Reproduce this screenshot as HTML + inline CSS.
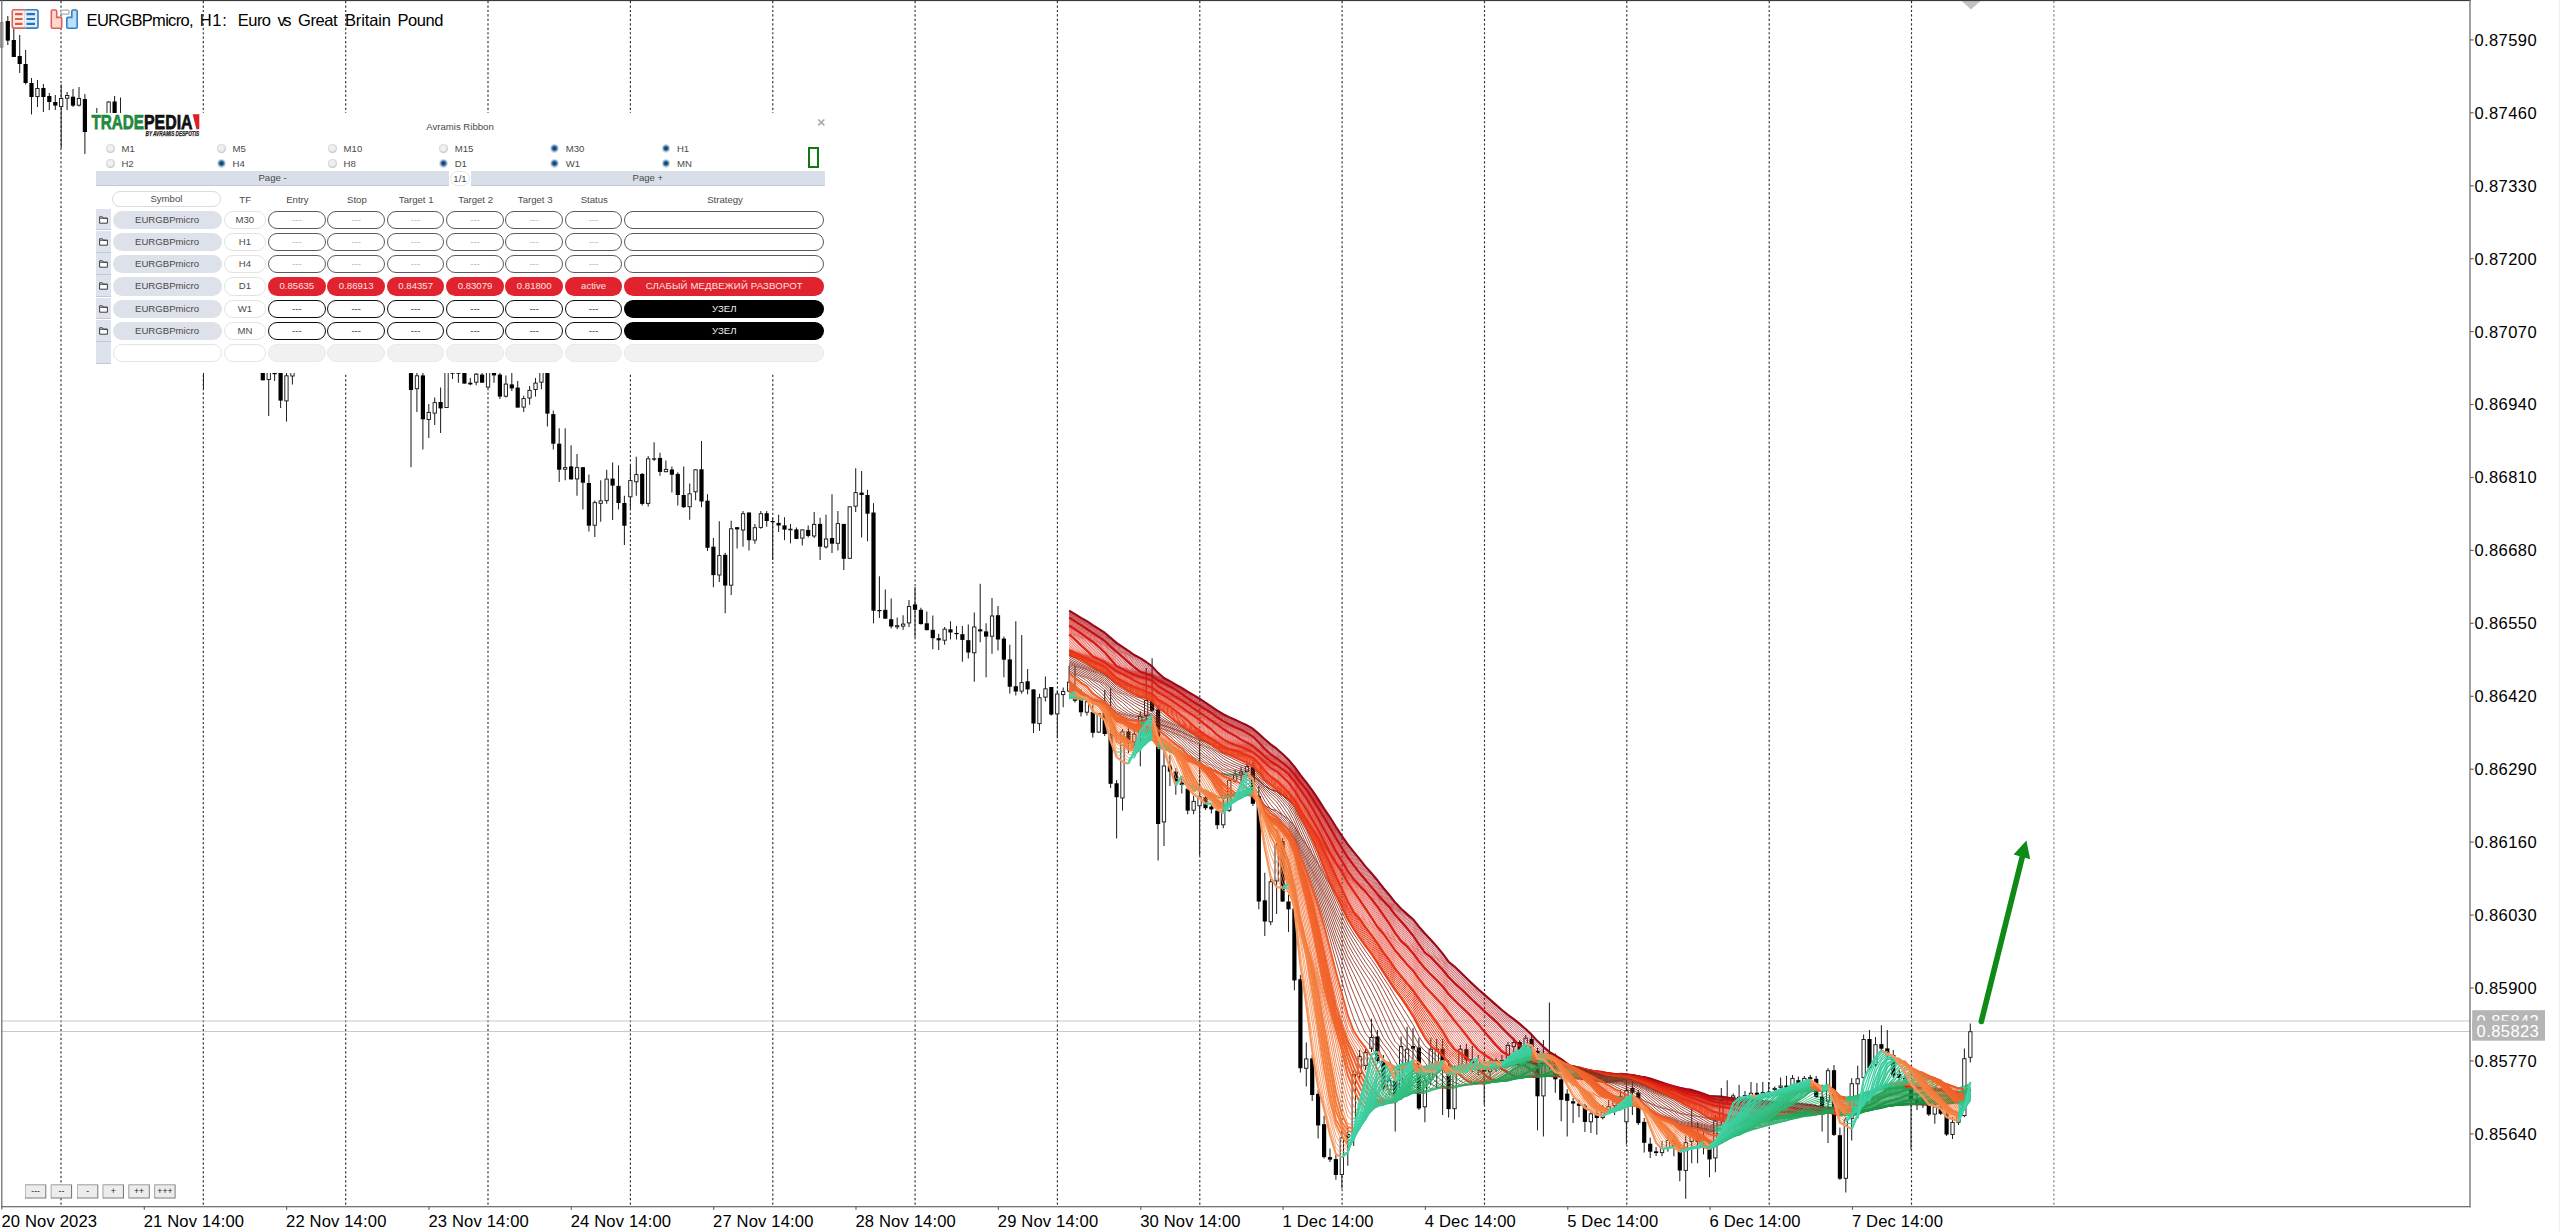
<!DOCTYPE html>
<html><head><meta charset="utf-8"><title>EURGBPmicro H1</title>
<style>
html,body{margin:0;padding:0;background:#fff;}
body{width:2560px;height:1231px;overflow:hidden;position:relative;font-family:"Liberation Sans",sans-serif;}
#ui div{position:absolute;}
</style></head><body>
<svg id="chart" width="2560" height="1231" viewBox="0 0 2560 1231" style="position:absolute;left:0;top:0"><rect width="2560" height="1231" fill="#fff"/><line x1="61.0" y1="1" x2="61.0" y2="1206" stroke="#303030" stroke-width="1.15" stroke-dasharray="2.2 2.25"/><line x1="203.3" y1="1" x2="203.3" y2="1206" stroke="#303030" stroke-width="1.15" stroke-dasharray="2.2 2.25"/><line x1="345.7" y1="1" x2="345.7" y2="1206" stroke="#303030" stroke-width="1.15" stroke-dasharray="2.2 2.25"/><line x1="488.0" y1="1" x2="488.0" y2="1206" stroke="#303030" stroke-width="1.15" stroke-dasharray="2.2 2.25"/><line x1="630.4" y1="1" x2="630.4" y2="1206" stroke="#303030" stroke-width="1.15" stroke-dasharray="2.2 2.25"/><line x1="772.8" y1="1" x2="772.8" y2="1206" stroke="#303030" stroke-width="1.15" stroke-dasharray="2.2 2.25"/><line x1="915.1" y1="1" x2="915.1" y2="1206" stroke="#303030" stroke-width="1.15" stroke-dasharray="2.2 2.25"/><line x1="1057.4" y1="1" x2="1057.4" y2="1206" stroke="#303030" stroke-width="1.15" stroke-dasharray="2.2 2.25"/><line x1="1199.8" y1="1" x2="1199.8" y2="1206" stroke="#303030" stroke-width="1.15" stroke-dasharray="2.2 2.25"/><line x1="1342.1" y1="1" x2="1342.1" y2="1206" stroke="#303030" stroke-width="1.15" stroke-dasharray="2.2 2.25"/><line x1="1484.5" y1="1" x2="1484.5" y2="1206" stroke="#303030" stroke-width="1.15" stroke-dasharray="2.2 2.25"/><line x1="1626.8" y1="1" x2="1626.8" y2="1206" stroke="#303030" stroke-width="1.15" stroke-dasharray="2.2 2.25"/><line x1="1769.2" y1="1" x2="1769.2" y2="1206" stroke="#303030" stroke-width="1.15" stroke-dasharray="2.2 2.25"/><line x1="1911.5" y1="1" x2="1911.5" y2="1206" stroke="#303030" stroke-width="1.15" stroke-dasharray="2.2 2.25"/><line x1="2053.9" y1="1" x2="2053.9" y2="1206" stroke="#808080" stroke-width="1.15" stroke-dasharray="2.2 2.25"/><line x1="2" y1="1021" x2="2470" y2="1021" stroke="#c9c9c9" stroke-width="1.1"/><line x1="2" y1="1031.5" x2="2470" y2="1031.5" stroke="#c9c9c9" stroke-width="1.1"/><g id="candles"><rect x="0.4" y="22.6" width="2.6" height="24.6" fill="#e6e6e6" stroke="#8c8c8c" stroke-width="0.9"/><path d="M7.8 16.0V45.0" stroke="#222" stroke-width="1.05"/><rect x="5.7" y="21.0" width="4.2" height="19.6" fill="#000"/><path d="M13.8 28.5V57.0" stroke="#222" stroke-width="1.05"/><rect x="11.7" y="40.0" width="4.2" height="17.0" fill="#000"/><path d="M19.7 35.0V73.0" stroke="#222" stroke-width="1.05"/><rect x="17.6" y="56.0" width="4.2" height="8.0" fill="#000"/><path d="M25.6 50.0V84.5" stroke="#222" stroke-width="1.05"/><rect x="23.5" y="64.0" width="4.2" height="19.0" fill="#000"/><path d="M31.5 78.0V114.5" stroke="#222" stroke-width="1.05"/><rect x="29.4" y="83.0" width="4.2" height="14.0" fill="#000"/><path d="M37.5 80.0V107.0" stroke="#222" stroke-width="1.05"/><rect x="35.8" y="88.5" width="3.3" height="8.1" fill="#fff" stroke="#1a1a1a" stroke-width="0.95"/><path d="M43.4 84.0V112.0" stroke="#222" stroke-width="1.05"/><rect x="41.3" y="88.0" width="4.2" height="9.0" fill="#000"/><path d="M49.3 93.0V110.0" stroke="#222" stroke-width="1.05"/><rect x="47.2" y="96.0" width="4.2" height="6.0" fill="#000"/><path d="M55.3 95.0V110.0" stroke="#222" stroke-width="1.05"/><rect x="53.2" y="102.0" width="4.2" height="3.6" fill="#000"/><path d="M61.2 84.5V148.0" stroke="#222" stroke-width="1.05"/><rect x="59.5" y="98.5" width="3.3" height="8.1" fill="#fff" stroke="#1a1a1a" stroke-width="0.95"/><path d="M67.1 92.0V110.0" stroke="#222" stroke-width="1.05"/><rect x="65.5" y="95.5" width="3.3" height="2.7" fill="#fff" stroke="#1a1a1a" stroke-width="0.95"/><path d="M73.0 89.0V107.0" stroke="#222" stroke-width="1.05"/><rect x="70.9" y="96.7" width="4.2" height="8.9" fill="#000"/><path d="M79.0 87.0V106.5" stroke="#222" stroke-width="1.05"/><rect x="77.3" y="98.5" width="3.3" height="6.7" fill="#fff" stroke="#1a1a1a" stroke-width="0.95"/><path d="M84.9 94.0V154.0" stroke="#222" stroke-width="1.05"/><rect x="82.8" y="99.0" width="4.2" height="33.0" fill="#000"/><path d="M90.8 114.0V136.0" stroke="#222" stroke-width="1.05"/><rect x="89.2" y="120.5" width="3.3" height="11.1" fill="#fff" stroke="#1a1a1a" stroke-width="0.95"/><path d="M96.8 108.0V124.0" stroke="#222" stroke-width="1.05"/><rect x="95.1" y="114.5" width="3.3" height="5.1" fill="#fff" stroke="#1a1a1a" stroke-width="0.95"/><path d="M102.7 114.0V120.0" stroke="#222" stroke-width="1.05"/><rect x="100.6" y="114.0" width="4.2" height="2.0" fill="#000"/><path d="M108.6 101.5V118.0" stroke="#222" stroke-width="1.05"/><rect x="107.0" y="102.0" width="3.3" height="13.6" fill="#fff" stroke="#1a1a1a" stroke-width="0.95"/><path d="M114.6 96.0V116.0" stroke="#222" stroke-width="1.05"/><rect x="112.5" y="101.5" width="4.2" height="12.5" fill="#000"/><path d="M120.5 97.5V118.0" stroke="#222" stroke-width="1.05"/><rect x="118.8" y="114.5" width="3.3" height="1.1" fill="#fff" stroke="#1a1a1a" stroke-width="0.95"/><path d="M203.5 360.0V389.0" stroke="#222" stroke-width="1.05"/><rect x="201.4" y="365.0" width="4.2" height="6.0" fill="#000"/><path d="M262.8 372.0V380.3" stroke="#222" stroke-width="1.05"/><rect x="260.7" y="372.0" width="4.2" height="8.3" fill="#000"/><path d="M268.7 372.0V416.0" stroke="#222" stroke-width="1.05"/><rect x="267.1" y="372.4" width="3.3" height="7.1" fill="#fff" stroke="#1a1a1a" stroke-width="0.95"/><path d="M274.6 372.0V381.0" stroke="#222" stroke-width="1.05"/><rect x="272.5" y="373.0" width="4.2" height="1.2" fill="#000"/><path d="M280.6 372.0V408.0" stroke="#222" stroke-width="1.05"/><rect x="278.5" y="372.0" width="4.2" height="28.6" fill="#000"/><path d="M286.5 372.0V421.7" stroke="#222" stroke-width="1.05"/><rect x="284.8" y="375.8" width="3.3" height="25.1" fill="#fff" stroke="#1a1a1a" stroke-width="0.95"/><path d="M292.4 372.0V384.4" stroke="#222" stroke-width="1.05"/><rect x="290.8" y="372.4" width="3.3" height="3.6" fill="#fff" stroke="#1a1a1a" stroke-width="0.95"/><path d="M411.0 372.0V467.2" stroke="#222" stroke-width="1.05"/><rect x="408.9" y="372.0" width="4.2" height="18.0" fill="#000"/><path d="M416.9 372.0V412.0" stroke="#222" stroke-width="1.05"/><rect x="415.3" y="375.8" width="3.3" height="12.9" fill="#fff" stroke="#1a1a1a" stroke-width="0.95"/><path d="M422.9 372.0V449.4" stroke="#222" stroke-width="1.05"/><rect x="420.8" y="375.4" width="4.2" height="43.9" fill="#000"/><path d="M428.8 403.9V438.0" stroke="#222" stroke-width="1.05"/><rect x="427.1" y="412.4" width="3.3" height="7.1" fill="#fff" stroke="#1a1a1a" stroke-width="0.95"/><path d="M434.7 397.4V425.0" stroke="#222" stroke-width="1.05"/><rect x="433.1" y="402.6" width="3.3" height="10.5" fill="#fff" stroke="#1a1a1a" stroke-width="0.95"/><path d="M440.6 387.6V433.0" stroke="#222" stroke-width="1.05"/><rect x="438.5" y="402.0" width="4.2" height="6.4" fill="#000"/><path d="M446.6 372.0V408.0" stroke="#222" stroke-width="1.05"/><rect x="444.9" y="372.4" width="3.3" height="35.1" fill="#fff" stroke="#1a1a1a" stroke-width="0.95"/><path d="M452.5 372.0V379.0" stroke="#222" stroke-width="1.05"/><rect x="450.4" y="372.5" width="4.2" height="1.2" fill="#000"/><path d="M458.4 372.0V382.7" stroke="#222" stroke-width="1.05"/><rect x="456.3" y="372.5" width="4.2" height="1.2" fill="#000"/><path d="M464.4 372.0V383.6" stroke="#222" stroke-width="1.05"/><rect x="462.3" y="372.0" width="4.2" height="11.6" fill="#000"/><path d="M470.3 377.9V385.2" stroke="#222" stroke-width="1.05"/><rect x="468.2" y="382.7" width="4.2" height="1.7" fill="#000"/><path d="M476.2 372.0V385.2" stroke="#222" stroke-width="1.05"/><rect x="474.6" y="374.2" width="3.3" height="8.0" fill="#fff" stroke="#1a1a1a" stroke-width="0.95"/><path d="M482.1 372.0V382.7" stroke="#222" stroke-width="1.05"/><rect x="480.0" y="374.6" width="4.2" height="8.1" fill="#000"/><path d="M488.1 372.0V388.4" stroke="#222" stroke-width="1.05"/><rect x="486.4" y="372.4" width="3.3" height="14.7" fill="#fff" stroke="#1a1a1a" stroke-width="0.95"/><path d="M494.0 372.0V382.7" stroke="#222" stroke-width="1.05"/><rect x="491.9" y="373.0" width="4.2" height="2.4" fill="#000"/><path d="M499.9 372.0V399.0" stroke="#222" stroke-width="1.05"/><rect x="497.8" y="374.6" width="4.2" height="22.0" fill="#000"/><path d="M505.9 375.4V397.4" stroke="#222" stroke-width="1.05"/><rect x="504.2" y="384.1" width="3.3" height="12.1" fill="#fff" stroke="#1a1a1a" stroke-width="0.95"/><path d="M511.8 372.0V390.9" stroke="#222" stroke-width="1.05"/><rect x="509.7" y="384.4" width="4.2" height="4.0" fill="#000"/><path d="M517.7 381.1V407.6" stroke="#222" stroke-width="1.05"/><rect x="515.6" y="387.6" width="4.2" height="20.0" fill="#000"/><path d="M523.7 395.7V412.0" stroke="#222" stroke-width="1.05"/><rect x="522.0" y="398.6" width="3.3" height="8.5" fill="#fff" stroke="#1a1a1a" stroke-width="0.95"/><path d="M529.6 386.0V404.7" stroke="#222" stroke-width="1.05"/><rect x="527.9" y="390.4" width="3.3" height="7.6" fill="#fff" stroke="#1a1a1a" stroke-width="0.95"/><path d="M535.5 377.9V396.6" stroke="#222" stroke-width="1.05"/><rect x="533.9" y="383.1" width="3.3" height="6.4" fill="#fff" stroke="#1a1a1a" stroke-width="0.95"/><path d="M541.4 372.0V389.2" stroke="#222" stroke-width="1.05"/><rect x="539.8" y="372.4" width="3.3" height="9.8" fill="#fff" stroke="#1a1a1a" stroke-width="0.95"/><path d="M547.4 372.0V426.6" stroke="#222" stroke-width="1.05"/><rect x="545.3" y="372.0" width="4.2" height="41.6" fill="#000"/><path d="M553.3 410.4V449.4" stroke="#222" stroke-width="1.05"/><rect x="551.2" y="414.1" width="4.2" height="29.6" fill="#000"/><path d="M559.2 428.2V481.9" stroke="#222" stroke-width="1.05"/><rect x="557.1" y="443.7" width="4.2" height="26.0" fill="#000"/><path d="M565.2 428.2V480.2" stroke="#222" stroke-width="1.05"/><rect x="563.5" y="467.6" width="3.3" height="1.6" fill="#fff" stroke="#1a1a1a" stroke-width="0.95"/><path d="M571.1 445.3V479.4" stroke="#222" stroke-width="1.05"/><rect x="569.0" y="466.4" width="4.2" height="13.0" fill="#000"/><path d="M577.0 453.9V495.7" stroke="#222" stroke-width="1.05"/><rect x="575.4" y="467.6" width="3.3" height="11.3" fill="#fff" stroke="#1a1a1a" stroke-width="0.95"/><path d="M582.9 467.2V509.5" stroke="#222" stroke-width="1.05"/><rect x="580.8" y="467.2" width="4.2" height="15.5" fill="#000"/><path d="M588.9 474.5V531.4" stroke="#222" stroke-width="1.05"/><rect x="586.8" y="483.0" width="4.2" height="42.7" fill="#000"/><path d="M594.8 500.5V537.1" stroke="#222" stroke-width="1.05"/><rect x="593.1" y="502.6" width="3.3" height="22.6" fill="#fff" stroke="#1a1a1a" stroke-width="0.95"/><path d="M600.7 480.2V521.7" stroke="#222" stroke-width="1.05"/><rect x="599.1" y="500.9" width="3.3" height="2.4" fill="#fff" stroke="#1a1a1a" stroke-width="0.95"/><path d="M606.7 469.7V503.8" stroke="#222" stroke-width="1.05"/><rect x="605.0" y="479.1" width="3.3" height="21.5" fill="#fff" stroke="#1a1a1a" stroke-width="0.95"/><path d="M612.6 462.4V520.0" stroke="#222" stroke-width="1.05"/><rect x="610.5" y="478.6" width="4.2" height="7.0" fill="#000"/><path d="M618.5 465.3V509.5" stroke="#222" stroke-width="1.05"/><rect x="616.4" y="485.9" width="4.2" height="17.1" fill="#000"/><path d="M624.4 495.7V544.9" stroke="#222" stroke-width="1.05"/><rect x="622.3" y="503.0" width="4.2" height="22.7" fill="#000"/><path d="M630.4 465.6V508.7" stroke="#222" stroke-width="1.05"/><rect x="628.7" y="480.6" width="3.3" height="16.2" fill="#fff" stroke="#1a1a1a" stroke-width="0.95"/><path d="M636.3 456.8V495.8" stroke="#222" stroke-width="1.05"/><rect x="634.7" y="474.6" width="3.3" height="7.2" fill="#fff" stroke="#1a1a1a" stroke-width="0.95"/><path d="M642.2 473.0V505.5" stroke="#222" stroke-width="1.05"/><rect x="640.1" y="473.9" width="4.2" height="30.0" fill="#000"/><path d="M648.2 456.0V506.4" stroke="#222" stroke-width="1.05"/><rect x="646.5" y="458.8" width="3.3" height="44.6" fill="#fff" stroke="#1a1a1a" stroke-width="0.95"/><path d="M654.1 442.2V460.9" stroke="#222" stroke-width="1.05"/><rect x="652.0" y="458.4" width="4.2" height="1.2" fill="#000"/><path d="M660.0 452.7V475.8" stroke="#222" stroke-width="1.05"/><rect x="657.9" y="457.9" width="4.2" height="14.0" fill="#000"/><path d="M665.9 460.5V472.2" stroke="#222" stroke-width="1.05"/><rect x="664.3" y="469.4" width="3.3" height="2.3" fill="#fff" stroke="#1a1a1a" stroke-width="0.95"/><path d="M671.9 466.6V492.6" stroke="#222" stroke-width="1.05"/><rect x="669.8" y="469.5" width="4.2" height="5.2" fill="#000"/><path d="M677.8 472.2V505.5" stroke="#222" stroke-width="1.05"/><rect x="675.7" y="473.9" width="4.2" height="21.1" fill="#000"/><path d="M683.7 466.6V508.0" stroke="#222" stroke-width="1.05"/><rect x="681.6" y="495.0" width="4.2" height="12.2" fill="#000"/><path d="M689.7 483.6V519.7" stroke="#222" stroke-width="1.05"/><rect x="688.0" y="493.8" width="3.3" height="12.9" fill="#fff" stroke="#1a1a1a" stroke-width="0.95"/><path d="M695.6 469.3V500.2" stroke="#222" stroke-width="1.05"/><rect x="693.9" y="469.8" width="3.3" height="22.0" fill="#fff" stroke="#1a1a1a" stroke-width="0.95"/><path d="M701.5 441.0V507.2" stroke="#222" stroke-width="1.05"/><rect x="699.4" y="469.3" width="4.2" height="32.2" fill="#000"/><path d="M707.5 494.2V551.0" stroke="#222" stroke-width="1.05"/><rect x="705.4" y="500.7" width="4.2" height="47.1" fill="#000"/><path d="M713.4 538.0V587.3" stroke="#222" stroke-width="1.05"/><rect x="711.3" y="546.7" width="4.2" height="28.4" fill="#000"/><path d="M719.3 521.3V581.9" stroke="#222" stroke-width="1.05"/><rect x="717.7" y="555.6" width="3.3" height="19.4" fill="#fff" stroke="#1a1a1a" stroke-width="0.95"/><path d="M725.2 552.7V613.3" stroke="#222" stroke-width="1.05"/><rect x="723.1" y="554.8" width="4.2" height="30.8" fill="#000"/><path d="M731.2 520.7V594.9" stroke="#222" stroke-width="1.05"/><rect x="729.5" y="528.8" width="3.3" height="56.4" fill="#fff" stroke="#1a1a1a" stroke-width="0.95"/><path d="M737.1 527.2V548.6" stroke="#222" stroke-width="1.05"/><rect x="735.0" y="527.2" width="4.2" height="2.2" fill="#000"/><path d="M743.0 510.9V546.7" stroke="#222" stroke-width="1.05"/><rect x="741.4" y="513.7" width="3.3" height="16.3" fill="#fff" stroke="#1a1a1a" stroke-width="0.95"/><path d="M749.0 512.5V550.6" stroke="#222" stroke-width="1.05"/><rect x="746.9" y="512.5" width="4.2" height="27.7" fill="#000"/><path d="M754.9 523.9V543.7" stroke="#222" stroke-width="1.05"/><rect x="753.2" y="527.7" width="3.3" height="12.4" fill="#fff" stroke="#1a1a1a" stroke-width="0.95"/><path d="M760.8 510.9V528.8" stroke="#222" stroke-width="1.05"/><rect x="759.2" y="513.7" width="3.3" height="13.7" fill="#fff" stroke="#1a1a1a" stroke-width="0.95"/><path d="M766.7 510.9V526.7" stroke="#222" stroke-width="1.05"/><rect x="764.6" y="513.2" width="4.2" height="7.8" fill="#000"/><path d="M772.7 517.7V560.0" stroke="#222" stroke-width="1.05"/><rect x="770.6" y="521.0" width="4.2" height="1.2" fill="#000"/><path d="M778.6 514.8V532.0" stroke="#222" stroke-width="1.05"/><rect x="776.5" y="522.9" width="4.2" height="2.6" fill="#000"/><path d="M784.5 517.2V540.2" stroke="#222" stroke-width="1.05"/><rect x="782.4" y="525.4" width="4.2" height="4.2" fill="#000"/><path d="M790.5 523.9V543.4" stroke="#222" stroke-width="1.05"/><rect x="788.8" y="529.2" width="3.3" height="0.6" fill="#fff" stroke="#1a1a1a" stroke-width="0.95"/><path d="M796.4 527.5V539.2" stroke="#222" stroke-width="1.05"/><rect x="794.3" y="529.4" width="4.2" height="9.5" fill="#000"/><path d="M802.3 529.4V545.4" stroke="#222" stroke-width="1.05"/><rect x="800.7" y="529.9" width="3.3" height="8.2" fill="#fff" stroke="#1a1a1a" stroke-width="0.95"/><path d="M808.2 525.5V537.6" stroke="#222" stroke-width="1.05"/><rect x="806.1" y="529.9" width="4.2" height="6.0" fill="#000"/><path d="M814.2 512.0V538.0" stroke="#222" stroke-width="1.05"/><rect x="812.5" y="524.4" width="3.3" height="11.6" fill="#fff" stroke="#1a1a1a" stroke-width="0.95"/><path d="M820.1 517.7V560.0" stroke="#222" stroke-width="1.05"/><rect x="818.0" y="523.9" width="4.2" height="22.8" fill="#000"/><path d="M826.0 514.8V548.6" stroke="#222" stroke-width="1.05"/><rect x="824.4" y="539.0" width="3.3" height="7.9" fill="#fff" stroke="#1a1a1a" stroke-width="0.95"/><path d="M832.0 494.2V553.0" stroke="#222" stroke-width="1.05"/><rect x="829.9" y="538.0" width="4.2" height="5.7" fill="#000"/><path d="M837.9 510.9V550.6" stroke="#222" stroke-width="1.05"/><rect x="836.2" y="523.6" width="3.3" height="19.7" fill="#fff" stroke="#1a1a1a" stroke-width="0.95"/><path d="M843.8 523.9V570.0" stroke="#222" stroke-width="1.05"/><rect x="841.7" y="523.9" width="4.2" height="34.9" fill="#000"/><path d="M849.7 506.4V558.8" stroke="#222" stroke-width="1.05"/><rect x="848.1" y="506.8" width="3.3" height="51.5" fill="#fff" stroke="#1a1a1a" stroke-width="0.95"/><path d="M855.7 468.2V512.0" stroke="#222" stroke-width="1.05"/><rect x="854.0" y="492.6" width="3.3" height="13.6" fill="#fff" stroke="#1a1a1a" stroke-width="0.95"/><path d="M861.6 470.9V537.6" stroke="#222" stroke-width="1.05"/><rect x="859.5" y="492.6" width="4.2" height="2.4" fill="#000"/><path d="M867.5 489.8V541.3" stroke="#222" stroke-width="1.05"/><rect x="865.4" y="495.0" width="4.2" height="18.7" fill="#000"/><path d="M873.5 503.1V623.3" stroke="#222" stroke-width="1.05"/><rect x="871.4" y="512.5" width="4.2" height="98.2" fill="#000"/><path d="M879.4 576.2V618.1" stroke="#222" stroke-width="1.05"/><rect x="877.3" y="610.0" width="4.2" height="1.2" fill="#000"/><path d="M885.3 589.5V618.7" stroke="#222" stroke-width="1.05"/><rect x="883.2" y="609.8" width="4.2" height="8.9" fill="#000"/><path d="M891.2 598.4V628.5" stroke="#222" stroke-width="1.05"/><rect x="889.1" y="619.2" width="4.2" height="7.3" fill="#000"/><path d="M897.2 617.4V629.3" stroke="#222" stroke-width="1.05"/><rect x="895.5" y="625.7" width="3.3" height="1.1" fill="#fff" stroke="#1a1a1a" stroke-width="0.95"/><path d="M903.1 615.2V629.8" stroke="#222" stroke-width="1.05"/><rect x="901.5" y="624.1" width="3.3" height="2.0" fill="#fff" stroke="#1a1a1a" stroke-width="0.95"/><path d="M909.0 600.0V626.9" stroke="#222" stroke-width="1.05"/><rect x="907.4" y="606.5" width="3.3" height="16.4" fill="#fff" stroke="#1a1a1a" stroke-width="0.95"/><path d="M915.0 587.0V637.4" stroke="#222" stroke-width="1.05"/><rect x="912.9" y="604.4" width="4.2" height="5.4" fill="#000"/><path d="M920.9 607.7V624.4" stroke="#222" stroke-width="1.05"/><rect x="918.8" y="609.8" width="4.2" height="14.3" fill="#000"/><path d="M926.8 611.4V630.4" stroke="#222" stroke-width="1.05"/><rect x="924.7" y="623.3" width="4.2" height="6.8" fill="#000"/><path d="M932.8 615.5V649.3" stroke="#222" stroke-width="1.05"/><rect x="930.7" y="629.8" width="4.2" height="8.4" fill="#000"/><path d="M938.7 633.7V649.9" stroke="#222" stroke-width="1.05"/><rect x="936.6" y="638.2" width="4.2" height="2.1" fill="#000"/><path d="M944.6 626.9V644.7" stroke="#222" stroke-width="1.05"/><rect x="943.0" y="629.2" width="3.3" height="11.0" fill="#fff" stroke="#1a1a1a" stroke-width="0.95"/><path d="M950.5 621.2V639.5" stroke="#222" stroke-width="1.05"/><rect x="948.4" y="629.3" width="4.2" height="3.2" fill="#000"/><path d="M956.5 626.0V639.5" stroke="#222" stroke-width="1.05"/><rect x="954.4" y="633.0" width="4.2" height="1.2" fill="#000"/><path d="M962.4 626.0V661.8" stroke="#222" stroke-width="1.05"/><rect x="960.3" y="634.2" width="4.2" height="5.7" fill="#000"/><path d="M968.3 624.4V658.5" stroke="#222" stroke-width="1.05"/><rect x="966.2" y="640.2" width="4.2" height="12.3" fill="#000"/><path d="M974.3 612.6V681.8" stroke="#222" stroke-width="1.05"/><rect x="972.6" y="627.0" width="3.3" height="25.8" fill="#fff" stroke="#1a1a1a" stroke-width="0.95"/><path d="M980.2 583.8V642.3" stroke="#222" stroke-width="1.05"/><rect x="978.1" y="629.3" width="4.2" height="2.1" fill="#000"/><path d="M986.1 623.3V677.2" stroke="#222" stroke-width="1.05"/><rect x="984.0" y="631.4" width="4.2" height="5.2" fill="#000"/><path d="M992.0 597.9V653.7" stroke="#222" stroke-width="1.05"/><rect x="990.4" y="616.0" width="3.3" height="20.2" fill="#fff" stroke="#1a1a1a" stroke-width="0.95"/><path d="M998.0 606.0V650.4" stroke="#222" stroke-width="1.05"/><rect x="995.9" y="615.2" width="4.2" height="24.3" fill="#000"/><path d="M1003.9 636.6V677.2" stroke="#222" stroke-width="1.05"/><rect x="1001.8" y="638.6" width="4.2" height="21.1" fill="#000"/><path d="M1009.8 644.7V693.5" stroke="#222" stroke-width="1.05"/><rect x="1007.7" y="659.4" width="4.2" height="27.3" fill="#000"/><path d="M1015.8 621.2V695.4" stroke="#222" stroke-width="1.05"/><rect x="1013.7" y="686.2" width="4.2" height="5.3" fill="#000"/><path d="M1021.7 635.0V693.8" stroke="#222" stroke-width="1.05"/><rect x="1020.0" y="682.6" width="3.3" height="8.5" fill="#fff" stroke="#1a1a1a" stroke-width="0.95"/><path d="M1027.6 669.1V694.3" stroke="#222" stroke-width="1.05"/><rect x="1025.5" y="681.3" width="4.2" height="8.1" fill="#000"/><path d="M1033.5 689.4V733.0" stroke="#222" stroke-width="1.05"/><rect x="1031.4" y="689.4" width="4.2" height="34.1" fill="#000"/><path d="M1039.5 693.8V730.8" stroke="#222" stroke-width="1.05"/><rect x="1037.8" y="697.7" width="3.3" height="25.9" fill="#fff" stroke="#1a1a1a" stroke-width="0.95"/><path d="M1045.4 676.4V701.6" stroke="#222" stroke-width="1.05"/><rect x="1043.8" y="688.8" width="3.3" height="8.3" fill="#fff" stroke="#1a1a1a" stroke-width="0.95"/><path d="M1051.3 687.0V715.4" stroke="#222" stroke-width="1.05"/><rect x="1049.2" y="687.0" width="4.2" height="27.6" fill="#000"/><path d="M1057.3 690.6V738.2" stroke="#222" stroke-width="1.05"/><rect x="1055.6" y="694.0" width="3.3" height="19.9" fill="#fff" stroke="#1a1a1a" stroke-width="0.95"/><path d="M1063.2 687.5V707.3" stroke="#222" stroke-width="1.05"/><rect x="1061.5" y="691.5" width="3.3" height="3.1" fill="#fff" stroke="#1a1a1a" stroke-width="0.95"/><path d="M1069.1 665.9V691.9" stroke="#222" stroke-width="1.05"/><rect x="1067.5" y="682.2" width="3.3" height="8.8" fill="#fff" stroke="#1a1a1a" stroke-width="0.95"/><path d="M1075.0 665.9V702.4" stroke="#222" stroke-width="1.05"/><rect x="1072.9" y="697.5" width="4.2" height="3.3" fill="#000"/><path d="M1081.0 689.4V716.5" stroke="#222" stroke-width="1.05"/><rect x="1078.9" y="700.0" width="4.2" height="12.3" fill="#000"/><path d="M1086.9 698.3V715.5" stroke="#222" stroke-width="1.05"/><rect x="1085.3" y="701.7" width="3.3" height="10.5" fill="#fff" stroke="#1a1a1a" stroke-width="0.95"/><path d="M1092.8 704.8V737.4" stroke="#222" stroke-width="1.05"/><rect x="1090.7" y="712.0" width="4.2" height="20.8" fill="#000"/><path d="M1098.8 713.0V733.0" stroke="#222" stroke-width="1.05"/><rect x="1097.1" y="713.5" width="3.3" height="18.6" fill="#fff" stroke="#1a1a1a" stroke-width="0.95"/><path d="M1104.7 690.0V736.0" stroke="#222" stroke-width="1.05"/><rect x="1102.6" y="713.0" width="4.2" height="21.0" fill="#000"/><path d="M1110.6 687.8V788.0" stroke="#222" stroke-width="1.05"/><rect x="1108.5" y="733.8" width="4.2" height="50.0" fill="#000"/><path d="M1116.6 780.0V838.6" stroke="#222" stroke-width="1.05"/><rect x="1114.5" y="783.3" width="4.2" height="13.9" fill="#000"/><path d="M1122.5 729.0V810.6" stroke="#222" stroke-width="1.05"/><rect x="1120.8" y="731.9" width="3.3" height="66.1" fill="#fff" stroke="#1a1a1a" stroke-width="0.95"/><path d="M1128.4 726.0V753.0" stroke="#222" stroke-width="1.05"/><rect x="1126.3" y="731.4" width="4.2" height="11.0" fill="#000"/><path d="M1134.3 730.0V750.0" stroke="#222" stroke-width="1.05"/><rect x="1132.7" y="734.2" width="3.3" height="7.7" fill="#fff" stroke="#1a1a1a" stroke-width="0.95"/><path d="M1140.3 711.3V766.2" stroke="#222" stroke-width="1.05"/><rect x="1138.6" y="716.5" width="3.3" height="16.9" fill="#fff" stroke="#1a1a1a" stroke-width="0.95"/><path d="M1146.2 668.0V720.0" stroke="#222" stroke-width="1.05"/><rect x="1144.5" y="700.5" width="3.3" height="15.1" fill="#fff" stroke="#1a1a1a" stroke-width="0.95"/><path d="M1152.1 658.3V712.0" stroke="#222" stroke-width="1.05"/><rect x="1150.0" y="700.0" width="4.2" height="10.7" fill="#000"/><path d="M1158.1 705.0V860.6" stroke="#222" stroke-width="1.05"/><rect x="1156.0" y="709.5" width="4.2" height="114.5" fill="#000"/><path d="M1164.0 749.7V846.0" stroke="#222" stroke-width="1.05"/><rect x="1162.3" y="766.0" width="3.3" height="55.9" fill="#fff" stroke="#1a1a1a" stroke-width="0.95"/><path d="M1169.9 755.0V786.0" stroke="#222" stroke-width="1.05"/><rect x="1167.8" y="765.5" width="4.2" height="6.1" fill="#000"/><path d="M1175.8 768.0V794.8" stroke="#222" stroke-width="1.05"/><rect x="1173.7" y="771.6" width="4.2" height="9.8" fill="#000"/><path d="M1181.8 776.5V793.5" stroke="#222" stroke-width="1.05"/><rect x="1179.7" y="782.6" width="4.2" height="2.4" fill="#000"/><path d="M1187.7 785.0V814.3" stroke="#222" stroke-width="1.05"/><rect x="1185.6" y="788.7" width="4.2" height="21.9" fill="#000"/><path d="M1193.6 796.0V814.3" stroke="#222" stroke-width="1.05"/><rect x="1192.0" y="801.4" width="3.3" height="8.8" fill="#fff" stroke="#1a1a1a" stroke-width="0.95"/><path d="M1199.6 742.4V855.7" stroke="#222" stroke-width="1.05"/><rect x="1197.9" y="796.5" width="3.3" height="9.3" fill="#fff" stroke="#1a1a1a" stroke-width="0.95"/><path d="M1205.5 795.0V810.0" stroke="#222" stroke-width="1.05"/><rect x="1203.4" y="797.2" width="4.2" height="11.0" fill="#000"/><path d="M1211.4 804.0V813.5" stroke="#222" stroke-width="1.05"/><rect x="1209.3" y="806.5" width="4.2" height="2.9" fill="#000"/><path d="M1217.3 808.0V828.9" stroke="#222" stroke-width="1.05"/><rect x="1215.2" y="810.6" width="4.2" height="14.6" fill="#000"/><path d="M1223.3 799.6V828.2" stroke="#222" stroke-width="1.05"/><rect x="1221.6" y="811.1" width="3.3" height="13.7" fill="#fff" stroke="#1a1a1a" stroke-width="0.95"/><path d="M1229.2 778.0V812.0" stroke="#222" stroke-width="1.05"/><rect x="1227.6" y="780.5" width="3.3" height="29.7" fill="#fff" stroke="#1a1a1a" stroke-width="0.95"/><path d="M1235.1 770.0V783.0" stroke="#222" stroke-width="1.05"/><rect x="1233.5" y="774.1" width="3.3" height="6.9" fill="#fff" stroke="#1a1a1a" stroke-width="0.95"/><path d="M1241.1 766.7V783.8" stroke="#222" stroke-width="1.05"/><rect x="1239.4" y="772.1" width="3.3" height="2.8" fill="#fff" stroke="#1a1a1a" stroke-width="0.95"/><path d="M1247.0 760.6V775.0" stroke="#222" stroke-width="1.05"/><rect x="1245.3" y="766.5" width="3.3" height="5.1" fill="#fff" stroke="#1a1a1a" stroke-width="0.95"/><path d="M1252.9 761.9V806.0" stroke="#222" stroke-width="1.05"/><rect x="1250.8" y="766.7" width="4.2" height="37.1" fill="#000"/><path d="M1258.8 786.0V909.3" stroke="#222" stroke-width="1.05"/><rect x="1256.7" y="796.0" width="4.2" height="105.5" fill="#000"/><path d="M1264.8 872.7V936.0" stroke="#222" stroke-width="1.05"/><rect x="1262.7" y="900.3" width="4.2" height="21.2" fill="#000"/><path d="M1270.7 878.8V925.2" stroke="#222" stroke-width="1.05"/><rect x="1269.1" y="881.8" width="3.3" height="40.0" fill="#fff" stroke="#1a1a1a" stroke-width="0.95"/><path d="M1276.6 841.0V914.0" stroke="#222" stroke-width="1.05"/><rect x="1275.0" y="845.5" width="3.3" height="35.4" fill="#fff" stroke="#1a1a1a" stroke-width="0.95"/><path d="M1282.6 838.0V902.0" stroke="#222" stroke-width="1.05"/><rect x="1280.5" y="841.0" width="4.2" height="60.5" fill="#000"/><path d="M1288.5 894.7V932.0" stroke="#222" stroke-width="1.05"/><rect x="1286.4" y="901.5" width="4.2" height="7.8" fill="#000"/><path d="M1294.4 905.0V990.2" stroke="#222" stroke-width="1.05"/><rect x="1292.3" y="908.5" width="4.2" height="71.9" fill="#000"/><path d="M1300.4 975.0V1072.6" stroke="#222" stroke-width="1.05"/><rect x="1298.3" y="979.2" width="4.2" height="89.0" fill="#000"/><path d="M1306.3 1042.6V1086.5" stroke="#222" stroke-width="1.05"/><rect x="1304.6" y="1058.9" width="3.3" height="9.4" fill="#fff" stroke="#1a1a1a" stroke-width="0.95"/><path d="M1312.2 1055.0V1101.0" stroke="#222" stroke-width="1.05"/><rect x="1310.1" y="1058.4" width="4.2" height="36.6" fill="#000"/><path d="M1318.1 1090.0V1138.4" stroke="#222" stroke-width="1.05"/><rect x="1316.0" y="1093.8" width="4.2" height="31.6" fill="#000"/><path d="M1324.1 1115.7V1158.4" stroke="#222" stroke-width="1.05"/><rect x="1322.0" y="1124.2" width="4.2" height="32.9" fill="#000"/><path d="M1330.0 1148.6V1162.0" stroke="#222" stroke-width="1.05"/><rect x="1327.9" y="1157.1" width="4.2" height="2.5" fill="#000"/><path d="M1335.9 1155.0V1179.8" stroke="#222" stroke-width="1.05"/><rect x="1333.8" y="1159.1" width="4.2" height="15.9" fill="#000"/><path d="M1341.9 1130.0V1188.8" stroke="#222" stroke-width="1.05"/><rect x="1340.2" y="1138.0" width="3.3" height="36.5" fill="#fff" stroke="#1a1a1a" stroke-width="0.95"/><path d="M1347.8 1128.0V1165.7" stroke="#222" stroke-width="1.05"/><rect x="1345.7" y="1134.0" width="4.2" height="3.6" fill="#000"/><path d="M1353.7 1070.6V1146.0" stroke="#222" stroke-width="1.05"/><rect x="1352.1" y="1074.5" width="3.3" height="62.1" fill="#fff" stroke="#1a1a1a" stroke-width="0.95"/><path d="M1359.6 1050.0V1080.0" stroke="#222" stroke-width="1.05"/><rect x="1358.0" y="1056.5" width="3.3" height="17.1" fill="#fff" stroke="#1a1a1a" stroke-width="0.95"/><path d="M1365.6 1048.7V1070.0" stroke="#222" stroke-width="1.05"/><rect x="1363.9" y="1052.5" width="3.3" height="13.1" fill="#fff" stroke="#1a1a1a" stroke-width="0.95"/><path d="M1371.5 1018.7V1052.0" stroke="#222" stroke-width="1.05"/><rect x="1369.8" y="1037.5" width="3.3" height="10.8" fill="#fff" stroke="#1a1a1a" stroke-width="0.95"/><path d="M1377.4 1030.0V1064.0" stroke="#222" stroke-width="1.05"/><rect x="1375.3" y="1036.5" width="4.2" height="24.4" fill="#000"/><path d="M1383.4 1055.0V1092.0" stroke="#222" stroke-width="1.05"/><rect x="1381.3" y="1060.9" width="4.2" height="27.1" fill="#000"/><path d="M1389.3 1075.0V1095.0" stroke="#222" stroke-width="1.05"/><rect x="1387.6" y="1080.5" width="3.3" height="9.1" fill="#fff" stroke="#1a1a1a" stroke-width="0.95"/><path d="M1395.2 1072.0V1131.5" stroke="#222" stroke-width="1.05"/><rect x="1393.1" y="1080.0" width="4.2" height="15.0" fill="#000"/><path d="M1401.1 1036.5V1100.0" stroke="#222" stroke-width="1.05"/><rect x="1399.5" y="1046.5" width="3.3" height="48.1" fill="#fff" stroke="#1a1a1a" stroke-width="0.95"/><path d="M1407.1 1026.7V1072.0" stroke="#222" stroke-width="1.05"/><rect x="1405.4" y="1049.2" width="3.3" height="18.4" fill="#fff" stroke="#1a1a1a" stroke-width="0.95"/><path d="M1413.0 1028.0V1060.0" stroke="#222" stroke-width="1.05"/><rect x="1410.9" y="1046.0" width="4.2" height="2.7" fill="#000"/><path d="M1418.9 1037.7V1110.0" stroke="#222" stroke-width="1.05"/><rect x="1416.8" y="1047.5" width="4.2" height="60.9" fill="#000"/><path d="M1424.9 1075.0V1122.3" stroke="#222" stroke-width="1.05"/><rect x="1423.2" y="1080.9" width="3.3" height="25.9" fill="#fff" stroke="#1a1a1a" stroke-width="0.95"/><path d="M1430.8 1037.7V1085.0" stroke="#222" stroke-width="1.05"/><rect x="1429.1" y="1049.2" width="3.3" height="30.4" fill="#fff" stroke="#1a1a1a" stroke-width="0.95"/><path d="M1436.7 1039.0V1088.9" stroke="#222" stroke-width="1.05"/><rect x="1435.1" y="1049.2" width="3.3" height="16.1" fill="#fff" stroke="#1a1a1a" stroke-width="0.95"/><path d="M1442.6 1039.0V1115.0" stroke="#222" stroke-width="1.05"/><rect x="1440.5" y="1048.7" width="4.2" height="14.6" fill="#000"/><path d="M1448.6 1060.0V1117.6" stroke="#222" stroke-width="1.05"/><rect x="1446.5" y="1068.2" width="4.2" height="40.9" fill="#000"/><path d="M1454.5 1065.7V1119.4" stroke="#222" stroke-width="1.05"/><rect x="1452.9" y="1068.7" width="3.3" height="40.0" fill="#fff" stroke="#1a1a1a" stroke-width="0.95"/><path d="M1460.4 1045.0V1072.0" stroke="#222" stroke-width="1.05"/><rect x="1458.8" y="1049.2" width="3.3" height="18.6" fill="#fff" stroke="#1a1a1a" stroke-width="0.95"/><path d="M1466.4 1043.8V1065.0" stroke="#222" stroke-width="1.05"/><rect x="1464.3" y="1049.2" width="4.2" height="10.4" fill="#000"/><path d="M1472.3 1046.0V1072.0" stroke="#222" stroke-width="1.05"/><rect x="1470.2" y="1059.0" width="4.2" height="7.0" fill="#000"/><path d="M1478.2 1055.0V1075.0" stroke="#222" stroke-width="1.05"/><rect x="1476.6" y="1060.5" width="3.3" height="7.1" fill="#fff" stroke="#1a1a1a" stroke-width="0.95"/><path d="M1484.2 1058.0V1104.7" stroke="#222" stroke-width="1.05"/><rect x="1482.1" y="1062.0" width="4.2" height="10.0" fill="#000"/><path d="M1490.1 1060.0V1078.0" stroke="#222" stroke-width="1.05"/><rect x="1488.4" y="1064.5" width="3.3" height="7.1" fill="#fff" stroke="#1a1a1a" stroke-width="0.95"/><path d="M1496.0 1058.0V1072.0" stroke="#222" stroke-width="1.05"/><rect x="1494.4" y="1060.5" width="3.3" height="5.1" fill="#fff" stroke="#1a1a1a" stroke-width="0.95"/><path d="M1501.9 1055.0V1070.0" stroke="#222" stroke-width="1.05"/><rect x="1499.8" y="1060.0" width="4.2" height="4.0" fill="#000"/><path d="M1507.9 1042.0V1062.0" stroke="#222" stroke-width="1.05"/><rect x="1506.2" y="1045.5" width="3.3" height="12.5" fill="#fff" stroke="#1a1a1a" stroke-width="0.95"/><path d="M1513.8 1037.7V1052.0" stroke="#222" stroke-width="1.05"/><rect x="1512.1" y="1042.5" width="3.3" height="4.1" fill="#fff" stroke="#1a1a1a" stroke-width="0.95"/><path d="M1519.7 1040.0V1055.0" stroke="#222" stroke-width="1.05"/><rect x="1517.6" y="1042.0" width="4.2" height="8.0" fill="#000"/><path d="M1525.7 1035.0V1050.0" stroke="#222" stroke-width="1.05"/><rect x="1524.0" y="1038.2" width="3.3" height="7.6" fill="#fff" stroke="#1a1a1a" stroke-width="0.95"/><path d="M1531.6 1035.0V1056.0" stroke="#222" stroke-width="1.05"/><rect x="1529.5" y="1038.9" width="4.2" height="12.2" fill="#000"/><path d="M1537.5 1048.0V1130.3" stroke="#222" stroke-width="1.05"/><rect x="1535.4" y="1051.0" width="4.2" height="45.3" fill="#000"/><path d="M1543.4 1040.0V1136.5" stroke="#222" stroke-width="1.05"/><rect x="1541.8" y="1054.0" width="3.3" height="41.9" fill="#fff" stroke="#1a1a1a" stroke-width="0.95"/><path d="M1549.4 1002.5V1070.0" stroke="#222" stroke-width="1.05"/><rect x="1547.3" y="1053.5" width="4.2" height="6.5" fill="#000"/><path d="M1555.3 1053.4V1092.7" stroke="#222" stroke-width="1.05"/><rect x="1553.2" y="1060.0" width="4.2" height="19.3" fill="#000"/><path d="M1561.2 1075.0V1121.3" stroke="#222" stroke-width="1.05"/><rect x="1559.1" y="1079.3" width="4.2" height="20.6" fill="#000"/><path d="M1567.2 1089.2V1136.5" stroke="#222" stroke-width="1.05"/><rect x="1565.1" y="1093.6" width="4.2" height="7.2" fill="#000"/><path d="M1573.1 1098.0V1123.1" stroke="#222" stroke-width="1.05"/><rect x="1571.0" y="1101.3" width="4.2" height="2.2" fill="#000"/><path d="M1579.0 1100.0V1117.2" stroke="#222" stroke-width="1.05"/><rect x="1576.9" y="1103.5" width="4.2" height="2.3" fill="#000"/><path d="M1584.9 1104.0V1132.0" stroke="#222" stroke-width="1.05"/><rect x="1582.8" y="1105.8" width="4.2" height="16.1" fill="#000"/><path d="M1590.9 1110.0V1133.0" stroke="#222" stroke-width="1.05"/><rect x="1589.2" y="1113.8" width="3.3" height="8.0" fill="#fff" stroke="#1a1a1a" stroke-width="0.95"/><path d="M1596.8 1108.0V1134.7" stroke="#222" stroke-width="1.05"/><rect x="1594.7" y="1113.3" width="4.2" height="4.7" fill="#000"/><path d="M1602.7 1105.0V1119.5" stroke="#222" stroke-width="1.05"/><rect x="1601.1" y="1112.5" width="3.3" height="5.1" fill="#fff" stroke="#1a1a1a" stroke-width="0.95"/><path d="M1608.7 1100.0V1114.0" stroke="#222" stroke-width="1.05"/><rect x="1607.0" y="1106.5" width="3.3" height="5.1" fill="#fff" stroke="#1a1a1a" stroke-width="0.95"/><path d="M1614.6 1095.0V1115.0" stroke="#222" stroke-width="1.05"/><rect x="1612.9" y="1100.5" width="3.3" height="5.1" fill="#fff" stroke="#1a1a1a" stroke-width="0.95"/><path d="M1620.5 1090.0V1104.0" stroke="#222" stroke-width="1.05"/><rect x="1618.9" y="1096.5" width="3.3" height="3.1" fill="#fff" stroke="#1a1a1a" stroke-width="0.95"/><path d="M1626.4 1073.0V1144.5" stroke="#222" stroke-width="1.05"/><rect x="1624.8" y="1090.5" width="3.3" height="31.3" fill="#fff" stroke="#1a1a1a" stroke-width="0.95"/><path d="M1632.4 1081.0V1115.0" stroke="#222" stroke-width="1.05"/><rect x="1630.3" y="1088.0" width="4.2" height="4.7" fill="#000"/><path d="M1638.3 1090.0V1125.0" stroke="#222" stroke-width="1.05"/><rect x="1636.2" y="1092.7" width="4.2" height="30.4" fill="#000"/><path d="M1644.2 1118.0V1152.6" stroke="#222" stroke-width="1.05"/><rect x="1642.1" y="1121.9" width="4.2" height="20.9" fill="#000"/><path d="M1650.2 1137.4V1158.0" stroke="#222" stroke-width="1.05"/><rect x="1648.1" y="1143.7" width="4.2" height="8.0" fill="#000"/><path d="M1656.1 1147.0V1156.0" stroke="#222" stroke-width="1.05"/><rect x="1654.0" y="1151.3" width="4.2" height="1.7" fill="#000"/><path d="M1662.0 1141.0V1156.2" stroke="#222" stroke-width="1.05"/><rect x="1660.4" y="1148.5" width="3.3" height="4.1" fill="#fff" stroke="#1a1a1a" stroke-width="0.95"/><path d="M1667.9 1133.0V1151.7" stroke="#222" stroke-width="1.05"/><rect x="1666.3" y="1140.5" width="3.3" height="7.1" fill="#fff" stroke="#1a1a1a" stroke-width="0.95"/><path d="M1673.9 1135.0V1156.2" stroke="#222" stroke-width="1.05"/><rect x="1671.8" y="1140.0" width="4.2" height="8.0" fill="#000"/><path d="M1679.8 1141.9V1181.2" stroke="#222" stroke-width="1.05"/><rect x="1677.7" y="1149.5" width="4.2" height="21.0" fill="#000"/><path d="M1685.7 1135.6V1198.7" stroke="#222" stroke-width="1.05"/><rect x="1684.1" y="1142.4" width="3.3" height="28.0" fill="#fff" stroke="#1a1a1a" stroke-width="0.95"/><path d="M1691.7 1107.0V1163.3" stroke="#222" stroke-width="1.05"/><rect x="1690.0" y="1135.5" width="3.3" height="6.0" fill="#fff" stroke="#1a1a1a" stroke-width="0.95"/><path d="M1697.6 1122.2V1163.3" stroke="#222" stroke-width="1.05"/><rect x="1695.5" y="1135.0" width="4.2" height="7.0" fill="#000"/><path d="M1703.5 1130.0V1154.4" stroke="#222" stroke-width="1.05"/><rect x="1701.4" y="1142.0" width="4.2" height="4.3" fill="#000"/><path d="M1709.5 1140.0V1177.2" stroke="#222" stroke-width="1.05"/><rect x="1707.4" y="1146.3" width="4.2" height="13.1" fill="#000"/><path d="M1715.4 1115.0V1172.2" stroke="#222" stroke-width="1.05"/><rect x="1713.7" y="1120.9" width="3.3" height="37.0" fill="#fff" stroke="#1a1a1a" stroke-width="0.95"/><path d="M1721.3 1087.9V1125.0" stroke="#222" stroke-width="1.05"/><rect x="1719.7" y="1100.5" width="3.3" height="19.5" fill="#fff" stroke="#1a1a1a" stroke-width="0.95"/><path d="M1727.2 1080.2V1105.0" stroke="#222" stroke-width="1.05"/><rect x="1725.6" y="1098.5" width="3.3" height="1.1" fill="#fff" stroke="#1a1a1a" stroke-width="0.95"/><path d="M1733.2 1093.6V1100.0" stroke="#222" stroke-width="1.05"/><rect x="1731.5" y="1095.9" width="3.3" height="1.8" fill="#fff" stroke="#1a1a1a" stroke-width="0.95"/><path d="M1739.1 1084.7V1101.0" stroke="#222" stroke-width="1.05"/><rect x="1737.0" y="1096.8" width="4.2" height="2.2" fill="#000"/><path d="M1745.0 1091.0V1101.0" stroke="#222" stroke-width="1.05"/><rect x="1743.4" y="1095.5" width="3.3" height="3.1" fill="#fff" stroke="#1a1a1a" stroke-width="0.95"/><path d="M1751.0 1082.0V1100.0" stroke="#222" stroke-width="1.05"/><rect x="1749.3" y="1093.2" width="3.3" height="5.4" fill="#fff" stroke="#1a1a1a" stroke-width="0.95"/><path d="M1756.9 1083.0V1099.0" stroke="#222" stroke-width="1.05"/><rect x="1754.8" y="1092.7" width="4.2" height="4.1" fill="#000"/><path d="M1762.8 1082.0V1098.0" stroke="#222" stroke-width="1.05"/><rect x="1761.2" y="1092.5" width="3.3" height="3.9" fill="#fff" stroke="#1a1a1a" stroke-width="0.95"/><path d="M1768.7 1082.0V1097.0" stroke="#222" stroke-width="1.05"/><rect x="1767.1" y="1092.0" width="3.3" height="3.0" fill="#fff" stroke="#1a1a1a" stroke-width="0.95"/><path d="M1774.7 1086.5V1093.6" stroke="#222" stroke-width="1.05"/><rect x="1773.0" y="1088.4" width="3.3" height="1.2" fill="#fff" stroke="#1a1a1a" stroke-width="0.95"/><path d="M1780.6 1077.5V1089.0" stroke="#222" stroke-width="1.05"/><rect x="1779.0" y="1086.0" width="3.3" height="1.4" fill="#fff" stroke="#1a1a1a" stroke-width="0.95"/><path d="M1786.5 1075.8V1089.0" stroke="#222" stroke-width="1.05"/><rect x="1784.4" y="1085.6" width="4.2" height="2.3" fill="#000"/><path d="M1792.5 1075.0V1087.0" stroke="#222" stroke-width="1.05"/><rect x="1790.8" y="1078.4" width="3.3" height="6.8" fill="#fff" stroke="#1a1a1a" stroke-width="0.95"/><path d="M1798.4 1076.6V1085.0" stroke="#222" stroke-width="1.05"/><rect x="1796.3" y="1080.2" width="4.2" height="2.7" fill="#000"/><path d="M1804.3 1076.0V1084.0" stroke="#222" stroke-width="1.05"/><rect x="1802.7" y="1078.4" width="3.3" height="3.2" fill="#fff" stroke="#1a1a1a" stroke-width="0.95"/><path d="M1810.2 1075.0V1082.0" stroke="#222" stroke-width="1.05"/><rect x="1808.1" y="1077.2" width="4.2" height="1.8" fill="#000"/><path d="M1816.2 1076.0V1098.0" stroke="#222" stroke-width="1.05"/><rect x="1814.1" y="1078.8" width="4.2" height="18.2" fill="#000"/><path d="M1822.1 1084.5V1131.6" stroke="#222" stroke-width="1.05"/><rect x="1820.0" y="1096.7" width="4.2" height="10.5" fill="#000"/><path d="M1828.0 1068.0V1143.0" stroke="#222" stroke-width="1.05"/><rect x="1826.4" y="1070.7" width="3.3" height="30.4" fill="#fff" stroke="#1a1a1a" stroke-width="0.95"/><path d="M1834.0 1065.0V1136.0" stroke="#222" stroke-width="1.05"/><rect x="1831.9" y="1070.2" width="4.2" height="64.7" fill="#000"/><path d="M1839.9 1127.5V1180.0" stroke="#222" stroke-width="1.05"/><rect x="1837.8" y="1135.2" width="4.2" height="43.5" fill="#000"/><path d="M1845.8 1117.0V1192.5" stroke="#222" stroke-width="1.05"/><rect x="1844.2" y="1119.9" width="3.3" height="58.4" fill="#fff" stroke="#1a1a1a" stroke-width="0.95"/><path d="M1851.7 1078.3V1140.5" stroke="#222" stroke-width="1.05"/><rect x="1850.1" y="1083.7" width="3.3" height="34.9" fill="#fff" stroke="#1a1a1a" stroke-width="0.95"/><path d="M1857.7 1065.8V1097.5" stroke="#222" stroke-width="1.05"/><rect x="1856.0" y="1078.8" width="3.3" height="5.0" fill="#fff" stroke="#1a1a1a" stroke-width="0.95"/><path d="M1863.6 1034.4V1080.0" stroke="#222" stroke-width="1.05"/><rect x="1862.0" y="1039.5" width="3.3" height="38.1" fill="#fff" stroke="#1a1a1a" stroke-width="0.95"/><path d="M1869.5 1030.0V1070.0" stroke="#222" stroke-width="1.05"/><rect x="1867.4" y="1039.0" width="4.2" height="29.2" fill="#000"/><path d="M1875.5 1037.0V1068.0" stroke="#222" stroke-width="1.05"/><rect x="1873.8" y="1044.7" width="3.3" height="19.9" fill="#fff" stroke="#1a1a1a" stroke-width="0.95"/><path d="M1881.4 1025.2V1052.0" stroke="#222" stroke-width="1.05"/><rect x="1879.3" y="1044.2" width="4.2" height="4.5" fill="#000"/><path d="M1887.3 1030.0V1060.0" stroke="#222" stroke-width="1.05"/><rect x="1885.2" y="1048.4" width="4.2" height="6.8" fill="#000"/><path d="M1893.3 1050.0V1078.0" stroke="#222" stroke-width="1.05"/><rect x="1891.2" y="1055.0" width="4.2" height="20.5" fill="#000"/><path d="M1899.2 1070.0V1082.0" stroke="#222" stroke-width="1.05"/><rect x="1897.1" y="1074.0" width="4.2" height="4.0" fill="#000"/><path d="M1905.1 1074.0V1090.0" stroke="#222" stroke-width="1.05"/><rect x="1903.0" y="1078.0" width="4.2" height="5.0" fill="#000"/><path d="M1911.0 1080.0V1149.5" stroke="#222" stroke-width="1.05"/><rect x="1908.9" y="1083.0" width="4.2" height="17.0" fill="#000"/><path d="M1917.0 1095.0V1110.0" stroke="#222" stroke-width="1.05"/><rect x="1914.9" y="1100.0" width="4.2" height="4.0" fill="#000"/><path d="M1922.9 1098.0V1108.0" stroke="#222" stroke-width="1.05"/><rect x="1921.2" y="1100.5" width="3.3" height="3.1" fill="#fff" stroke="#1a1a1a" stroke-width="0.95"/><path d="M1928.8 1100.0V1116.0" stroke="#222" stroke-width="1.05"/><rect x="1926.7" y="1102.0" width="4.2" height="12.5" fill="#000"/><path d="M1934.8 1100.0V1123.8" stroke="#222" stroke-width="1.05"/><rect x="1933.1" y="1106.9" width="3.3" height="7.2" fill="#fff" stroke="#1a1a1a" stroke-width="0.95"/><path d="M1940.7 1100.0V1115.0" stroke="#222" stroke-width="1.05"/><rect x="1938.6" y="1106.4" width="4.2" height="7.3" fill="#000"/><path d="M1946.6 1110.0V1136.0" stroke="#222" stroke-width="1.05"/><rect x="1944.5" y="1113.7" width="4.2" height="20.8" fill="#000"/><path d="M1952.5 1117.0V1139.0" stroke="#222" stroke-width="1.05"/><rect x="1950.9" y="1122.4" width="3.3" height="12.1" fill="#fff" stroke="#1a1a1a" stroke-width="0.95"/><path d="M1958.5 1112.0V1125.0" stroke="#222" stroke-width="1.05"/><rect x="1956.8" y="1116.7" width="3.3" height="5.6" fill="#fff" stroke="#1a1a1a" stroke-width="0.95"/><path d="M1964.4 1048.4V1117.0" stroke="#222" stroke-width="1.05"/><rect x="1962.7" y="1058.7" width="3.3" height="56.9" fill="#fff" stroke="#1a1a1a" stroke-width="0.95"/><path d="M1970.3 1023.6V1062.5" stroke="#222" stroke-width="1.05"/><rect x="1968.7" y="1031.7" width="3.3" height="25.6" fill="#fff" stroke="#1a1a1a" stroke-width="0.95"/></g><g id="ribbon" fill="none" stroke-linejoin="round" transform="matrix(5.929,0,0,1,1069.12,0)" style="vector-effect:non-scaling-stroke"><path vector-effect="non-scaling-stroke" d="M0 610.6L1 614.1L2 617.8L3 621.2L4 625.1L5 628.8L6 632.7L7 637.9L8 642.9L9 646.8L10 650.8L11 655.0L12 658.1L13 662.0L14 666.4L15 672.9L16 678.0L17 681.2L18 684.6L19 687.9L20 691.6L21 695.1L22 698.6L23 702.6L24 706.6L25 710.6L26 714.2L27 717.1L28 719.8L29 722.6L30 725.3L31 728.7L32 733.9L33 739.3L34 744.4L35 748.7L36 754.0L37 759.8L38 766.7L39 774.8L40 782.3L41 790.3L42 799.2L43 808.5L44 817.3L45 826.8L46 835.8L47 844.3L48 851.9L49 859.2L50 866.6L51 873.3L52 880.3L53 888.0L54 895.0L55 902.6L56 908.8L57 914.1L58 919.2L59 926.7L60 933.5L61 939.8L62 946.4L63 953.7L64 961.7L65 966.5L66 972.2L67 978.0L68 983.7L69 989.2L70 994.4L71 999.6L72 1004.9L73 1010.0L74 1014.8L75 1019.1L76 1023.9L77 1029.0L78 1034.6L79 1041.1L80 1046.8L81 1051.9L82 1055.5L83 1059.1L84 1063.5L85 1068.6L86 1072.7L87 1077.0L88 1079.6L89 1080.6L90 1081.7L91 1081.9M96 1076.9L97 1077.0L98 1078.5L99 1080.5L100 1082.4L101 1084.4L102 1086.2L103 1087.8L104 1089.1L105 1089.9L106 1091.8L107 1093.7L108 1096.0L109 1096.2L110 1096.6L111 1097.6L112 1098.5L113 1099.2M114 1098.9L115 1099.4L116 1100.4L117 1101.0L118 1101.5L119 1102.1L120 1102.4L121 1102.9L122 1103.2L123 1103.6L124 1104.2L125 1105.0L126 1105.9L127 1107.3L128 1107.7L129 1108.5L130 1111.0L131 1112.2L132 1112.2M141 1104.0L142 1104.0L143 1104.2L144 1104.4L145 1104.8" stroke="#980816" stroke-width="2.1"/><path vector-effect="non-scaling-stroke" d="M91 1081.9L92 1081.4L93 1080.2L94 1078.8L95 1077.1L96 1076.9M113 1099.2L114 1098.9M132 1112.2L133 1111.8L134 1110.6L135 1109.9L136 1108.6L137 1107.2L138 1106.0L139 1105.2L140 1104.5L141 1104.0M145 1104.8L146 1104.5L147 1103.9L148 1103.6L149 1102.9L150 1102.3L151 1100.7L152 1098.3" stroke="#16883a" stroke-width="2.10"/><path vector-effect="non-scaling-stroke" d="M0 611.3L1 614.8L2 618.5L3 621.9L4 625.9L5 629.5L6 633.6L7 638.7L8 643.8L9 647.6L10 651.8L11 655.8L12 659.4L13 663.4L14 667.8L15 674.2L16 678.5L17 681.8L18 685.2L19 688.4L20 692.2L21 695.7L22 699.3L23 703.4L24 707.3L25 711.3L26 714.9L27 717.7L28 720.5L29 723.3L30 726.0L31 729.4L32 734.6L33 740.2L34 745.3L35 749.6L36 755.1L37 760.8L38 767.5L39 775.5L40 783.0L41 791.2L42 800.1L43 809.2L44 818.2L45 828.0L46 836.8L47 845.5L48 853.2L49 860.6L50 867.9L51 874.6L52 881.7L53 889.3L54 896.4L55 904.0L56 909.9L57 915.1L58 920.7L59 928.2L60 935.1L61 941.6L62 948.4L63 955.7L64 962.8L65 968.2L66 973.8L67 979.6L68 985.3L69 990.6L70 996.0L71 1001.3L72 1006.5L73 1011.7L74 1016.3L75 1020.8L76 1025.9L77 1031.1L78 1036.7L79 1043.3L80 1048.8L81 1053.2L82 1056.6L83 1060.5L84 1065.2L85 1070.0L86 1074.1L87 1077.8L88 1079.7L89 1080.8L90 1081.6M96 1076.4L97 1077.0L98 1078.7L99 1080.7L100 1082.7L101 1084.6L102 1086.2L103 1087.9L104 1089.0L105 1090.2L106 1092.1L107 1094.1L108 1095.9L109 1096.3L110 1097.0L111 1098.0L112 1098.8L113 1099.1L114 1099.2L115 1099.8L116 1100.7L117 1101.3L118 1101.9L119 1102.3L120 1102.7L121 1103.2L122 1103.5L123 1104.1L124 1104.8L125 1105.4L126 1106.5L127 1107.8L128 1107.8L129 1108.9L130 1111.4L131 1112.4M141 1104.1L142 1104.1L143 1104.3L144 1104.5L145 1104.7" stroke="#9e0916" stroke-width="0.62"/><path vector-effect="non-scaling-stroke" d="M90 1081.6L91 1081.6L92 1080.8L93 1079.5L94 1078.0L95 1076.7L96 1076.4M131 1112.4L132 1112.3L133 1111.9L134 1110.6L135 1109.9L136 1108.5L137 1107.1L138 1105.9L139 1105.1L140 1104.5L141 1104.1M145 1104.7L146 1104.2L147 1103.5L148 1103.2L149 1102.6L150 1102.0L151 1100.3L152 1097.7" stroke="#16893b" stroke-width="0.62"/><path vector-effect="non-scaling-stroke" d="M0 612.0L1 615.5L2 619.2L3 622.6L4 626.7L5 630.3L6 634.5L7 639.4L8 644.6L9 648.5L10 652.8L11 656.5L12 660.6L13 664.8L14 669.2L15 675.5L16 679.1L17 682.3L18 685.7L19 688.9L20 692.7L21 696.3L22 700.1L23 704.1L24 708.0L25 712.0L26 715.5L27 718.3L28 721.2L29 724.1L30 726.8L31 730.1L32 735.2L33 741.1L34 746.2L35 750.5L36 756.2L37 761.8L38 768.4L39 776.3L40 783.7L41 792.1L42 801.0L43 809.9L44 819.2L45 829.1L46 837.8L47 846.7L48 854.5L49 862.1L50 869.3L51 875.9L52 883.2L53 890.6L54 897.9L55 905.4L56 910.9L57 916.0L58 922.2L59 929.7L60 936.7L61 943.4L62 950.4L63 957.7L64 963.9L65 969.8L66 975.5L67 981.2L68 986.9L69 992.1L70 997.5L71 1003.0L72 1008.1L73 1013.3L74 1017.8L75 1022.5L76 1027.9L77 1033.2L78 1038.9L79 1045.6L80 1050.8L81 1054.4L82 1057.7L83 1062.0L84 1067.0L85 1071.4L86 1075.4L87 1078.5L88 1079.8L89 1081.0L90 1081.5M96 1075.9L97 1077.0L98 1078.9L99 1080.9L100 1083.1L101 1084.8L102 1086.1L103 1088.0L104 1089.0L105 1090.6L106 1092.5L107 1094.5L108 1095.7L109 1096.4L110 1097.4L111 1098.4L112 1099.1M113 1099.1L114 1099.4L115 1100.3L116 1101.1L117 1101.6L118 1102.2L119 1102.6L120 1103.0L121 1103.6L122 1103.9L123 1104.5L124 1105.3L125 1105.9L126 1107.0L127 1108.2M128 1107.9L129 1109.4L130 1111.8L131 1112.7M141 1104.1L142 1104.2L143 1104.4L144 1104.6" stroke="#a30a15" stroke-width="0.62"/><path vector-effect="non-scaling-stroke" d="M90 1081.5L91 1081.2L92 1080.2L93 1078.9L94 1077.2L95 1076.2L96 1075.9M112 1099.1L113 1099.1M127 1108.2L128 1107.9M131 1112.7L132 1112.4L133 1112.0L134 1110.7L135 1109.9L136 1108.4L137 1107.1L138 1105.8L139 1105.0L140 1104.5L141 1104.1M144 1104.6L145 1104.5L146 1103.9L147 1103.1L148 1102.7L149 1102.2L150 1101.7L151 1099.9L152 1097.1" stroke="#17893b" stroke-width="0.62"/><path vector-effect="non-scaling-stroke" d="M0 612.7L1 616.2L2 619.9L3 623.3L4 627.4L5 631.1L6 635.3L7 640.2L8 645.5L9 649.4L10 653.8L11 657.6L12 661.9L13 666.2L14 670.5L15 676.5L16 679.6L17 682.9L18 686.2L19 689.5L20 693.3L21 697.0L22 700.8L23 704.9L24 708.6L25 712.6L26 716.1L27 719.0L28 722.0L29 724.8L30 727.5L31 730.8L32 736.0L33 742.1L34 747.2L35 751.5L36 757.3L37 762.7L38 769.2L39 777.0L40 784.5L41 793.0L42 801.8L43 810.8L44 820.3L45 830.1L46 838.9L47 848.0L48 855.9L49 863.5L50 870.6L51 877.3L52 884.6L53 891.9L54 899.4L55 906.6L56 911.9L57 917.3L58 923.8L59 931.3L60 938.5L61 945.4L62 952.5L63 959.2L64 965.3L65 971.5L66 977.1L67 982.8L68 988.4L69 993.6L70 999.2L71 1004.6L72 1009.8L73 1014.9L74 1019.5L75 1024.4L76 1029.9L77 1035.3L78 1041.1L79 1047.7L80 1052.4L81 1055.6L82 1059.0L83 1063.6L84 1068.6L85 1072.7L86 1076.5L87 1079.0L88 1080.0L89 1081.0L90 1081.2M96 1075.6L97 1077.1L98 1079.1L99 1081.2L100 1083.4L101 1084.9L102 1086.2L103 1088.0L104 1089.1L105 1090.9L106 1092.8L107 1094.6L108 1095.8L109 1096.7L110 1097.8L111 1098.7L112 1099.2M113 1099.1L114 1099.8L115 1100.6L116 1101.4L117 1101.9L118 1102.5L119 1102.9L120 1103.3L121 1103.9L122 1104.3L123 1105.0L124 1105.7L125 1106.4L126 1107.6L127 1108.5M128 1108.2L129 1109.8L130 1112.2L131 1112.9M141 1104.1L142 1104.2L143 1104.5L144 1104.5" stroke="#a90b15" stroke-width="0.62"/><path vector-effect="non-scaling-stroke" d="M90 1081.2L91 1080.7L92 1079.5L93 1078.2L94 1076.6L95 1075.7L96 1075.6M112 1099.2L113 1099.1M127 1108.5L128 1108.2M131 1112.9L132 1112.5L133 1112.1L134 1110.7L135 1109.9L136 1108.3L137 1107.0L138 1105.7L139 1105.0L140 1104.5L141 1104.1M144 1104.5L145 1104.3L146 1103.5L147 1102.7L148 1102.4L149 1101.9L150 1101.3L151 1099.4L152 1096.7" stroke="#178a3c" stroke-width="0.62"/><path vector-effect="non-scaling-stroke" d="M0 613.4L1 616.9L2 620.6L3 624.1L4 628.2L5 632.0L6 636.0L7 641.0L8 646.3L9 650.5L10 654.6L11 658.8L12 663.3L13 667.6L14 671.8L15 677.0L16 680.2L17 683.4L18 686.7L19 690.0L20 693.8L21 697.7L22 701.6L23 705.5L24 709.3L25 713.2L26 716.7L27 719.8L28 722.7L29 725.6L30 728.2L31 731.5L32 736.9L33 743.0L34 748.1L35 752.6L36 758.2L37 763.6L38 769.9L39 777.7L40 785.4L41 793.8L42 802.4L43 811.7L44 821.4L45 831.1L46 840.1L47 849.3L48 857.3L49 864.8L50 871.9L51 878.8L52 885.8L53 893.4L54 900.7L55 907.6L56 912.8L57 918.8L58 925.3L59 932.9L60 940.3L61 947.4L62 954.5L63 960.3L64 967.0L65 973.1L66 978.7L67 984.4L68 989.9L69 995.2L70 1000.9L71 1006.2L72 1011.4L73 1016.5L74 1021.2L75 1026.4L76 1032.0L77 1037.5L78 1043.4L79 1049.7L80 1053.7L81 1056.7L82 1060.5L83 1065.4L84 1070.0L85 1074.1L86 1077.2L87 1079.1L88 1080.1L89 1080.9M95 1075.1L96 1075.6L97 1077.3L98 1079.3L99 1081.6L100 1083.6L101 1084.9L102 1086.2L103 1087.9L104 1089.5L105 1091.3L106 1093.2L107 1094.5L108 1095.9L109 1097.1L110 1098.2L111 1099.0L112 1099.1L113 1099.4L114 1100.2L115 1101.0L116 1101.7L117 1102.3L118 1102.8L119 1103.2L120 1103.7L121 1104.2L122 1104.7L123 1105.6L124 1106.2L125 1107.0L126 1108.0L127 1108.6M128 1108.6L129 1110.2L130 1112.4L131 1113.0M141 1104.2L142 1104.4L143 1104.6" stroke="#ae0c15" stroke-width="0.62"/><path vector-effect="non-scaling-stroke" d="M89 1080.9L90 1080.9L91 1080.1L92 1078.9L93 1077.4L94 1076.1L95 1075.1M127 1108.6L128 1108.6M131 1113.0L132 1112.6L133 1112.1L134 1110.8L135 1109.8L136 1108.3L137 1106.9L138 1105.7L139 1105.0L140 1104.5L141 1104.2M143 1104.6L144 1104.4L145 1104.0L146 1103.1L147 1102.3L148 1102.0L149 1101.5L150 1100.9L151 1098.8L152 1096.3" stroke="#178a3c" stroke-width="0.62"/><path vector-effect="non-scaling-stroke" d="M0 614.1L1 617.6L2 621.3L3 624.8L4 628.9L5 632.9L6 636.8L7 641.9L8 647.2L9 651.5L10 655.3L11 660.1L12 664.7L13 669.0L14 673.1L15 677.6L16 680.8L17 684.0L18 687.2L19 690.5L20 694.4L21 698.5L22 702.4L23 706.2L24 709.9L25 713.8L26 717.4L27 720.5L28 723.5L29 726.3L30 729.0L31 732.1L32 737.8L33 743.9L34 749.0L35 753.8L36 759.2L37 764.4L38 770.5L39 778.4L40 786.2L41 794.7L42 803.1L43 812.6L44 822.5L45 832.0L46 841.3L47 850.6L48 858.8L49 866.2L50 873.3L51 880.2L52 887.1L53 894.9L54 902.1L55 908.6L56 913.8L57 920.4L58 926.8L59 934.6L60 942.2L61 949.4L62 956.5L63 961.5L64 968.6L65 974.8L66 980.4L67 986.1L68 991.4L69 996.8L70 1002.5L71 1007.9L72 1013.1L73 1018.1L74 1023.0L75 1028.4L76 1034.2L77 1039.7L78 1045.7L79 1051.7L80 1054.9L81 1057.8L82 1061.9L83 1067.2L84 1071.4L85 1075.4L86 1078.0L87 1079.2L88 1080.3L89 1080.8M95 1074.6L96 1075.7L97 1077.5L98 1079.5L99 1082.0L100 1083.8L101 1084.9L102 1086.3L103 1087.8L104 1089.8L105 1091.6L106 1093.6L107 1094.4L108 1096.0L109 1097.5L110 1098.6L111 1099.3M112 1099.0L113 1099.7L114 1100.6L115 1101.3L116 1102.0L117 1102.6L118 1103.0L119 1103.5L120 1104.1L121 1104.6L122 1105.2L123 1106.1L124 1106.7L125 1107.5L126 1108.5L127 1108.7L128 1109.1L129 1110.6L130 1112.7L131 1113.1M141 1104.3L142 1104.5L143 1104.7" stroke="#b40d14" stroke-width="0.62"/><path vector-effect="non-scaling-stroke" d="M89 1080.8L90 1080.5L91 1079.4L92 1078.2L93 1076.6L94 1075.6L95 1074.6M111 1099.3L112 1099.0M131 1113.1L132 1112.7L133 1112.2L134 1110.8L135 1109.7L136 1108.3L137 1106.8L138 1105.6L139 1105.0L140 1104.5L141 1104.3M143 1104.7L144 1104.2L145 1103.6L146 1102.7L147 1101.9L148 1101.6L149 1101.2L150 1100.6L151 1098.2L152 1095.9" stroke="#178b3d" stroke-width="0.62"/><path vector-effect="non-scaling-stroke" d="M0 614.8L1 618.3L2 622.0L3 625.6L4 629.8L5 633.6L6 637.6L7 642.7L8 648.2L9 652.3L10 656.6L11 661.5L12 666.2L13 670.3L14 673.6L15 678.1L16 681.3L17 684.5L18 687.7L19 691.1L20 695.2L21 699.2L22 703.0L23 706.8L24 710.5L25 714.5L26 718.1L27 721.3L28 724.2L29 727.1L30 729.6L31 733.0L32 738.8L33 744.8L34 750.1L35 754.7L36 760.1L37 765.1L38 771.2L39 779.2L40 787.1L41 795.3L42 804.0L43 813.7L44 823.4L45 833.2L46 842.6L47 852.0L48 860.1L49 867.5L50 874.7L51 881.5L52 888.6L53 896.3L54 903.1L55 909.5L56 915.3L57 921.9L58 928.4L59 936.4L60 944.2L61 951.5L62 957.6L63 963.1L64 970.3L65 976.4L66 982.0L67 987.6L68 993.0L69 998.5L70 1004.2L71 1009.6L72 1014.7L73 1019.8L74 1025.0L75 1030.6L76 1036.4L77 1042.0L78 1047.7L79 1053.0L80 1056.1L81 1059.3L82 1063.8L83 1068.6L84 1072.8L85 1076.2L86 1078.1L87 1079.3L88 1080.2L89 1080.4M95 1074.6L96 1075.8L97 1077.7L98 1079.9L99 1082.1L100 1083.7L101 1084.9L102 1086.2L103 1088.2L104 1090.2L105 1092.0L106 1093.5L107 1094.5L108 1096.4L109 1097.9L110 1098.9L111 1099.2L112 1099.3L113 1100.1L114 1101.0L115 1101.6L116 1102.3L117 1102.9L118 1103.4L119 1103.9L120 1104.4L121 1105.1L122 1105.8L123 1106.6L124 1107.3L125 1108.0L126 1108.6L127 1109.2L128 1109.5L129 1110.9L130 1112.8L131 1113.2M141 1104.4L142 1104.6" stroke="#b90e14" stroke-width="0.62"/><path vector-effect="non-scaling-stroke" d="M89 1080.4L90 1079.9L91 1078.8L92 1077.4L93 1076.0L94 1075.0L95 1074.6M131 1113.2L132 1112.8L133 1112.3L134 1110.7L135 1109.7L136 1108.2L137 1106.8L138 1105.6L139 1105.0L140 1104.6L141 1104.4M142 1104.6L143 1104.6L144 1103.9L145 1103.2L146 1102.3L147 1101.5L148 1101.3L149 1100.8L150 1100.0L151 1097.8L152 1095.6" stroke="#188b3d" stroke-width="0.62"/><path vector-effect="non-scaling-stroke" d="M0 615.5L1 619.0L2 622.8L3 626.4L4 630.7L5 634.3L6 638.5L7 643.6L8 649.3L9 653.1L10 657.9L11 662.9L12 667.6L13 671.7L14 674.2L15 678.7L16 681.8L17 684.9L18 688.3L19 691.7L20 695.9L21 700.0L22 703.7L23 707.5L24 711.2L25 715.1L26 718.9L27 722.0L28 725.0L29 727.8L30 730.3L31 733.9L32 739.7L33 745.7L34 751.3L35 755.7L36 760.9L37 765.8L38 771.9L39 780.0L40 787.9L41 795.9L42 804.9L43 814.8L44 824.3L45 834.4L46 843.9L47 853.5L48 861.5L49 868.8L50 876.2L51 882.8L52 890.0L53 897.6L54 904.1L55 910.5L56 916.9L57 923.4L58 930.0L59 938.3L60 946.3L61 953.5L62 958.7L63 964.8L64 972.0L65 978.1L66 983.7L67 989.1L68 994.6L69 1000.2L70 1005.9L71 1011.3L72 1016.3L73 1021.6L74 1027.1L75 1032.7L76 1038.6L77 1044.4L78 1049.8L79 1054.3L80 1057.2L81 1060.8L82 1065.6L83 1070.1L84 1074.1L85 1077.1L86 1078.2L87 1079.5L88 1080.1M94 1074.5L95 1074.6L96 1076.0L97 1077.9L98 1080.3L99 1082.3L100 1083.7L101 1084.9L102 1086.1L103 1088.6L104 1090.5L105 1092.4L106 1093.3L107 1094.6L108 1096.8L109 1098.3L110 1099.2M111 1099.1L112 1099.5L113 1100.5L114 1101.3L115 1101.9L116 1102.7L117 1103.1L118 1103.7L119 1104.3L120 1104.7L121 1105.6L122 1106.3L123 1107.0L124 1107.8L125 1108.5L126 1108.7L127 1109.7L128 1109.9L129 1111.2L130 1112.9L131 1113.3M141 1104.5L142 1104.7" stroke="#bb0f14" stroke-width="0.62"/><path vector-effect="non-scaling-stroke" d="M88 1080.1L89 1080.0L90 1079.2L91 1078.1L92 1076.6L93 1075.5L94 1074.5M110 1099.2L111 1099.1M131 1113.3L132 1112.9L133 1112.3L134 1110.6L135 1109.6L136 1108.1L137 1106.7L138 1105.6L139 1105.1L140 1104.7L141 1104.5M142 1104.7L143 1104.4L144 1103.6L145 1102.8L146 1101.8L147 1101.1L148 1100.9L149 1100.4L150 1099.4L151 1097.5L152 1095.2" stroke="#188c3e" stroke-width="0.62"/><path vector-effect="non-scaling-stroke" d="M0 616.2L1 619.7L2 623.6L3 627.2L4 631.5L5 635.1L6 639.3L7 644.5L8 650.2L9 654.1L10 659.2L11 664.4L12 669.0L13 672.6L14 674.7L15 679.2L16 682.3L17 685.5L18 688.8L19 692.3L20 696.7L21 700.7L22 704.3L23 708.1L24 711.8L25 715.8L26 719.6L27 722.8L28 725.7L29 728.5L30 731.0L31 734.8L32 740.6L33 746.7L34 752.3L35 756.6L36 761.7L37 766.4L38 772.6L39 780.8L40 788.6L41 796.6L42 805.8L43 815.7L44 825.3L45 835.6L46 845.2L47 854.9L48 862.8L49 870.2L50 877.5L51 884.1L52 891.5L53 898.8L54 905.1L55 911.7L56 918.4L57 925.0L58 931.8L59 940.3L60 948.3L61 955.1L62 960.1L63 966.5L64 973.6L65 979.7L66 985.3L67 990.6L68 996.3L69 1001.9L70 1007.5L71 1012.9L72 1018.0L73 1023.5L74 1029.2L75 1035.0L76 1040.9L77 1046.6L78 1051.4L79 1055.5L80 1058.5L81 1062.5L82 1067.3L83 1071.5L84 1075.2L85 1077.5L86 1078.3L87 1079.5L88 1079.8M94 1074.2L95 1074.7L96 1076.2L97 1078.2L98 1080.5L99 1082.4L100 1083.7L101 1084.9L102 1086.3L103 1088.9L104 1090.9L105 1092.5L106 1093.3L107 1094.9L108 1097.2L109 1098.7L110 1099.3M111 1099.2L112 1099.9L113 1100.9L114 1101.7L115 1102.2L116 1103.0L117 1103.4L118 1104.0L119 1104.6L120 1105.2L121 1106.1L122 1106.8L123 1107.6L124 1108.4L125 1108.8L126 1109.0L127 1110.1L128 1110.2L129 1111.3L130 1113.0L131 1113.4M141 1104.6L142 1104.6" stroke="#bd0f14" stroke-width="0.62"/><path vector-effect="non-scaling-stroke" d="M88 1079.8L89 1079.5L90 1078.5L91 1077.3L92 1075.9L93 1075.0L94 1074.2M110 1099.3L111 1099.2M131 1113.4L132 1113.0L133 1112.3L134 1110.6L135 1109.6L136 1108.0L137 1106.7L138 1105.7L139 1105.1L140 1104.8L141 1104.6M142 1104.6L143 1104.2L144 1103.2L145 1102.4L146 1101.4L147 1100.7L148 1100.6L149 1099.9L150 1098.9L151 1097.1L152 1094.9" stroke="#188c3e" stroke-width="0.62"/><path vector-effect="non-scaling-stroke" d="M0 616.9L1 620.5L2 624.4L3 628.1L4 632.3L5 636.0L6 640.1L7 645.6L8 651.0L9 655.4L10 660.7L11 665.8L12 670.4L13 673.1L14 675.3L15 679.8L16 682.8L17 686.0L18 689.4L19 693.1L20 697.4L21 701.4L22 705.0L23 708.7L24 712.4L25 716.5L26 720.4L27 723.6L28 726.5L29 729.2L30 731.9L31 735.7L32 741.5L33 747.9L34 753.3L35 757.5L36 762.3L37 767.1L38 773.4L39 781.6L40 789.1L41 797.5L42 806.8L43 816.6L44 826.5L45 836.9L46 846.6L47 856.2L48 864.1L49 871.6L50 878.8L51 885.6L52 892.8L53 899.8L54 906.0L55 913.3L56 919.9L57 926.7L58 933.7L59 942.3L60 950.4L61 956.2L62 961.8L63 968.1L64 975.3L65 981.4L66 986.8L67 992.3L68 998.1L69 1003.6L70 1009.3L71 1014.5L72 1019.8L73 1025.6L74 1031.4L75 1037.3L76 1043.3L77 1048.7L78 1052.7L79 1056.7L80 1060.1L81 1064.4L82 1068.7L83 1072.9L84 1076.1L85 1077.6L86 1078.5L87 1079.4M94 1074.2L95 1074.9L96 1076.4L97 1078.5L98 1080.7L99 1082.3L100 1083.7L101 1084.8L102 1086.6L103 1089.3L104 1091.3L105 1092.3L106 1093.4L107 1095.3L108 1097.7L109 1099.0L110 1099.2L111 1099.5L112 1100.3L113 1101.3L114 1102.0L115 1102.6L116 1103.2L117 1103.8L118 1104.4L119 1105.0L120 1105.7L121 1106.7L122 1107.3L123 1108.2L124 1108.9L125 1108.9L126 1109.5L127 1110.5M128 1110.5L129 1111.4L130 1113.1L131 1113.5" stroke="#bf1013" stroke-width="0.62"/><path vector-effect="non-scaling-stroke" d="M87 1079.4L88 1079.4L89 1078.8L90 1077.8L91 1076.5L92 1075.3L93 1074.4L94 1074.2M127 1110.5L128 1110.5M131 1113.5L132 1113.0L133 1112.2L134 1110.5L135 1109.5L136 1108.0L137 1106.7L138 1105.7L139 1105.2L140 1104.9L141 1104.7L142 1104.5L143 1103.8L144 1102.8L145 1102.0L146 1101.0L147 1100.4L148 1100.2L149 1099.3L150 1098.5L151 1096.8L152 1094.5" stroke="#188d3f" stroke-width="0.62"/><path vector-effect="non-scaling-stroke" d="M0 617.6L1 621.3L2 625.1L3 629.0L4 633.0L5 636.8L6 640.9L7 646.6L8 651.8L9 656.7L10 662.1L11 667.3L12 671.7L13 673.7L14 675.8L15 680.3L16 683.3L17 686.5L18 689.9L19 693.8L20 698.2L21 702.0L22 705.6L23 709.3L24 713.0L25 717.3L26 721.1L27 724.3L28 727.2L29 729.8L30 732.9L31 736.6L32 742.4L33 749.0L34 754.3L35 758.3L36 763.0L37 767.7L38 774.2L39 782.4L40 789.7L41 798.4L42 807.9L43 817.5L44 827.6L45 838.1L46 848.0L47 857.5L48 865.4L49 873.1L50 880.0L51 887.1L52 894.2L53 900.8L54 907.0L55 914.9L56 921.5L57 928.3L58 935.5L59 944.4L60 952.5L61 957.3L62 963.5L63 969.8L64 977.0L65 983.1L66 988.3L67 993.9L68 999.8L69 1005.3L70 1011.0L71 1016.2L72 1021.6L73 1027.8L74 1033.7L75 1039.5L76 1045.7L77 1050.8L78 1054.0L79 1057.8L80 1061.6L81 1066.3L82 1070.1L83 1074.3L84 1076.9L85 1077.7L86 1078.7L87 1079.3M93 1073.9L94 1074.2L95 1075.0L96 1076.6L97 1078.9L98 1080.9L99 1082.3L100 1083.8L101 1084.7L102 1087.0L103 1089.6L104 1091.6L105 1092.2L106 1093.5L107 1095.7L108 1098.1L109 1099.3M110 1099.1L111 1099.8L112 1100.8L113 1101.6L114 1102.3L115 1103.0L116 1103.5L117 1104.1L118 1104.8L119 1105.3L120 1106.2L121 1107.2L122 1107.8L123 1108.8L124 1109.4M125 1109.0L126 1110.0L127 1111.0M128 1110.8L129 1111.5L130 1113.2L131 1113.6" stroke="#c11113" stroke-width="2.1"/><path vector-effect="non-scaling-stroke" d="M87 1079.3L88 1079.0L89 1078.2L90 1077.1L91 1075.6L92 1074.8L93 1073.9M109 1099.3L110 1099.1M124 1109.4L125 1109.0M127 1111.0L128 1110.8M131 1113.6L132 1113.1L133 1112.1L134 1110.5L135 1109.4L136 1108.0L137 1106.7L138 1105.8L139 1105.3L140 1105.0L141 1104.8L142 1104.3L143 1103.5L144 1102.4L145 1101.5L146 1100.6L147 1100.1L148 1099.8L149 1098.7L150 1098.1L151 1096.5L152 1094.1" stroke="#198d40" stroke-width="2.10"/><path vector-effect="non-scaling-stroke" d="M0 618.3L1 622.0L2 626.0L3 629.7L4 633.9L5 637.6L6 642.0L7 647.4L8 653.1L9 658.1L10 663.6L11 668.7L12 672.3L13 674.2L14 676.3L15 680.8L16 683.8L17 687.1L18 690.7L19 694.6L20 698.8L21 702.7L22 706.2L23 709.9L24 713.8L25 718.0L26 721.9L27 725.1L28 727.9L29 730.7L30 733.8L31 737.5L32 743.5L33 750.0L34 755.1L35 758.9L36 763.6L37 768.5L38 774.9L39 782.9L40 790.5L41 799.3L42 808.7L43 818.6L44 828.8L45 839.5L46 849.3L47 858.8L48 866.9L49 874.4L50 881.5L51 888.4L52 895.2L53 901.7L54 908.5L55 916.4L56 923.1L57 930.2L58 937.6L59 946.5L60 953.6L61 959.0L62 965.2L63 971.5L64 978.7L65 984.7L66 990.0L67 995.7L68 1001.5L69 1007.0L70 1012.6L71 1018.0L72 1023.7L73 1030.0L74 1036.0L75 1042.0L76 1047.9L77 1052.1L78 1055.2L79 1059.4L80 1063.5L81 1067.7L82 1071.6L83 1075.1L84 1077.0L85 1077.8L86 1078.5L87 1078.9M93 1073.9L94 1074.4L95 1075.3L96 1076.9L97 1079.1L98 1080.8L99 1082.3L100 1083.7L101 1085.1L102 1087.3L103 1090.0L104 1091.5L105 1092.3L106 1093.9L107 1096.1L108 1098.4L109 1099.2L110 1099.4L111 1100.2L112 1101.1L113 1102.0L114 1102.6L115 1103.3L116 1103.9L117 1104.5L118 1105.2L119 1105.9L120 1106.8L121 1107.7L122 1108.4L123 1109.3L124 1109.5L125 1109.5L126 1110.4L127 1111.3M128 1110.9L129 1111.6L130 1113.3L131 1113.6" stroke="#c31113" stroke-width="0.62"/><path vector-effect="non-scaling-stroke" d="M87 1078.9L88 1078.3L89 1077.4L90 1076.3L91 1075.1L92 1074.2L93 1073.9M127 1111.3L128 1110.9M131 1113.6L132 1113.0L133 1112.1L134 1110.5L135 1109.4L136 1108.0L137 1106.8L138 1105.8L139 1105.4L140 1105.2L141 1104.7L142 1104.0L143 1103.1L144 1101.9L145 1101.1L146 1100.3L147 1099.6L148 1099.1L149 1098.3L150 1097.8L151 1096.1L152 1093.6" stroke="#198e40" stroke-width="0.62"/><path vector-effect="non-scaling-stroke" d="M0 619.1L1 622.8L2 626.9L3 630.4L4 634.7L5 638.5L6 643.0L7 648.2L8 654.4L9 659.6L10 665.1L11 670.0L12 672.8L13 674.8L14 676.8L15 681.2L16 684.3L17 687.6L18 691.4L19 695.3L20 699.5L21 703.3L22 706.8L23 710.6L24 714.5L25 718.8L26 722.7L27 725.8L28 728.6L29 731.7L30 734.7L31 738.4L32 744.6L33 751.0L34 756.0L35 759.6L36 764.2L37 769.2L38 775.7L39 783.5L40 791.3L41 800.3L42 809.5L43 819.7L44 830.0L45 840.9L46 850.7L47 860.1L48 868.3L49 875.6L50 883.0L51 889.8L52 896.2L53 902.7L54 910.1L55 917.9L56 924.8L57 932.1L58 939.7L59 948.6L60 954.7L61 960.7L62 966.9L63 973.2L64 980.4L65 986.2L66 991.6L67 997.4L68 1003.2L69 1008.7L70 1014.3L71 1019.8L72 1025.9L73 1032.3L74 1038.3L75 1044.4L76 1050.0L77 1053.4L78 1056.4L79 1061.0L80 1065.4L81 1069.2L82 1073.0L83 1075.9L84 1077.0L85 1078.0L86 1078.4L87 1078.5M92 1073.7L93 1073.9L94 1074.6L95 1075.5L96 1077.3L97 1079.2L98 1080.7L99 1082.3L100 1083.6L101 1085.4L102 1087.6L103 1090.3L104 1091.3L105 1092.4L106 1094.3L107 1096.5L108 1098.7L109 1099.1L110 1099.7L111 1100.7L112 1101.5L113 1102.3L114 1103.0L115 1103.5L116 1104.2L117 1104.9L118 1105.5L119 1106.4L120 1107.4L121 1108.2L122 1109.1L123 1109.8M124 1109.6L125 1110.0L126 1110.8L127 1111.5M128 1111.0L129 1111.7L130 1113.4L131 1113.7" stroke="#c61213" stroke-width="0.62"/><path vector-effect="non-scaling-stroke" d="M87 1078.5L88 1077.6L89 1076.7L90 1075.4L91 1074.5L92 1073.7M123 1109.8L124 1109.6M127 1111.5L128 1111.0M131 1113.7L132 1112.9L133 1112.1L134 1110.4L135 1109.4L136 1108.0L137 1106.8L138 1105.9L139 1105.6L140 1105.3L141 1104.5L142 1103.6L143 1102.6L144 1101.5L145 1100.7L146 1099.9L147 1099.2L148 1098.5L149 1097.9L150 1097.5L151 1095.7L152 1093.1" stroke="#198e41" stroke-width="0.62"/><path vector-effect="non-scaling-stroke" d="M0 619.9L1 623.6L2 627.7L3 631.2L4 635.5L5 639.4L6 643.9L7 649.2L8 655.8L9 661.1L10 666.5L11 671.0L12 673.4L13 675.3L14 677.3L15 681.7L16 684.9L17 688.3L18 692.2L19 696.0L20 700.1L21 703.9L22 707.4L23 711.2L24 715.2L25 719.5L26 723.5L27 726.5L28 729.4L29 732.6L30 735.6L31 739.4L32 745.7L33 751.9L34 756.7L35 760.2L36 764.9L37 770.0L38 776.3L39 784.1L40 792.2L41 801.2L42 810.5L43 820.8L44 831.3L45 842.2L46 851.9L47 861.5L48 869.7L49 877.0L50 884.4L51 891.0L52 897.1L53 903.9L54 911.6L55 919.5L56 926.6L57 934.1L58 941.8L59 950.2L60 956.2L61 962.5L62 968.6L63 974.9L64 982.0L65 987.8L66 993.4L67 999.2L68 1004.9L69 1010.5L70 1016.0L71 1021.8L72 1028.1L73 1034.6L74 1040.7L75 1046.7L76 1051.8L77 1054.7L78 1057.8L79 1062.8L80 1067.2L81 1070.7L82 1074.1L83 1076.4L84 1077.2L85 1078.0L86 1078.1M92 1073.4L93 1074.0L94 1074.8L95 1075.7L96 1077.5L97 1079.3L98 1080.7L99 1082.3L100 1083.7L101 1085.8L102 1088.0L103 1090.4L104 1091.3L105 1092.7L106 1094.8L107 1096.9L108 1098.8L109 1099.2L110 1100.0L111 1101.1L112 1101.9L113 1102.6L114 1103.3L115 1103.8L116 1104.6L117 1105.3L118 1106.0L119 1107.0L120 1107.9L121 1108.8L122 1109.6L123 1110.1M124 1109.9L125 1110.5L126 1111.2L127 1111.7M128 1111.1L129 1111.8L130 1113.5L131 1113.7" stroke="#c81312" stroke-width="0.62"/><path vector-effect="non-scaling-stroke" d="M86 1078.1L87 1077.9L88 1076.9L89 1075.9L90 1074.7L91 1074.0L92 1073.4M123 1110.1L124 1109.9M127 1111.7L128 1111.1M131 1113.7L132 1112.9L133 1112.1L134 1110.4L135 1109.4L136 1108.0L137 1106.9L138 1106.0L139 1105.7L140 1105.2L141 1104.3L142 1103.3L143 1102.2L144 1101.0L145 1100.3L146 1099.5L147 1098.7L148 1098.0L149 1097.6L150 1097.1L151 1095.2L152 1092.6" stroke="#1a8f41" stroke-width="0.62"/><path vector-effect="non-scaling-stroke" d="M0 620.7L1 624.5L2 628.5L3 632.1L4 636.4L5 640.5L6 644.7L7 650.5L8 657.2L9 662.6L10 667.9L11 671.5L12 673.9L13 675.8L14 677.8L15 682.3L16 685.4L17 689.0L18 692.9L19 696.7L20 700.8L21 704.5L22 708.0L23 712.0L24 716.0L25 720.3L26 724.2L27 727.2L28 730.3L29 733.5L30 736.5L31 740.5L32 746.6L33 752.7L34 757.3L35 760.8L36 765.7L37 770.7L38 776.8L39 784.9L40 793.2L41 802.0L42 811.5L43 822.0L44 832.7L45 843.5L46 853.2L47 862.9L48 870.9L49 878.5L50 885.8L51 891.9L52 898.0L53 905.5L54 913.2L55 921.2L56 928.5L57 936.2L58 943.9L59 951.3L60 957.9L61 964.2L62 970.3L63 976.6L64 983.6L65 989.5L66 995.1L67 1000.9L68 1006.7L69 1012.1L70 1017.9L71 1024.0L72 1030.4L73 1037.0L74 1043.2L75 1048.9L76 1053.1L77 1055.9L78 1059.4L79 1064.7L80 1068.7L81 1072.1L82 1075.0L83 1076.5L84 1077.3L85 1077.9M91 1073.4L92 1073.4L93 1074.1L94 1075.0L95 1076.1L96 1077.7L97 1079.2L98 1080.7L99 1082.2L100 1084.0L101 1086.1L102 1088.3L103 1090.3L104 1091.4L105 1093.1L106 1095.2L107 1097.2L108 1098.7L109 1099.5L110 1100.5L111 1101.5L112 1102.2L113 1103.0L114 1103.6L115 1104.2L116 1105.0L117 1105.7L118 1106.5L119 1107.6L120 1108.4L121 1109.4L122 1110.2L123 1110.3L124 1110.4L125 1110.9L126 1111.5L127 1111.8M128 1111.2L129 1111.9L130 1113.6L131 1113.6" stroke="#ca1312" stroke-width="0.62"/><path vector-effect="non-scaling-stroke" d="M85 1077.9L86 1077.7L87 1077.2L88 1076.2L89 1075.0L90 1074.1L91 1073.4M127 1111.8L128 1111.2M131 1113.6L132 1112.9L133 1112.0L134 1110.3L135 1109.4L136 1108.1L137 1107.0L138 1106.2L139 1105.8L140 1105.1L141 1103.9L142 1102.8L143 1101.7L144 1100.6L145 1100.0L146 1099.1L147 1098.0L148 1097.6L149 1097.2L150 1096.7L151 1094.8L152 1092.0" stroke="#1a8f42" stroke-width="0.62"/><path vector-effect="non-scaling-stroke" d="M0 621.4L1 625.4L2 629.2L3 632.9L4 637.2L5 641.5L6 645.5L7 651.8L8 658.7L9 664.1L10 669.3L11 672.1L12 674.5L13 676.3L14 678.2L15 682.8L16 686.0L17 689.8L18 693.7L19 697.3L20 701.4L21 705.1L22 708.6L23 712.7L24 716.7L25 721.1L26 725.0L27 727.9L28 731.2L29 734.4L30 737.3L31 741.6L32 747.6L33 753.5L34 758.0L35 761.4L36 766.4L37 771.4L38 777.3L39 785.7L40 794.1L41 802.8L42 812.6L43 823.2L44 834.0L45 844.8L46 854.5L47 864.4L48 872.1L49 879.9L50 887.2L51 892.9L52 898.9L53 907.0L54 914.7L55 922.9L56 930.4L57 938.3L58 946.0L59 952.5L60 959.6L61 965.9L62 972.0L63 978.3L64 985.1L65 991.2L66 996.9L67 1002.6L68 1008.5L69 1013.8L70 1019.7L71 1026.2L72 1032.7L73 1039.4L74 1045.7L75 1051.1L76 1054.5L77 1057.1L78 1061.0L79 1066.7L80 1070.2L81 1073.6L82 1075.8L83 1076.5L84 1077.5L85 1077.7M91 1072.8L92 1073.4L93 1074.3L94 1075.2L95 1076.4L96 1077.9L97 1079.1L98 1080.7L99 1082.0L100 1084.4L101 1086.4L102 1088.7L103 1090.1L104 1091.5L105 1093.5L106 1095.6L107 1097.5L108 1098.6L109 1099.8L110 1101.0L111 1101.8L112 1102.5L113 1103.4L114 1103.9L115 1104.6L116 1105.4L117 1106.0L118 1107.1L119 1108.1L120 1108.9L121 1110.1L122 1110.7M123 1110.4L124 1110.9L125 1111.4L126 1111.8L127 1111.9M128 1111.3L129 1112.0L130 1113.6" stroke="#cc1412" stroke-width="0.62"/><path vector-effect="non-scaling-stroke" d="M85 1077.7L86 1077.3L87 1076.5L88 1075.4L89 1074.1L90 1073.5L91 1072.8M122 1110.7L123 1110.4M127 1111.9L128 1111.3M130 1113.6L131 1113.6L132 1112.9L133 1112.0L134 1110.3L135 1109.5L136 1108.2L137 1107.1L138 1106.3L139 1105.9L140 1104.9L141 1103.6L142 1102.4L143 1101.3L144 1100.2L145 1099.6L146 1098.7L147 1097.4L148 1097.2L149 1096.9L150 1096.3L151 1094.3L152 1091.4" stroke="#1a9042" stroke-width="0.62"/><path vector-effect="non-scaling-stroke" d="M0 622.3L1 626.2L2 630.0L3 633.7L4 638.3L5 642.3L6 646.8L7 653.3L8 660.2L9 665.5L10 669.8L11 672.7L12 675.0L13 676.8L14 678.7L15 683.3L16 686.7L17 690.5L18 694.3L19 697.9L20 702.0L21 705.7L22 709.4L23 713.5L24 717.5L25 721.9L26 725.7L27 728.8L28 732.1L29 735.3L30 738.5L31 742.6L32 748.4L33 754.2L34 758.6L35 762.2L36 767.1L37 771.9L38 778.0L39 786.6L40 794.8L41 803.8L42 813.7L43 824.5L44 835.3L45 846.0L46 855.9L47 865.6L48 873.6L49 881.3L50 888.1L51 893.8L52 900.5L53 908.5L54 916.4L55 924.8L56 932.5L57 940.4L58 947.1L59 954.2L60 961.4L61 967.6L62 973.7L63 979.9L64 986.8L65 993.0L66 998.7L67 1004.4L68 1010.2L69 1015.7L70 1022.0L71 1028.5L72 1035.1L73 1041.9L74 1047.9L75 1052.5L76 1055.7L77 1058.8L78 1063.0L79 1068.2L80 1071.6L81 1074.4L82 1075.9L83 1076.7L84 1077.3M91 1072.8L92 1073.6L93 1074.5L94 1075.5L95 1076.6L96 1077.8L97 1079.1L98 1080.6L99 1082.4L100 1084.7L101 1086.8L102 1088.5L103 1090.2L104 1091.9L105 1093.9L106 1095.9L107 1097.4L108 1098.9L109 1100.3L110 1101.4L111 1102.2L112 1102.9L113 1103.7L114 1104.3L115 1105.0L116 1105.8L117 1106.6L118 1107.7L119 1108.7L120 1109.6L121 1110.6L122 1110.8L123 1110.9L124 1111.4L125 1111.7L126 1111.9L127 1112.1M128 1111.3L129 1112.0L130 1113.5L131 1113.6" stroke="#cd1512" stroke-width="0.62"/><path vector-effect="non-scaling-stroke" d="M84 1077.3L85 1077.3L86 1076.5L87 1075.7L88 1074.5L89 1073.5L90 1072.9L91 1072.8M127 1112.1L128 1111.3M131 1113.6L132 1112.8L133 1112.0L134 1110.4L135 1109.6L136 1108.3L137 1107.3L138 1106.5L139 1105.8L140 1104.6L141 1103.1L142 1101.9L143 1100.8L144 1099.8L145 1099.1L146 1098.0L147 1096.9L148 1096.8L149 1096.5L150 1095.8L151 1093.7L152 1091.1" stroke="#1a9043" stroke-width="0.62"/><path vector-effect="non-scaling-stroke" d="M0 623.2L1 626.9L2 630.9L3 634.6L4 639.3L5 643.0L6 648.1L7 654.8L8 661.8L9 666.9L10 670.4L11 673.2L12 675.5L13 677.3L14 679.2L15 683.9L16 687.5L17 691.2L18 694.9L19 698.6L20 702.6L21 706.3L22 710.1L23 714.2L24 718.3L25 722.6L26 726.3L27 729.8L28 733.1L29 736.2L30 739.6L31 743.5L32 749.2L33 754.8L34 759.2L35 762.9L36 767.9L37 772.3L38 778.8L39 787.5L40 795.6L41 804.8L42 814.8L43 825.8L44 836.5L45 847.3L46 857.3L47 866.8L48 875.1L49 882.6L50 889.1L51 894.7L52 902.0L53 910.1L54 918.1L55 926.7L56 934.7L57 942.6L58 948.3L59 955.9L60 963.1L61 969.4L62 975.5L63 981.4L64 988.5L65 994.8L66 1000.4L67 1006.2L68 1011.9L69 1017.6L70 1024.2L71 1030.9L72 1037.6L73 1044.4L74 1050.2L75 1053.9L76 1057.0L77 1060.4L78 1065.0L79 1069.8L80 1073.1L81 1075.3L82 1076.0L83 1076.9L84 1077.2M90 1072.3L91 1072.8L92 1073.7L93 1074.7L94 1075.9L95 1076.7L96 1077.7L97 1079.1L98 1080.5L99 1082.7L100 1085.0L101 1087.1L102 1088.3L103 1090.3L104 1092.3L105 1094.3L106 1096.2L107 1097.3L108 1099.2L109 1100.8L110 1101.7L111 1102.5L112 1103.3L113 1104.0L114 1104.7L115 1105.4L116 1106.2L117 1107.2L118 1108.3L119 1109.2L120 1110.3L121 1111.2M122 1111.0L123 1111.5L124 1111.9L125 1112.0L126 1112.0L127 1112.2M128 1111.4L129 1112.1L130 1113.5L131 1113.6" stroke="#ce1612" stroke-width="0.62"/><path vector-effect="non-scaling-stroke" d="M84 1077.2L85 1076.8L86 1075.8L87 1074.9L88 1073.5L89 1072.9L90 1072.3M121 1111.2L122 1111.0M127 1112.2L128 1111.4M131 1113.6L132 1112.8L133 1112.0L134 1110.4L135 1109.6L136 1108.4L137 1107.4L138 1106.6L139 1105.6L140 1104.2L141 1102.7L142 1101.4L143 1100.4L144 1099.4L145 1098.7L146 1097.3L147 1096.5L148 1096.5L149 1096.1L150 1095.4L151 1093.1L152 1090.9" stroke="#1b9143" stroke-width="0.62"/><path vector-effect="non-scaling-stroke" d="M0 624.0L1 627.7L2 631.7L3 635.5L4 640.2L5 644.1L6 649.5L7 656.3L8 663.2L9 667.9L10 670.9L11 673.8L12 676.0L13 677.7L14 679.7L15 684.5L16 688.2L17 691.9L18 695.6L19 699.2L20 703.2L21 707.0L22 710.9L23 715.0L24 719.1L25 723.3L26 727.1L27 730.7L28 734.0L29 737.3L30 740.7L31 744.4L32 749.9L33 755.4L34 759.9L35 763.6L36 768.4L37 772.9L38 779.6L39 788.3L40 796.4L41 805.8L42 816.0L43 827.0L44 837.7L45 848.6L46 858.6L47 868.2L48 876.5L49 883.8L50 890.0L51 895.9L52 903.6L53 911.7L54 919.9L55 928.8L56 936.8L57 944.2L58 949.7L59 957.7L60 964.9L61 971.1L62 977.1L63 983.1L64 990.3L65 996.6L66 1002.2L67 1008.0L68 1013.7L69 1019.7L70 1026.5L71 1033.3L72 1040.1L73 1046.9L74 1052.0L75 1055.2L76 1058.4L77 1062.2L78 1066.8L79 1071.3L80 1074.3L81 1075.8L82 1076.1L83 1076.9M90 1072.0L91 1072.9L92 1073.9L93 1075.0L94 1076.1L95 1076.7L96 1077.6L97 1079.0L98 1080.6L99 1083.0L100 1085.4L101 1087.2L102 1088.3L103 1090.5L104 1092.7L105 1094.7L106 1096.3L107 1097.3L108 1099.6L109 1101.2L110 1102.1L111 1102.9L112 1103.6L113 1104.3L114 1105.1L115 1105.8L116 1106.7L117 1107.8L118 1108.9L119 1109.8L120 1110.9L121 1111.5M122 1111.3L123 1112.0L124 1112.3M126 1112.1L127 1112.3M128 1111.5L129 1112.1L130 1113.4L131 1113.6" stroke="#d01712" stroke-width="0.62"/><path vector-effect="non-scaling-stroke" d="M83 1076.9L84 1076.9L85 1076.2L86 1075.0L87 1074.0L88 1072.8L89 1072.3L90 1072.0M121 1111.5L122 1111.3M124 1112.3L125 1112.2L126 1112.1M127 1112.3L128 1111.5M131 1113.6L132 1112.8L133 1112.0L134 1110.5L135 1109.7L136 1108.6L137 1107.6L138 1106.6L139 1105.4L140 1103.8L141 1102.2L142 1101.0L143 1100.0L144 1099.0L145 1098.1L146 1096.8L147 1096.1L148 1096.1L149 1095.6L150 1094.8L151 1092.7L152 1090.7" stroke="#1b9144" stroke-width="0.62"/><path vector-effect="non-scaling-stroke" d="M0 624.8L1 628.5L2 632.6L3 636.6L4 641.0L5 645.4L6 651.0L7 657.8L8 664.7L9 668.4L10 671.5L11 674.3L12 676.5L13 678.2L14 680.3L15 685.3L16 689.0L17 692.6L18 696.2L19 699.7L20 703.8L21 707.7L22 711.6L23 715.7L24 719.8L25 724.0L26 728.1L27 731.6L28 734.9L29 738.4L30 741.6L31 745.2L32 750.5L33 756.0L34 760.6L35 764.3L36 768.9L37 773.6L38 780.4L39 789.0L40 797.4L41 806.9L42 817.3L43 828.2L44 838.9L45 850.0L46 859.8L47 869.7L48 877.9L49 884.7L50 890.9L51 897.5L52 905.1L53 913.4L54 921.8L55 931.0L56 939.0L57 945.3L58 951.5L59 959.5L60 966.6L61 972.9L62 978.7L63 984.8L64 992.2L65 998.4L66 1004.1L67 1009.7L68 1015.6L69 1021.9L70 1028.9L71 1035.8L72 1042.7L73 1049.2L74 1053.5L75 1056.5L76 1060.1L77 1064.3L78 1068.4L79 1072.8L80 1075.2L81 1075.8L82 1076.3L83 1076.7M89 1071.7L90 1072.0L91 1073.0L92 1074.1L93 1075.4L94 1076.3L95 1076.6L96 1077.6L97 1078.8L98 1080.9L99 1083.4L100 1085.7L101 1087.0L102 1088.3L103 1090.9L104 1093.1L105 1095.0L106 1096.2L107 1097.6L108 1100.0L109 1101.6L110 1102.4L111 1103.3L112 1103.9L113 1104.7L114 1105.5L115 1106.2L116 1107.2L117 1108.4L118 1109.4L119 1110.5L120 1111.5L121 1111.7L122 1111.9L123 1112.5L124 1112.6M126 1112.2L127 1112.3M128 1111.5L129 1112.0L130 1113.4L131 1113.5" stroke="#d11813" stroke-width="0.62"/><path vector-effect="non-scaling-stroke" d="M83 1076.7L84 1076.4L85 1075.4L86 1074.2L87 1073.1L88 1072.2L89 1071.7M124 1112.6L125 1112.3L126 1112.2M127 1112.3L128 1111.5M131 1113.5L132 1112.8L133 1112.1L134 1110.6L135 1109.9L136 1108.7L137 1107.7L138 1106.4L139 1105.0L140 1103.4L141 1101.7L142 1100.5L143 1099.6L144 1098.6L145 1097.4L146 1096.3L147 1095.8L148 1095.7L149 1095.1L150 1094.2L151 1092.4L152 1090.6" stroke="#1b9245" stroke-width="0.62"/><path vector-effect="non-scaling-stroke" d="M0 625.5L1 629.4L2 633.4L3 637.6L4 641.8L5 646.7L6 652.4L7 659.3L8 666.1L9 668.9L10 672.1L11 674.8L12 677.0L13 678.7L14 680.8L15 686.0L16 689.7L17 693.2L18 696.8L19 700.3L20 704.4L21 708.5L22 712.4L23 716.5L24 720.6L25 724.7L26 729.0L27 732.6L28 735.8L29 739.6L30 742.6L31 746.0L32 751.1L33 756.6L34 761.3L35 765.0L36 769.3L37 774.3L38 781.3L39 789.7L40 798.4L41 808.0L42 818.6L43 829.4L44 840.1L45 851.4L46 861.0L47 871.1L48 879.2L49 885.7L50 891.8L51 899.0L52 906.6L53 915.1L54 923.7L55 933.1L56 941.1L57 946.5L58 953.2L59 961.2L60 968.3L61 974.6L62 980.3L63 986.5L64 994.0L65 1000.2L66 1005.9L67 1011.5L68 1017.5L69 1024.2L70 1031.3L71 1038.3L72 1045.3L73 1051.5L74 1054.9L75 1057.8L76 1061.8L77 1066.4L78 1069.9L79 1074.4L80 1076.1M81 1075.9L82 1076.4L83 1076.5M89 1071.1L90 1072.0L91 1073.2L92 1074.3L93 1075.7L94 1076.4L95 1076.5L96 1077.6L97 1078.7L98 1081.2L99 1083.7L100 1086.1L101 1086.8L102 1088.4L103 1091.3L104 1093.5L105 1095.2L106 1096.0L107 1097.9L108 1100.5L109 1102.0L110 1102.8L111 1103.7L112 1104.2L113 1105.1L114 1105.9L115 1106.6L116 1107.8L117 1109.0L118 1110.0L119 1111.2L120 1112.0M121 1111.8L122 1112.4L123 1112.9M126 1112.3L127 1112.4M128 1111.6L129 1111.9L130 1113.4L131 1113.5" stroke="#d21913" stroke-width="2.1"/><path vector-effect="non-scaling-stroke" d="M80 1076.1L81 1075.9M83 1076.5L84 1076.0L85 1074.7L86 1073.4L87 1072.1L88 1071.5L89 1071.1M120 1112.0L121 1111.8M123 1112.9L124 1112.9L125 1112.4L126 1112.3M127 1112.4L128 1111.6M131 1113.5L132 1112.8L133 1112.1L134 1110.7L135 1110.0L136 1108.9L137 1107.9L138 1106.3L139 1104.7L140 1102.9L141 1101.2L142 1100.1L143 1099.2L144 1098.1L145 1096.8L146 1095.9L147 1095.4L148 1095.2L149 1094.6L150 1093.6L151 1092.1L152 1090.5" stroke="#1c9245" stroke-width="2.10"/><path vector-effect="non-scaling-stroke" d="M0 626.4L1 630.2L2 634.5L3 638.4L4 643.1L5 648.2L6 654.0L7 660.7L8 666.6L9 669.5L10 672.6L11 675.3L12 677.5L13 679.3L14 681.5L15 686.7L16 690.3L17 693.8L18 697.4L19 700.9L20 705.1L21 709.2L22 713.1L23 717.3L24 721.2L25 725.6L26 730.0L27 733.5L28 737.0L29 740.5L30 743.4L31 746.6L32 751.7L33 757.3L34 762.0L35 765.5L36 770.0L37 775.2L38 781.9L39 790.6L40 799.4L41 809.2L42 819.7L43 830.6L44 841.4L45 852.5L46 862.5L47 872.5L48 880.1L49 886.6L50 893.3L51 900.6L52 908.3L53 917.0L54 925.9L55 935.3L56 942.3L57 948.2L58 955.0L59 963.0L60 970.1L61 976.2L62 982.0L63 988.4L64 995.8L65 1002.0L66 1007.6L67 1013.4L68 1019.9L69 1026.7L70 1033.8L71 1040.9L72 1047.6L73 1052.9L74 1056.2L75 1059.5L76 1063.9L77 1068.0L78 1071.5L79 1075.3L80 1076.2M81 1076.1L82 1076.2M88 1070.9L89 1071.1L90 1072.1L91 1073.4L92 1074.7L93 1075.9L94 1076.3L95 1076.5L96 1077.4L97 1079.0L98 1081.5L99 1084.0L100 1085.8L101 1086.9L102 1088.8L103 1091.7L104 1093.8L105 1095.1L106 1096.3L107 1098.4L108 1100.9L109 1102.3L110 1103.2L111 1104.0L112 1104.6L113 1105.5L114 1106.3L115 1107.2L116 1108.5L117 1109.6L118 1110.7L119 1111.8L120 1112.2L121 1112.4L122 1112.9L123 1113.3M126 1112.4L127 1112.5M128 1111.5L129 1111.9L130 1113.4L131 1113.5" stroke="#d31a13" stroke-width="0.62"/><path vector-effect="non-scaling-stroke" d="M80 1076.2L81 1076.1M82 1076.2L83 1076.1L84 1075.2L85 1073.8L86 1072.4L87 1071.5L88 1070.9M123 1113.3L124 1113.0L125 1112.5L126 1112.4M127 1112.5L128 1111.5M131 1113.5L132 1112.8L133 1112.2L134 1110.8L135 1110.2L136 1109.1L137 1107.7L138 1105.9L139 1104.2L140 1102.4L141 1100.8L142 1099.7L143 1098.8L144 1097.4L145 1096.3L146 1095.5L147 1094.9L148 1094.7L149 1094.0L150 1093.4L151 1092.1L152 1090.4" stroke="#1c9346" stroke-width="0.62"/><path vector-effect="non-scaling-stroke" d="M0 627.2L1 631.0L2 635.5L3 639.2L4 644.4L5 649.7L6 655.5L7 662.2L8 667.2L9 670.1L10 673.1L11 675.8L12 678.0L13 679.8L14 682.3L15 687.5L16 691.0L17 694.5L18 698.0L19 701.5L20 705.8L21 710.0L22 713.9L23 718.0L24 721.9L25 726.6L26 731.0L27 734.5L28 738.2L29 741.5L30 744.2L31 747.2L32 752.3L33 758.1L34 762.7L35 765.9L36 770.7L37 776.0L38 782.6L39 791.6L40 800.5L41 810.5L42 820.9L43 831.7L44 842.8L45 853.7L46 863.9L47 873.8L48 881.1L49 887.4L50 894.9L51 902.1L52 910.0L53 918.9L54 928.1L55 937.5L56 943.4L57 950.0L58 956.7L59 964.7L60 971.9L61 977.8L62 983.8L63 990.3L64 997.6L65 1003.9L66 1009.4L67 1015.4L68 1022.2L69 1029.1L70 1036.4L71 1043.6L72 1050.0L73 1054.4L74 1057.5L75 1061.2L76 1066.0L77 1069.6L78 1073.1L79 1076.2L80 1076.3M88 1070.3L89 1071.0L90 1072.3L91 1073.6L92 1075.0L93 1076.0L94 1076.2L95 1076.5L96 1077.2L97 1079.3L98 1081.8L99 1084.4L100 1085.6L101 1086.9L102 1089.2L103 1092.2L104 1094.1L105 1095.0L106 1096.6L107 1098.9L108 1101.3L109 1102.7L110 1103.6L111 1104.3L112 1105.0L113 1106.0L114 1106.7L115 1107.8L116 1109.1L117 1110.2L118 1111.4L119 1112.4M120 1112.3L121 1113.0L122 1113.4L123 1113.6M126 1112.5L127 1112.5M128 1111.4L129 1111.9L130 1113.3L131 1113.5" stroke="#d41c13" stroke-width="0.62"/><path vector-effect="non-scaling-stroke" d="M80 1076.3L81 1076.3L82 1076.1L83 1075.6L84 1074.4L85 1073.0L86 1071.4L87 1070.9L88 1070.3M119 1112.4L120 1112.3M123 1113.6L124 1113.2L125 1112.6L126 1112.5M127 1112.5L128 1111.4M131 1113.5L132 1112.9L133 1112.4L134 1111.0L135 1110.4L136 1109.2L137 1107.6L138 1105.5L139 1103.7L140 1101.9L141 1100.3L142 1099.3L143 1098.3L144 1096.7L145 1095.9L146 1095.1L147 1094.5L148 1094.2L149 1093.4L150 1093.1L151 1092.0L152 1090.3" stroke="#1c9346" stroke-width="0.62"/><path vector-effect="non-scaling-stroke" d="M0 628.1L1 632.0L2 636.5L3 640.2L4 645.8L5 651.2L6 657.0L7 663.1L8 667.7L9 670.6L10 673.6L11 676.3L12 678.5L13 680.5L14 683.0L15 688.2L16 691.6L17 695.0L18 698.5L19 702.1L20 706.6L21 710.7L22 714.7L23 718.7L24 722.7L25 727.5L26 731.9L27 735.5L28 739.3L29 742.4L30 744.9L31 747.7L32 752.9L33 758.8L34 763.3L35 766.4L36 771.5L37 776.7L38 783.4L39 792.6L40 801.6L41 811.6L42 822.0L43 833.0L44 844.0L45 855.0L46 865.3L47 874.9L48 882.0L49 888.6L50 896.4L51 903.7L52 911.8L53 921.0L54 930.3L55 939.1L56 944.9L57 951.8L58 958.5L59 966.5L60 973.6L61 979.5L62 985.6L63 992.1L64 999.5L65 1005.7L66 1011.3L67 1017.5L68 1024.6L69 1031.6L70 1039.0L71 1046.1L72 1051.9L73 1055.8L74 1059.0L75 1063.1L76 1067.9L77 1071.2L78 1074.3L79 1076.7M88 1069.9L89 1071.1L90 1072.5L91 1073.9L92 1075.3L93 1076.0L94 1076.1L95 1076.4L96 1077.3L97 1079.6L98 1082.2L99 1084.4L100 1085.5L101 1087.2L102 1089.6L103 1092.5L104 1094.2L105 1095.0L106 1096.9L107 1099.3L108 1101.7L109 1103.1L110 1104.0L111 1104.7L112 1105.5L113 1106.4L114 1107.2L115 1108.4L116 1109.7L117 1110.8L118 1112.1L119 1112.8M120 1112.7L121 1113.5L122 1113.9M128 1111.3L129 1111.8L130 1113.3L131 1113.5" stroke="#d61d13" stroke-width="0.62"/><path vector-effect="non-scaling-stroke" d="M79 1076.7L80 1076.4L81 1076.3L82 1075.7L83 1074.9L84 1073.5L85 1072.1L86 1070.6L87 1070.2L88 1069.9M119 1112.8L120 1112.7M122 1113.9L123 1113.8L124 1113.3L125 1112.7L126 1112.6L127 1112.5L128 1111.3M131 1113.5L132 1113.0L133 1112.5L134 1111.1L135 1110.6L136 1109.2L137 1107.3L138 1105.1L139 1103.3L140 1101.4L141 1099.9L142 1098.9L143 1097.7L144 1096.1L145 1095.5L146 1094.7L147 1094.0L148 1093.7L149 1092.9L150 1092.9L151 1091.9L152 1090.3" stroke="#1c9447" stroke-width="0.62"/><path vector-effect="non-scaling-stroke" d="M0 628.9L1 633.1L2 637.2L3 641.6L4 647.4L5 652.8L6 658.4L7 663.7L8 668.3L9 671.1L10 674.1L11 676.8L12 679.0L13 681.2L14 683.7L15 688.8L16 692.2L17 695.6L18 699.1L19 702.9L20 707.3L21 711.5L22 715.4L23 719.4L24 723.7L25 728.5L26 732.9L27 736.7L28 740.3L29 743.2L30 745.5L31 748.3L32 753.6L33 759.5L34 763.7L35 767.1L36 772.3L37 777.4L38 784.3L39 793.6L40 802.8L41 812.7L42 823.1L43 834.3L44 845.1L45 856.4L46 866.6L47 875.8L48 882.8L49 890.2L50 898.0L51 905.4L52 913.8L53 923.2L54 932.5L55 940.3L56 946.6L57 953.6L58 960.3L59 968.3L60 975.2L61 981.3L62 987.5L63 993.9L64 1001.4L65 1007.5L66 1013.3L67 1019.9L68 1027.1L69 1034.2L70 1041.7L71 1048.5L72 1053.4L73 1057.1L74 1060.8L75 1065.3L76 1069.5L77 1072.8L78 1075.2L79 1076.8M87 1069.5L88 1069.9L89 1071.2L90 1072.7L91 1074.2L92 1075.4L93 1075.9L94 1076.1L95 1076.2L96 1077.6L97 1080.0L98 1082.5L99 1084.2L100 1085.6L101 1087.5L102 1090.0L103 1092.8L104 1094.1L105 1095.3L106 1097.4L107 1099.7L108 1102.1L109 1103.5L110 1104.3L111 1105.1L112 1105.9L113 1106.8L114 1107.9L115 1109.1L116 1110.3L117 1111.5L118 1112.7L119 1112.9L120 1113.3L121 1114.0L122 1114.2M128 1111.3L129 1111.8L130 1113.3L131 1113.6M149 1092.7L150 1092.9" stroke="#d71e13" stroke-width="0.62"/><path vector-effect="non-scaling-stroke" d="M79 1076.8L80 1076.6L81 1076.1L82 1075.2L83 1074.1L84 1072.7L85 1071.1L86 1069.9L87 1069.5M122 1114.2L123 1114.0L124 1113.4L125 1112.8L126 1112.6L127 1112.4L128 1111.3M131 1113.6L132 1113.1L133 1112.7L134 1111.3L135 1110.8L136 1109.1L137 1107.0L138 1104.7L139 1102.8L140 1101.0L141 1099.5L142 1098.4L143 1097.0L144 1095.6L145 1095.1L146 1094.3L147 1093.5L148 1093.0L149 1092.7M150 1092.9L151 1091.9L152 1090.2" stroke="#1d9447" stroke-width="0.62"/><path vector-effect="non-scaling-stroke" d="M0 629.7L1 634.2L2 638.0L3 642.9L4 648.9L5 654.3L6 659.9L7 664.2L8 668.8L9 671.7L10 674.6L11 677.3L12 679.6L13 681.9L14 684.5L15 689.5L16 692.8L17 696.2L18 699.7L19 703.6L20 708.1L21 712.2L22 716.1L23 720.0L24 724.6L25 729.5L26 733.8L27 737.9L28 741.3L29 744.1L30 746.0L31 748.9L32 754.3L33 760.1L34 764.1L35 767.8L36 773.1L37 778.0L38 785.2L39 794.6L40 804.0L41 813.9L42 824.2L43 835.6L44 846.2L45 857.8L46 867.9L47 876.7L48 883.7L49 891.8L50 899.5L51 907.1L52 915.7L53 925.4L54 934.6L55 941.4L56 948.4L57 955.4L58 962.0L59 970.1L60 976.9L61 983.1L62 989.4L63 995.8L64 1003.3L65 1009.3L66 1015.3L67 1022.3L68 1029.6L69 1036.8L70 1044.4L71 1050.9L72 1054.9L73 1058.5L74 1062.6L75 1067.5L76 1071.2L77 1074.4L78 1076.2L79 1076.9M87 1068.9L88 1069.8L89 1071.4L90 1072.9L91 1074.6L92 1075.6L93 1075.8L94 1076.0M95 1076.0L96 1077.9L97 1080.3L98 1082.8L99 1084.0L100 1085.6L101 1087.9L102 1090.4L103 1093.1L104 1093.9L105 1095.6L106 1097.9L107 1100.1L108 1102.4L109 1103.9L110 1104.6L111 1105.5L112 1106.4L113 1107.2L114 1108.5L115 1109.7L116 1110.9L117 1112.3L118 1113.3M119 1113.1L120 1113.9L121 1114.6M128 1111.3L129 1111.7L130 1113.4L131 1113.7M148 1092.3L149 1092.4L150 1092.8" stroke="#d81f13" stroke-width="0.62"/><path vector-effect="non-scaling-stroke" d="M79 1076.9L80 1076.8L81 1075.9L82 1074.7L83 1073.3L84 1071.8L85 1070.0L86 1069.2L87 1068.9M94 1076.0L95 1076.0M118 1113.3L119 1113.1M121 1114.6L122 1114.5L123 1114.1L124 1113.5L125 1112.9L126 1112.7L127 1112.3L128 1111.3M131 1113.7L132 1113.3L133 1112.8L134 1111.6L135 1110.9L136 1109.0L137 1106.6L138 1104.2L139 1102.3L140 1100.5L141 1099.1L142 1097.9L143 1096.2L144 1095.2L145 1094.7L146 1093.8L147 1093.0L148 1092.3M150 1092.8L151 1091.8L152 1090.2" stroke="#1d9548" stroke-width="0.62"/><path vector-effect="non-scaling-stroke" d="M0 630.8L1 634.9L2 639.4L3 644.4L4 650.5L5 655.8L6 660.4L7 664.7L8 669.4L9 672.1L10 675.1L11 677.8L12 680.3L13 682.7L14 685.1L15 690.1L16 693.4L17 696.7L18 700.4L19 704.3L20 708.8L21 713.0L22 716.8L23 721.0L24 725.6L25 730.4L26 735.0L27 738.9L28 742.1L29 744.7L30 746.6L31 749.5L32 755.0L33 760.5L34 764.8L35 768.6L36 773.7L37 778.8L38 786.1L39 795.7L40 805.1L41 814.9L42 825.4L43 836.6L44 847.6L45 859.1L46 868.7L47 877.5L48 885.2L49 893.3L50 901.2L51 909.0L52 917.9L53 927.6L54 935.8L55 943.2L56 950.2L57 957.1L58 963.9L59 971.8L60 978.7L61 985.0L62 991.2L63 997.7L64 1005.1L65 1011.4L66 1017.7L67 1024.8L68 1032.2L69 1039.6L70 1046.9L71 1052.5L72 1056.3L73 1060.3L74 1064.8L75 1069.2L76 1072.9L77 1075.4L78 1076.3L79 1077.1M86 1068.5L87 1068.8L88 1070.0L89 1071.6L90 1073.3L91 1074.8L92 1075.5L93 1075.7L94 1075.8L95 1076.3L96 1078.2L97 1080.6L98 1082.6L99 1084.0L100 1086.0L101 1088.3L102 1090.7L103 1092.9L104 1094.2L105 1096.1L106 1098.3L107 1100.4L108 1102.8L109 1104.2L110 1105.0L111 1105.9L112 1106.8L113 1107.9L114 1109.2L115 1110.4L116 1111.7L117 1112.9L118 1113.5L119 1113.7L120 1114.4L121 1114.9M128 1111.2L129 1111.7L130 1113.4L131 1113.8M148 1092.1L149 1092.3L150 1092.7" stroke="#d92013" stroke-width="0.62"/><path vector-effect="non-scaling-stroke" d="M79 1077.1L80 1076.6L81 1075.4L82 1073.9L83 1072.4L84 1070.8L85 1069.3L86 1068.5M121 1114.9L122 1114.7L123 1114.3L124 1113.6L125 1113.0L126 1112.6L127 1112.3L128 1111.2M131 1113.8L132 1113.4L133 1113.1L134 1111.7L135 1110.8L136 1108.6L137 1106.2L138 1103.7L139 1101.8L140 1100.1L141 1098.6L142 1097.1L143 1095.8L144 1094.8L145 1094.2L146 1093.2L147 1092.3L148 1092.1M150 1092.7L151 1091.8L152 1090.1" stroke="#1d9548" stroke-width="0.62"/><path vector-effect="non-scaling-stroke" d="M0 631.9L1 635.7L2 640.7L3 646.0L4 652.1L5 657.2L6 660.9L7 665.3L8 669.9L9 672.6L10 675.6L11 678.4L12 681.1L13 683.4L14 685.7L15 690.7L16 694.0L17 697.3L18 701.2L19 705.1L20 709.6L21 713.7L22 717.4L23 722.0L24 726.5L25 731.4L26 736.2L27 739.9L28 742.9L29 745.2L30 747.2L31 750.2L32 755.7L33 760.9L34 765.5L35 769.4L36 774.3L37 779.7L38 787.1L39 796.9L40 806.1L41 815.9L42 826.7L43 837.7L44 849.0L45 860.3L46 869.6L47 878.4L48 886.8L49 894.8L50 902.9L51 911.0L52 920.1L53 929.8L54 936.9L55 945.0L56 952.1L57 958.9L58 965.7L59 973.4L60 980.5L61 986.9L62 993.1L63 999.6L64 1006.9L65 1013.4L66 1020.1L67 1027.4L68 1034.9L69 1042.3L70 1049.4L71 1054.0L72 1057.6L73 1062.1L74 1067.0L75 1070.9L76 1074.5L77 1076.3L78 1076.3L79 1077.3M86 1067.8L87 1068.7L88 1070.1L89 1071.8L90 1073.6L91 1074.9L92 1075.3L93 1075.7M94 1075.7L95 1076.6L96 1078.5L97 1080.9L98 1082.3L99 1084.0L100 1086.4L101 1088.7L102 1091.0L103 1092.8L104 1094.4L105 1096.5L106 1098.7L107 1100.8L108 1103.3L109 1104.6L110 1105.5L111 1106.4L112 1107.2L113 1108.5L114 1109.8L115 1111.0L116 1112.4L117 1113.5L118 1113.6L119 1114.3L120 1115.0L121 1115.3M128 1111.1L129 1111.7L130 1113.5L131 1114.0M147 1091.6L148 1091.8L149 1092.2L150 1092.7" stroke="#db2114" stroke-width="0.62"/><path vector-effect="non-scaling-stroke" d="M79 1077.3L80 1076.4L81 1074.9L82 1073.0L83 1071.5L84 1069.7L85 1068.7L86 1067.8M93 1075.7L94 1075.7M121 1115.3L122 1114.8L123 1114.4L124 1113.8L125 1113.1L126 1112.5L127 1112.3L128 1111.1M131 1114.0L132 1113.6L133 1113.3L134 1111.9L135 1110.7L136 1108.3L137 1105.7L138 1103.2L139 1101.3L140 1099.7L141 1098.1L142 1096.4L143 1095.3L144 1094.4L145 1093.7L146 1092.7L147 1091.6M150 1092.7L151 1091.7L152 1090.0" stroke="#1d9649" stroke-width="0.62"/><path vector-effect="non-scaling-stroke" d="M0 632.9L1 636.8L2 642.2L3 647.5L4 653.6L5 658.2L6 661.4L7 665.8L8 670.4L9 673.1L10 676.1L11 679.0L12 681.8L13 684.1L14 686.3L15 691.3L16 694.5L17 698.0L18 701.9L19 705.8L20 710.3L21 714.4L22 718.3L23 722.9L24 727.5L25 732.4L26 737.3L27 740.9L28 743.7L29 745.8L30 747.8L31 750.9L32 756.2L33 761.4L34 766.2L35 770.1L36 775.0L37 780.6L38 788.1L39 798.0L40 807.1L41 817.1L42 827.8L43 838.9L44 850.3L45 861.4L46 870.4L47 879.5L48 888.3L49 896.4L50 904.7L51 913.1L52 922.3L53 931.5L54 938.4L55 946.8L56 953.9L57 960.7L58 967.4L59 975.1L60 982.4L61 988.8L62 995.0L63 1001.5L64 1008.9L65 1015.7L66 1022.6L67 1030.0L68 1037.6L69 1045.0L70 1051.4L71 1055.5L72 1059.3L73 1064.2L74 1069.0L75 1072.6L76 1075.9L77 1076.9M78 1076.5L79 1077.3M86 1067.5L87 1068.8L88 1070.3L89 1072.1L90 1073.9L91 1074.9L92 1075.2L93 1075.6L94 1075.7L95 1076.9L96 1078.8L97 1080.9L98 1082.2L99 1084.2L100 1086.8L101 1089.1L102 1091.0L103 1092.8L104 1094.8L105 1097.0L106 1099.1L107 1101.2L108 1103.7L109 1105.0L110 1105.9L111 1106.9L112 1107.8L113 1109.2L114 1110.5L115 1111.7L116 1113.1L117 1113.9L118 1114.0L119 1114.9L120 1115.5L121 1115.6M128 1111.1L129 1111.7L130 1113.6L131 1114.1M147 1091.1L148 1091.6L149 1092.2L150 1092.6" stroke="#dc2214" stroke-width="0.62"/><path vector-effect="non-scaling-stroke" d="M77 1076.9L78 1076.5M79 1077.3L80 1076.0L81 1074.2L82 1072.2L83 1070.5L84 1068.8L85 1067.9L86 1067.5M121 1115.6L122 1115.0L123 1114.5L124 1113.8L125 1113.1L126 1112.5L127 1112.3L128 1111.1M131 1114.1L132 1113.8L133 1113.5L134 1112.0L135 1110.5L136 1107.9L137 1105.2L138 1102.7L139 1100.9L140 1099.2L141 1097.5L142 1095.8L143 1094.8L144 1093.9L145 1093.2L146 1092.1L147 1091.1M150 1092.6L151 1091.7L152 1089.9" stroke="#1e9649" stroke-width="0.62"/><path vector-effect="non-scaling-stroke" d="M0 633.6L1 638.2L2 643.7L3 649.1L4 655.0L5 658.7L6 661.9L7 666.3L8 670.8L9 673.6L10 676.7L11 679.8L12 682.6L13 684.7L14 686.9L15 691.8L16 695.1L17 698.7L18 702.6L19 706.6L20 711.1L21 715.1L22 719.2L23 723.9L24 728.4L25 733.7L26 738.4L27 741.7L28 744.3L29 746.4L30 748.5L31 751.5L32 756.5L33 762.1L34 767.0L35 770.7L36 775.9L37 781.6L38 789.2L39 799.0L40 808.1L41 818.3L42 828.8L43 840.2L44 851.5L45 862.2L46 871.2L47 881.1L48 889.8L49 898.2L50 906.7L51 915.3L52 924.6L53 932.6L54 940.2L55 948.7L56 955.7L57 962.6L58 969.0L59 977.0L60 984.3L61 990.7L62 996.9L63 1003.3L64 1010.9L65 1018.1L66 1025.2L67 1032.7L68 1040.5L69 1047.5L70 1053.0L71 1056.9L72 1061.1L73 1066.5L74 1070.8L75 1074.3L76 1076.9L77 1077.0M78 1076.7L79 1077.1M85 1067.2L86 1067.4L87 1068.9L88 1070.5L89 1072.4L90 1074.0L91 1074.8L92 1075.2L93 1075.4L94 1076.0L95 1077.2L96 1079.1L97 1080.6L98 1082.2L99 1084.6L100 1087.2L101 1089.3L102 1090.8L103 1093.1L104 1095.3L105 1097.4L106 1099.4L107 1101.6L108 1104.0L109 1105.4L110 1106.4L111 1107.3L112 1108.4L113 1109.9L114 1111.1L115 1112.4L116 1113.8L117 1114.1L118 1114.7L119 1115.5L120 1115.8M128 1111.1L129 1111.8L130 1113.8L131 1114.3M147 1090.8L148 1091.5L149 1092.1L150 1092.6" stroke="#dd2314" stroke-width="0.62"/><path vector-effect="non-scaling-stroke" d="M77 1077.0L78 1076.7M79 1077.1L80 1075.5L81 1073.3L82 1071.2L83 1069.4L84 1068.1L85 1067.2M120 1115.8L121 1115.7L122 1115.1L123 1114.6L124 1113.9L125 1113.0L126 1112.5L127 1112.2L128 1111.1M131 1114.3L132 1114.1L133 1113.7L134 1111.9L135 1110.1L136 1107.4L137 1104.7L138 1102.2L139 1100.5L140 1098.7L141 1096.7L142 1095.3L143 1094.4L144 1093.4L145 1092.6L146 1091.4L147 1090.8M150 1092.6L151 1091.6L152 1089.9" stroke="#1e974a" stroke-width="0.62"/><path vector-effect="non-scaling-stroke" d="M0 634.4L1 639.5L2 645.3L3 650.7L4 656.5L5 659.2L6 662.4L7 666.8L8 671.3L9 674.1L10 677.2L11 680.6L12 683.4L13 685.4L14 687.5L15 692.4L16 695.7L17 699.4L18 703.3L19 707.3L20 711.8L21 715.7L22 720.2L23 724.8L24 729.4L25 734.9L26 739.4L27 742.6L28 744.9L29 747.0L30 749.2L31 752.2L32 756.9L33 762.8L34 767.8L35 771.3L36 776.7L37 782.5L38 790.4L39 800.0L40 809.1L41 819.5L42 829.8L43 841.5L44 852.7L45 863.0L46 872.0L47 882.7L48 891.4L49 899.9L50 908.7L51 917.6L52 926.8L53 933.7L54 942.0L55 950.5L56 957.5L57 964.4L58 970.7L59 978.8L60 986.3L61 992.6L62 998.9L63 1005.2L64 1013.0L65 1020.6L66 1027.8L67 1035.4L68 1043.3L69 1050.0L70 1054.5L71 1058.3L72 1063.0L73 1068.8L74 1072.5L75 1076.0L76 1077.9M78 1076.9L79 1076.9M85 1066.5L86 1067.3L87 1069.1L88 1070.7L89 1072.8L90 1074.1L91 1074.6L92 1075.1L93 1075.2L94 1076.3L95 1077.5L96 1079.4L97 1080.4L98 1082.2L99 1085.0L100 1087.6L101 1089.6L102 1090.6L103 1093.3L104 1095.8L105 1097.8L106 1099.8L107 1102.0L108 1104.3L109 1105.8L110 1106.9L111 1107.8L112 1109.1L113 1110.6L114 1111.8L115 1113.2L116 1114.4M117 1114.3L118 1115.3L119 1116.0L120 1116.2M128 1111.1L129 1111.8L130 1113.9L131 1114.5M147 1090.5L148 1091.4L149 1092.0L150 1092.6" stroke="#de2414" stroke-width="2.1"/><path vector-effect="non-scaling-stroke" d="M76 1077.9L77 1077.0L78 1076.9M79 1076.9L80 1075.0L81 1072.4L82 1070.3L83 1068.4L84 1067.4L85 1066.5M116 1114.4L117 1114.3M120 1116.2L121 1115.9L122 1115.3L123 1114.7L124 1114.0L125 1112.9L126 1112.5L127 1112.2L128 1111.1M131 1114.5L132 1114.3L133 1114.0L134 1111.7L135 1109.8L136 1107.0L137 1104.2L138 1101.8L139 1100.1L140 1098.2L141 1095.9L142 1094.8L143 1094.0L144 1092.9L145 1092.1L146 1090.7L147 1090.5M150 1092.6L151 1091.5L152 1089.8" stroke="#1e974b" stroke-width="2.10"/><path vector-effect="non-scaling-stroke" d="M0 635.8L1 641.1L2 646.9L3 652.2L4 657.0L5 659.7L6 662.9L7 667.2L8 671.8L9 674.6L10 678.0L11 681.3L12 684.0L13 686.0L14 688.0L15 692.9L16 696.4L17 700.1L18 704.1L19 708.0L20 712.5L21 716.7L22 721.1L23 725.8L24 730.6L25 735.9L26 740.3L27 743.2L28 745.4L29 747.7L30 749.8L31 752.5L32 757.5L33 763.6L34 768.4L35 772.1L36 777.7L37 783.6L38 791.3L39 801.0L40 810.3L41 820.4L42 831.1L43 842.7L44 853.5L45 863.7L46 873.5L47 884.2L48 893.1L49 901.8L50 911.0L51 919.8L52 927.9L53 935.5L54 943.8L55 952.3L56 959.3L57 966.1L58 972.5L59 980.8L60 988.2L61 994.6L62 1000.8L63 1007.3L64 1015.5L65 1023.3L66 1030.6L67 1038.3L68 1045.9L69 1051.7L70 1056.0L71 1060.2L72 1065.3L73 1070.6L74 1074.3L75 1077.1L76 1078.0M85 1066.4L86 1067.4L87 1069.2L88 1071.0L89 1072.9L90 1074.0L91 1074.6L92 1074.9L93 1075.5L94 1076.6L95 1077.8L96 1079.1L97 1080.4L98 1082.6L99 1085.4L100 1087.8L101 1089.4L102 1090.9L103 1093.8L104 1096.2L105 1098.1L106 1100.2L107 1102.4L108 1104.8L109 1106.3L110 1107.3L111 1108.4L112 1109.8L113 1111.2L114 1112.6L115 1113.9L116 1114.6L117 1115.0L118 1115.9L119 1116.4M128 1111.1L129 1112.0L130 1114.1L131 1114.8M146 1090.3L147 1090.4L148 1091.3L149 1092.0L150 1092.5" stroke="#df2614" stroke-width="0.62"/><path vector-effect="non-scaling-stroke" d="M76 1078.0L77 1077.2L78 1076.7L79 1076.4L80 1074.1L81 1071.5L82 1069.2L83 1067.6L84 1066.6L85 1066.4M119 1116.4L120 1116.4L121 1116.1L122 1115.4L123 1114.8L124 1113.9L125 1112.9L126 1112.4L127 1112.2L128 1111.1M131 1114.8L132 1114.6L133 1113.9L134 1111.4L135 1109.3L136 1106.5L137 1103.7L138 1101.4L139 1099.6L140 1097.4L141 1095.4L142 1094.4L143 1093.5L144 1092.3L145 1091.3L146 1090.3M150 1092.5L151 1091.5L152 1089.8" stroke="#1f984b" stroke-width="0.62"/><path vector-effect="non-scaling-stroke" d="M0 637.2L1 642.7L2 648.6L3 653.7L4 657.5L5 660.2L6 663.4L7 667.7L8 672.3L9 675.2L10 678.7L11 682.1L12 684.6L13 686.5L14 688.5L15 693.5L16 697.1L17 700.9L18 704.8L19 708.8L20 713.1L21 717.6L22 722.1L23 726.7L24 731.8L25 737.0L26 741.1L27 743.8L28 746.0L29 748.4L30 750.5L31 752.8L32 758.2L33 764.4L34 769.0L35 773.0L36 778.6L37 784.7L38 792.3L39 801.9L40 811.5L41 821.4L42 832.3L43 843.8L44 854.2L45 864.4L46 875.0L47 885.7L48 894.8L49 903.8L50 913.2L51 922.0L52 929.0L53 937.4L54 945.7L55 954.2L56 961.2L57 967.7L58 974.4L59 982.7L60 990.1L61 996.6L62 1002.6L63 1009.4L64 1018.0L65 1025.9L66 1033.4L67 1041.2L68 1048.5L69 1053.3L70 1057.4L71 1062.1L72 1067.7L73 1072.4L74 1076.1L75 1078.1M84 1065.9L85 1066.3L86 1067.6L87 1069.4L88 1071.4L89 1073.1L90 1073.8L91 1074.5L92 1074.7L93 1075.8L94 1076.9L95 1078.1L96 1078.8L97 1080.4L98 1083.0L99 1085.8L100 1088.1L101 1089.2L102 1091.1L103 1094.3L104 1096.6L105 1098.4L106 1100.6L107 1102.7L108 1105.2L109 1106.8L110 1107.8L111 1109.1L112 1110.5L113 1111.9L114 1113.4L115 1114.6L116 1114.8L117 1115.6L118 1116.5L119 1116.8M128 1111.2L129 1112.1L130 1114.3L131 1115.0M146 1090.0L147 1090.3L148 1091.3L149 1092.0L150 1092.4" stroke="#e02715" stroke-width="0.62"/><path vector-effect="non-scaling-stroke" d="M75 1078.1L76 1078.1L77 1077.5L78 1076.5L79 1075.8L80 1073.2L81 1070.6L82 1068.1L83 1066.9L84 1065.9M119 1116.8L120 1116.6L121 1116.2L122 1115.5L123 1114.9L124 1113.8L125 1112.9L126 1112.3L127 1112.2L128 1111.2M131 1115.0L132 1114.8L133 1113.8L134 1111.1L135 1108.9L136 1106.0L137 1103.3L138 1100.9L139 1099.0L140 1096.7L141 1094.9L142 1094.0L143 1093.0L144 1091.7L145 1090.6L146 1090.0M150 1092.4L151 1091.4L152 1089.8" stroke="#1f984c" stroke-width="0.62"/><path vector-effect="non-scaling-stroke" d="M0 638.7L1 644.3L2 650.1L3 654.7L4 658.0L5 660.7L6 663.8L7 668.1L8 672.8L9 675.8L10 679.5L11 682.8L12 685.3L13 687.1L14 689.1L15 694.1L16 697.8L17 701.6L18 705.6L19 709.5L20 713.9L21 718.6L22 723.1L23 727.8L24 733.0L25 737.9L26 741.9L27 744.4L28 746.6L29 749.0L30 750.9L31 753.3L32 758.9L33 765.1L34 769.7L35 773.8L36 779.6L37 785.7L38 793.2L39 803.0L40 812.5L41 822.4L42 833.5L43 844.8L44 854.9L45 865.5L46 876.5L47 887.3L48 896.6L49 906.0L50 915.5L51 923.7L52 930.5L53 939.2L54 947.5L55 956.0L56 963.0L57 969.5L58 976.3L59 984.7L60 992.1L61 998.5L62 1004.7L63 1011.7L64 1020.7L65 1028.7L66 1036.2L67 1044.0L68 1050.6L69 1054.8L70 1059.1L71 1064.3L72 1069.8L73 1074.2L74 1077.5L75 1078.7M84 1065.4L85 1066.3L86 1067.7L87 1069.7L88 1071.6L89 1073.0L90 1073.7L91 1074.4L92 1074.8L93 1076.1L94 1077.2L95 1078.1L96 1078.7L97 1080.5L98 1083.3L99 1086.1L100 1088.1L101 1089.2L102 1091.5L103 1094.7L104 1096.9L105 1098.8L106 1101.0L107 1103.1L108 1105.7L109 1107.3L110 1108.4L111 1109.8L112 1111.2L113 1112.6L114 1114.1L115 1115.0L116 1115.3L117 1116.3L118 1117.0L119 1117.1M128 1111.3L129 1112.2L130 1114.5L131 1115.3M146 1089.8L147 1090.2L148 1091.2L149 1091.9L150 1092.4" stroke="#e02815" stroke-width="0.62"/><path vector-effect="non-scaling-stroke" d="M75 1078.7L76 1078.2L77 1077.5L78 1076.1L79 1075.1L80 1072.3L81 1069.5L82 1067.1L83 1066.1L84 1065.4M119 1117.1L120 1116.7L121 1116.4L122 1115.7L123 1115.0L124 1113.8L125 1112.8L126 1112.3L127 1112.2L128 1111.3M131 1115.3L132 1114.9L133 1113.6L134 1110.7L135 1108.4L136 1105.5L137 1102.8L138 1100.5L139 1098.4L140 1096.0L141 1094.5L142 1093.5L143 1092.4L144 1091.1L145 1090.1L146 1089.8M150 1092.4L151 1091.4L152 1089.7" stroke="#1f994c" stroke-width="0.62"/><path vector-effect="non-scaling-stroke" d="M0 640.3L1 646.0L2 651.6L3 655.2L4 658.5L5 661.2L6 664.2L7 668.6L8 673.3L9 676.6L10 680.3L11 683.4L12 685.9L13 687.7L14 689.6L15 694.9L16 698.6L17 702.4L18 706.3L19 710.1L20 714.9L21 719.6L22 724.0L23 729.1L24 734.0L25 738.8L26 742.5L27 744.9L28 747.4L29 749.7L30 751.2L31 753.9L32 759.6L33 765.6L34 770.5L35 774.7L36 780.7L37 786.6L38 794.1L39 804.1L40 813.4L41 823.6L42 834.6L43 845.4L44 855.5L45 867.0L46 878.0L47 889.0L48 898.6L49 908.2L50 917.7L51 924.8L52 932.3L53 941.1L54 949.4L55 957.9L56 964.7L57 971.4L58 978.3L59 986.6L60 994.1L61 1000.4L62 1006.8L63 1014.3L64 1023.4L65 1031.5L66 1039.2L67 1046.7L68 1052.2L69 1056.3L70 1061.1L71 1066.7L72 1071.7L73 1076.0L74 1078.5L75 1078.8M83 1065.3L84 1065.3L85 1066.5L86 1067.9L87 1070.1L88 1071.8L89 1072.9L90 1073.7L91 1074.1L92 1075.1L93 1076.4L94 1077.6L95 1077.8L96 1078.6L97 1080.9L98 1083.7L99 1086.3L100 1087.9L101 1089.4L102 1091.9L103 1095.1L104 1097.3L105 1099.3L106 1101.3L107 1103.5L108 1106.2L109 1107.8L110 1109.1L111 1110.6L112 1111.9L113 1113.5L114 1114.8L115 1115.2L116 1115.9L117 1116.9L118 1117.4M128 1111.4L129 1112.4L130 1114.8L131 1115.6M146 1089.7L147 1090.1L148 1091.2L149 1091.8L150 1092.4" stroke="#e12a15" stroke-width="0.62"/><path vector-effect="non-scaling-stroke" d="M75 1078.8L76 1078.4L77 1077.3L78 1075.5L79 1074.2L80 1071.3L81 1068.3L82 1066.3L83 1065.3M118 1117.4L119 1117.3L120 1116.9L121 1116.5L122 1115.8L123 1114.9L124 1113.8L125 1112.8L126 1112.3L127 1112.3L128 1111.4M131 1115.6L132 1114.8L133 1113.2L134 1110.2L135 1107.9L136 1105.0L137 1102.4L138 1099.9L139 1097.6L140 1095.5L141 1094.0L142 1092.9L143 1091.8L144 1090.3L145 1089.7L146 1089.7M150 1092.4L151 1091.4L152 1089.6" stroke="#1f994d" stroke-width="0.62"/><path vector-effect="non-scaling-stroke" d="M0 641.9L1 647.6L2 653.1L3 655.7L4 659.0L5 661.7L6 664.7L7 669.1L8 673.9L9 677.4L10 681.0L11 684.1L12 686.5L13 688.2L14 690.2L15 695.6L16 699.3L17 703.1L18 707.0L19 710.7L20 715.8L21 720.5L22 725.0L23 730.3L24 735.0L25 739.6L26 743.1L27 745.5L28 748.1L29 750.4L30 751.5L31 754.5L32 760.4L33 766.2L34 771.4L35 775.7L36 781.8L37 787.6L38 795.0L39 805.2L40 814.2L41 824.9L42 835.7L43 846.1L44 856.2L45 868.5L46 879.5L47 890.7L48 900.6L49 910.5L50 920.0L51 925.9L52 934.1L53 942.9L54 951.2L55 959.8L56 966.4L57 973.2L58 980.3L59 988.6L60 996.1L61 1002.3L62 1008.9L63 1016.8L64 1026.1L65 1034.4L66 1042.2L67 1049.3L68 1053.9L69 1057.7L70 1063.0L71 1069.1L72 1073.5L73 1077.8L74 1079.6M83 1064.5L84 1065.3L85 1066.6L86 1068.1L87 1070.4L88 1071.9L89 1072.7L90 1073.6L91 1073.9L92 1075.4L93 1076.7L94 1077.9M95 1077.4L96 1078.6L97 1081.2L98 1084.1L99 1086.6L100 1087.7L101 1089.7L102 1092.4L103 1095.5L104 1097.6L105 1099.7L106 1101.6L107 1103.9L108 1106.7L109 1108.2L110 1109.8L111 1111.3L112 1112.6L113 1114.3L114 1115.5M115 1115.4L116 1116.6L117 1117.5L118 1117.8M126 1112.3L127 1112.3M128 1111.5L129 1112.6L130 1115.1L131 1115.8M145 1089.4L146 1089.6L147 1090.0L148 1091.1L149 1091.7L150 1092.3" stroke="#e22b15" stroke-width="0.62"/><path vector-effect="non-scaling-stroke" d="M74 1079.6L75 1078.9L76 1078.7L77 1077.1L78 1075.0L79 1073.3L80 1070.4L81 1067.2L82 1065.6L83 1064.5M94 1077.9L95 1077.4M114 1115.5L115 1115.4M118 1117.8L119 1117.5L120 1117.1L121 1116.7L122 1115.9L123 1114.8L124 1113.8L125 1112.7L126 1112.3M127 1112.3L128 1111.5M131 1115.8L132 1114.7L133 1112.9L134 1109.8L135 1107.4L136 1104.5L137 1102.0L138 1099.4L139 1096.8L140 1095.0L141 1093.6L142 1092.4L143 1091.2L144 1089.6L145 1089.4M150 1092.3L151 1091.4L152 1089.6" stroke="#209a4d" stroke-width="0.62"/><path vector-effect="non-scaling-stroke" d="M0 643.6L1 649.2L2 653.6L3 656.2L4 659.5L5 662.1L6 665.1L7 669.6L8 674.7L9 678.1L10 681.7L11 684.7L12 687.0L13 688.7L14 690.9L15 696.3L16 700.0L17 703.8L18 707.7L19 711.7L20 716.8L21 721.5L22 726.2L23 731.4L24 735.9L25 740.2L26 743.7L27 746.3L28 748.7L29 750.7L30 752.2L31 755.3L32 760.9L33 767.0L34 772.3L35 776.7L36 782.7L37 788.4L38 796.1L39 806.0L40 815.4L41 825.9L42 836.3L43 846.7L44 857.6L45 869.9L46 881.1L47 892.7L48 902.9L49 912.8L50 921.1L51 927.7L52 936.0L53 944.8L54 953.1L55 961.5L56 968.2L57 975.3L58 982.2L59 990.6L60 998.1L61 1004.5L62 1011.6L63 1019.6L64 1029.0L65 1037.4L66 1044.9L67 1051.0L68 1055.4L69 1059.8L70 1065.5L71 1071.0L72 1075.4L73 1078.9L74 1079.7M83 1064.4L84 1065.4L85 1066.7L86 1068.4L87 1070.5L88 1071.7L89 1072.6L90 1073.4L91 1074.2L92 1075.7L93 1077.0L94 1077.5M95 1077.4L96 1079.0L97 1081.6L98 1084.3L99 1086.3L100 1087.9L101 1090.1L102 1092.8L103 1095.8L104 1098.0L105 1100.0L106 1102.1L107 1104.4L108 1107.2L109 1109.0L110 1110.5L111 1112.0L112 1113.4L113 1115.0L114 1115.7L115 1116.1L116 1117.3L117 1117.9L118 1118.0M126 1112.4L127 1112.5M128 1111.7L129 1112.9L130 1115.3L131 1115.7M144 1089.2L145 1089.3L146 1089.5L147 1090.0L148 1091.0L149 1091.7L150 1092.3" stroke="#e32c16" stroke-width="0.62"/><path vector-effect="non-scaling-stroke" d="M74 1079.7L75 1079.1L76 1078.5L77 1076.5L78 1074.1L79 1072.3L80 1069.2L81 1066.4L82 1064.7L83 1064.4M94 1077.5L95 1077.4M118 1118.0L119 1117.7L120 1117.2L121 1116.8L122 1115.8L123 1114.8L124 1113.8L125 1112.7L126 1112.4M127 1112.5L128 1111.7M131 1115.7L132 1114.4L133 1112.5L134 1109.3L135 1107.0L136 1104.1L137 1101.5L138 1098.6L139 1096.3L140 1094.6L141 1093.0L142 1091.8L143 1090.4L144 1089.2M150 1092.3L151 1091.3L152 1089.5" stroke="#209a4e" stroke-width="0.62"/><path vector-effect="non-scaling-stroke" d="M0 645.3L1 650.7L2 654.1L3 656.7L4 660.0L5 662.5L6 665.6L7 670.1L8 675.4L9 678.9L10 682.4L11 685.3L12 687.6L13 689.3L14 691.6L15 697.0L16 700.8L17 704.5L18 708.3L19 712.6L20 717.8L21 722.5L22 727.5L23 732.4L24 736.8L25 740.8L26 744.3L27 747.0L28 749.4L29 751.0L30 752.8L31 756.0L32 761.5L33 767.8L34 773.2L35 777.8L36 783.6L37 789.3L38 797.1L39 806.9L40 816.6L41 826.9L42 836.9L43 847.2L44 859.0L45 871.4L46 882.8L47 894.7L48 905.2L49 915.1L50 922.2L51 929.6L52 937.8L53 946.6L54 955.0L55 963.2L56 970.1L57 977.3L58 984.2L59 992.7L60 1000.0L61 1006.7L62 1014.2L63 1022.4L64 1031.9L65 1040.5L66 1047.7L67 1052.7L68 1056.9L69 1061.8L70 1068.0L71 1073.0L72 1077.3L73 1080.1M82 1063.9L83 1064.3L84 1065.5L85 1066.9L86 1068.8L87 1070.6L88 1071.5L89 1072.5L90 1073.1L91 1074.5L92 1076.0L93 1077.4M94 1077.2L95 1077.4L96 1079.3L97 1082.0L98 1084.6L99 1086.1L100 1088.1L101 1090.6L102 1093.2L103 1096.2L104 1098.5L105 1100.3L106 1102.5L107 1104.9L108 1107.7L109 1109.7L110 1111.3L111 1112.7L112 1114.3L113 1115.7L114 1116.0L115 1116.8L116 1117.9L117 1118.4M126 1112.5L127 1112.6M128 1111.9L129 1113.1L130 1115.6L131 1115.6M144 1088.9L145 1089.2L146 1089.4L147 1089.9L148 1090.9L149 1091.7L150 1092.3" stroke="#e32e16" stroke-width="0.62"/><path vector-effect="non-scaling-stroke" d="M73 1080.1L74 1079.9L75 1079.4L76 1078.3L77 1076.0L78 1073.1L79 1071.3L80 1068.0L81 1065.6L82 1063.9M93 1077.4L94 1077.2M117 1118.4L118 1118.3L119 1117.9L120 1117.4L121 1116.9L122 1115.7L123 1114.8L124 1113.7L125 1112.7L126 1112.5M127 1112.6L128 1111.9M131 1115.6L132 1114.1L133 1112.0L134 1108.8L135 1106.5L136 1103.7L137 1100.9L138 1097.8L139 1095.8L140 1094.1L141 1092.5L142 1091.2L143 1089.7L144 1088.9M150 1092.3L151 1091.3L152 1089.5" stroke="#209b4e" stroke-width="0.62"/><path vector-effect="non-scaling-stroke" d="M0 646.9L1 651.7L2 654.6L3 657.2L4 660.4L5 662.9L6 666.0L7 670.7L8 676.2L9 679.6L10 683.0L11 685.9L12 688.1L13 689.9L14 692.3L15 697.8L16 701.5L17 705.2L18 709.1L19 713.6L20 718.7L21 723.6L22 728.6L23 733.3L24 737.5L25 741.4L26 744.9L27 747.7L28 749.9L29 751.4L30 753.5L31 756.6L32 762.1L33 768.7L34 774.2L35 778.8L36 784.5L37 790.2L38 798.1L39 807.8L40 817.6L41 827.7L42 837.4L43 848.2L44 860.4L45 872.9L46 884.6L47 896.8L48 907.5L49 916.8L50 923.7L51 931.4L52 939.7L53 948.5L54 956.8L55 965.0L56 972.1L57 979.3L58 986.2L59 994.7L60 1002.1L61 1009.1L62 1016.9L63 1025.2L64 1035.0L65 1043.4L66 1049.9L67 1054.3L68 1058.7L69 1064.1L70 1070.3L71 1074.9L72 1078.8L73 1080.7M82 1063.4L83 1064.3L84 1065.6L85 1067.2L86 1069.0L87 1070.6L88 1071.4L89 1072.4L90 1073.1L91 1074.9L92 1076.3L93 1077.3M94 1077.0L95 1077.5L96 1079.7L97 1082.3L98 1084.5L99 1086.0L100 1088.5L101 1091.0L102 1093.5L103 1096.6L104 1098.8L105 1100.7L106 1103.0L107 1105.4L108 1108.3L109 1110.5L110 1112.1L111 1113.5L112 1115.1L113 1116.2L114 1116.4L115 1117.5L116 1118.5L117 1118.7M126 1112.6L127 1112.8M128 1112.1L129 1113.4L130 1115.7M144 1088.6L145 1089.1L146 1089.3L147 1089.8L148 1090.9L149 1091.6L150 1092.3" stroke="#e42f16" stroke-width="0.62"/><path vector-effect="non-scaling-stroke" d="M73 1080.7L74 1080.1L75 1079.4L76 1077.9L77 1075.2L78 1072.1L79 1070.2L80 1067.0L81 1064.7L82 1063.4M93 1077.3L94 1077.0M117 1118.7L118 1118.5L119 1118.1L120 1117.5L121 1116.9L122 1115.7L123 1114.8L124 1113.7L125 1112.8L126 1112.6M127 1112.8L128 1112.1M130 1115.7L131 1115.4L132 1113.7L133 1111.6L134 1108.3L135 1106.1L136 1103.3L137 1100.3L138 1097.1L139 1095.3L140 1093.6L141 1091.9L142 1090.5L143 1089.1L144 1088.6M150 1092.3L151 1091.2L152 1089.5" stroke="#219c4f" stroke-width="0.62"/><path vector-effect="non-scaling-stroke" d="M0 648.4L1 652.2L2 655.1L3 657.6L4 660.8L5 663.3L6 666.5L7 671.5L8 677.0L9 680.3L10 683.6L11 686.5L12 688.7L13 690.6L14 693.0L15 698.5L16 702.2L17 705.8L18 710.0L19 714.6L20 719.7L21 724.8L22 729.7L23 734.2L24 738.1L25 742.0L26 745.7L27 748.4L28 750.2L29 752.1L30 754.2L31 757.1L32 762.9L33 769.6L34 775.3L35 779.7L36 785.3L37 791.3L38 798.8L39 808.9L40 818.6L41 828.2L42 837.9L43 849.5L44 861.8L45 874.5L46 886.6L47 899.1L48 909.8L49 917.9L50 925.5L51 933.3L52 941.5L53 950.4L54 958.5L55 967.0L56 974.2L57 981.3L58 988.3L59 996.7L60 1004.4L61 1011.8L62 1019.8L63 1028.2L64 1038.1L65 1046.2L66 1051.6L67 1055.9L68 1060.8L69 1066.6L70 1072.2L71 1076.8L72 1079.9L73 1080.8M82 1063.3L83 1064.4L84 1065.8L85 1067.5L86 1069.1L87 1070.4L88 1071.3L89 1072.1L90 1073.5L91 1075.2L92 1076.7L93 1077.0M94 1076.9L95 1077.9L96 1080.0L97 1082.5L98 1084.3L99 1086.3L100 1088.9L101 1091.4L102 1093.8L103 1097.0L104 1099.2L105 1101.1L106 1103.5L107 1105.9L108 1109.0L109 1111.3L110 1112.8L111 1114.4L112 1115.9L113 1116.4L114 1117.2L115 1118.2L116 1118.9L117 1118.9M126 1112.7L127 1113.0M128 1112.4L129 1113.6L130 1115.6M144 1088.5L145 1088.9L146 1089.2L147 1089.7L148 1090.8L149 1091.6L150 1092.2" stroke="#e53016" stroke-width="0.62"/><path vector-effect="non-scaling-stroke" d="M73 1080.8L74 1080.3L75 1079.2L76 1077.4L77 1074.2L78 1071.1L79 1069.0L80 1066.1L81 1063.9L82 1063.3M93 1077.0L94 1076.9M117 1118.9L118 1118.7L119 1118.2L120 1117.7L121 1116.9L122 1115.8L123 1114.8L124 1113.7L125 1112.9L126 1112.7M127 1113.0L128 1112.4M130 1115.6L131 1115.1L132 1113.2L133 1111.1L134 1107.8L135 1105.7L136 1102.7L137 1099.5L138 1096.6L139 1094.8L140 1093.0L141 1091.2L142 1089.6L143 1088.7L144 1088.5M150 1092.2L151 1091.2L152 1089.4" stroke="#219c50" stroke-width="0.62"/><path vector-effect="non-scaling-stroke" d="M0 650.0L1 652.7L2 655.6L3 658.1L4 661.2L5 663.8L6 667.0L7 672.3L8 677.8L9 680.9L10 684.2L11 687.0L12 689.3L13 691.4L14 693.7L15 699.3L16 702.9L17 706.5L18 711.0L19 715.5L20 720.6L21 726.1L22 730.7L23 735.1L24 738.7L25 742.6L26 746.4L27 749.0L28 750.5L29 752.7L30 755.0L31 757.6L32 763.7L33 770.5L34 776.4L35 780.6L36 786.2L37 792.3L38 799.6L39 810.0L40 819.6L41 828.7L42 838.4L43 850.9L44 863.2L45 876.2L46 888.6L47 901.4L48 912.1L49 918.9L50 927.4L51 935.2L52 943.4L53 952.3L54 960.2L55 968.9L56 976.2L57 983.3L58 990.3L59 998.7L60 1006.6L61 1014.5L62 1022.6L63 1031.2L64 1041.3L65 1049.0L66 1053.4L67 1057.4L68 1062.9L69 1069.2L70 1074.2L71 1078.8L72 1081.1M81 1063.0L82 1063.2L83 1064.5L84 1065.9L85 1067.9L86 1069.2L87 1070.2L88 1071.2L89 1071.8L90 1073.8L91 1075.5L92 1077.0M93 1076.6L94 1076.9L95 1078.2L96 1080.4L97 1082.7L98 1084.0L99 1086.5L100 1089.4L101 1091.7L102 1094.2L103 1097.4L104 1099.5L105 1101.6L106 1104.0L107 1106.4L108 1109.7L109 1112.1L110 1113.5L111 1115.3L112 1116.6L113 1116.7L114 1117.9L115 1118.9L116 1119.4M126 1112.9L127 1113.2M128 1112.6L129 1113.8L130 1115.5M143 1088.4L144 1088.4L145 1088.8L146 1089.2L147 1089.6L148 1090.8L149 1091.6L150 1092.2" stroke="#e63217" stroke-width="2.1"/><path vector-effect="non-scaling-stroke" d="M72 1081.1L73 1081.0L74 1080.6L75 1079.0L76 1076.8L77 1073.3L78 1070.1L79 1067.8L80 1065.3L81 1063.0M92 1077.0L93 1076.6M116 1119.4L117 1119.1L118 1118.9L119 1118.4L120 1117.8L121 1116.8L122 1115.8L123 1114.7L124 1113.7L125 1112.9L126 1112.9M127 1113.2L128 1112.6M130 1115.5L131 1114.8L132 1112.8L133 1110.6L134 1107.4L135 1105.3L136 1102.2L137 1098.6L138 1096.1L139 1094.3L140 1092.5L141 1090.6L142 1088.8L143 1088.4M150 1092.2L151 1091.2L152 1089.4" stroke="#219d50" stroke-width="2.10"/><path vector-effect="non-scaling-stroke" d="M0 650.5L1 653.2L2 656.1L3 658.5L4 661.6L5 664.3L6 667.8L7 673.0L8 678.4L9 681.5L10 684.8L11 687.6L12 690.0L13 692.1L14 694.4L15 700.0L16 703.6L17 707.4L18 712.0L19 716.5L20 721.9L21 727.1L22 731.6L23 735.7L24 739.2L25 743.3L26 747.1L27 749.4L28 751.2L29 753.5L30 755.5L31 758.4L32 764.6L33 771.6L34 777.3L35 781.5L36 787.2L37 793.0L38 800.6L39 811.0L40 820.0L41 829.1L42 839.7L43 852.2L44 864.7L45 878.1L46 890.8L47 903.7L48 913.2L49 920.8L50 929.2L51 937.0L52 945.3L53 954.0L54 962.2L55 971.0L56 978.3L57 985.4L58 992.3L59 1000.9L60 1009.3L61 1017.4L62 1025.6L63 1034.4L64 1044.1L65 1050.8L66 1055.0L67 1059.6L68 1065.5L69 1071.2L70 1076.2L71 1079.9L72 1081.3M81 1062.9L82 1063.3L83 1064.6L84 1066.3L85 1068.0L86 1069.0L87 1070.1L88 1070.9L89 1072.2L90 1074.1L91 1075.8L92 1076.6M93 1076.6L94 1077.2L95 1078.5L96 1080.6L97 1082.4L98 1084.2L99 1086.9L100 1089.7L101 1092.1L102 1094.6L103 1097.7L104 1099.9L105 1102.1L106 1104.4L107 1107.1L108 1110.6L109 1112.8L110 1114.4L111 1116.1L112 1116.8L113 1117.4L114 1118.6L115 1119.3L116 1119.6M126 1113.1L127 1113.5M128 1112.9L129 1113.7L130 1115.2M143 1088.2L144 1088.2L145 1088.8L146 1089.0L147 1089.5L148 1090.7L149 1091.6L150 1092.2" stroke="#e63317" stroke-width="0.95"/><path vector-effect="non-scaling-stroke" d="M72 1081.3L73 1081.2L74 1080.4L75 1078.5L76 1075.8L77 1072.2L78 1068.8L79 1066.9L80 1064.4L81 1062.9M92 1076.6L93 1076.6M116 1119.6L117 1119.4L118 1119.1L119 1118.6L120 1117.8L121 1116.9L122 1115.8L123 1114.8L124 1113.8L125 1113.1L126 1113.1M127 1113.5L128 1112.9M130 1115.2L131 1114.3L132 1112.3L133 1110.1L134 1107.0L135 1104.7L136 1101.4L137 1098.1L138 1095.6L139 1093.8L140 1091.8L141 1089.8L142 1088.5L143 1088.2M150 1092.2L151 1091.2L152 1089.4" stroke="#219d51" stroke-width="0.95"/><path vector-effect="non-scaling-stroke" d="M0 651.0L1 653.7L2 656.5L3 658.8L4 662.1L5 664.8L6 668.5L7 673.8L8 679.1L9 682.2L10 685.3L11 688.2L12 690.7L13 692.8L14 695.1L15 700.7L16 704.2L17 708.4L18 712.9L19 717.4L20 723.2L21 728.2L22 732.4L23 736.2L24 739.8L25 744.1L26 747.8L27 749.7L28 751.8L29 754.3L30 756.0L31 759.2L32 765.5L33 772.7L34 778.2L35 782.3L36 788.3L37 793.8L38 801.7L39 811.9L40 820.4L41 829.5L42 841.0L43 853.5L44 866.3L45 880.0L46 893.1L47 906.1L48 914.2L49 922.7L50 931.1L51 938.9L52 947.2L53 955.7L54 964.1L55 973.1L56 980.3L57 987.5L58 994.3L59 1003.2L60 1012.1L61 1020.3L62 1028.7L63 1037.6L64 1047.0L65 1052.6L66 1056.6L67 1061.7L68 1068.1L69 1073.3L70 1078.2L71 1081.1L72 1081.4L73 1081.5M81 1062.8L82 1063.4L83 1064.8L84 1066.6L85 1068.0L86 1068.7L87 1069.9L88 1070.6L89 1072.5L90 1074.4L91 1076.1L92 1076.2L93 1076.5L94 1077.6L95 1078.9L96 1080.8L97 1082.1L98 1084.3L99 1087.4L100 1090.1L101 1092.4L102 1095.0L103 1098.0L104 1100.3L105 1102.6L106 1104.9L107 1107.9L108 1111.4L109 1113.6L110 1115.4L111 1116.9L112 1117.1L113 1118.2L114 1119.3L115 1119.8L116 1119.9M125 1113.3L126 1113.3L127 1113.8M128 1113.1L129 1113.6L130 1114.8M142 1088.1L143 1088.1L144 1088.1L145 1088.7L146 1088.9L147 1089.5L148 1090.7L149 1091.5L150 1092.2" stroke="#e73517" stroke-width="0.95"/><path vector-effect="non-scaling-stroke" d="M73 1081.5L74 1080.2L75 1077.9L76 1074.9L77 1071.2L78 1067.6L79 1066.1L80 1063.6L81 1062.8M116 1119.9L117 1119.6L118 1119.2L119 1118.7L120 1117.7L121 1116.9L122 1115.7L123 1114.8L124 1113.9L125 1113.3M127 1113.8L128 1113.1M130 1114.8L131 1113.9L132 1111.8L133 1109.7L134 1106.6L135 1104.2L136 1100.6L137 1097.6L138 1095.1L139 1093.2L140 1091.1L141 1088.9L142 1088.1M150 1092.2L151 1091.2L152 1089.5" stroke="#229e51" stroke-width="0.95"/><path vector-effect="non-scaling-stroke" d="M0 651.4L1 654.1L2 656.9L3 659.2L4 662.5L5 665.4L6 669.2L7 674.5L8 679.7L9 682.7L10 685.9L11 688.8L12 691.5L13 693.5L14 695.8L15 701.4L16 705.0L17 709.4L18 713.9L19 718.6L20 724.4L21 729.1L22 733.1L23 736.8L24 740.5L25 744.8L26 748.3L27 750.2L28 752.5L29 754.9L30 756.6L31 760.0L32 766.5L33 773.7L34 779.1L35 783.2L36 789.1L37 794.6L38 802.6L39 812.5L40 820.8L41 830.3L42 842.3L43 854.9L44 868.0L45 882.1L46 895.4L47 907.7L48 915.7L49 924.5L50 933.0L51 940.8L52 949.0L53 957.6L54 966.1L55 975.1L56 982.4L57 989.6L58 996.5L59 1005.8L60 1015.0L61 1023.4L62 1031.9L63 1040.7L64 1049.4L65 1054.3L66 1058.5L67 1064.1L68 1070.5L69 1075.3L70 1079.8L71 1081.8M81 1062.7L82 1063.5L83 1065.0L84 1066.8L85 1068.0L86 1068.5L87 1069.7L88 1070.6L89 1072.8L90 1074.7L91 1076.1M92 1076.0L93 1076.7L94 1077.9L95 1079.2L96 1080.7L97 1082.0L98 1084.7L99 1087.8L100 1090.4L101 1092.7L102 1095.3L103 1098.4L104 1100.8L105 1103.1L106 1105.6L107 1108.7L108 1112.2L109 1114.4L110 1116.2L111 1117.4L112 1117.6L113 1119.0L114 1119.9L115 1120.2M125 1113.5L126 1113.5L127 1114.0M128 1113.2L129 1113.4L130 1114.4M142 1087.8L143 1087.9L144 1088.0L145 1088.6L146 1088.8L147 1089.4L148 1090.7L149 1091.5L150 1092.2" stroke="#e83617" stroke-width="0.95"/><path vector-effect="non-scaling-stroke" d="M71 1081.8L72 1081.6L73 1081.6L74 1079.9L75 1077.1L76 1073.8L77 1070.0L78 1066.5L79 1065.2L80 1063.1L81 1062.7M91 1076.1L92 1076.0M115 1120.2L116 1120.1L117 1119.8L118 1119.4L119 1118.8L120 1117.7L121 1116.9L122 1115.7L123 1114.9L124 1114.1L125 1113.5M127 1114.0L128 1113.2M130 1114.4L131 1113.4L132 1111.3L133 1109.3L134 1106.1L135 1103.6L136 1099.9L137 1097.1L138 1094.6L139 1092.6L140 1090.4L141 1088.3L142 1087.8M150 1092.2L151 1091.2L152 1089.5" stroke="#229e52" stroke-width="0.95"/><path vector-effect="non-scaling-stroke" d="M0 652.0L1 654.6L2 657.3L3 659.7L4 663.0L5 666.1L6 670.0L7 675.1L8 680.3L9 683.3L10 686.5L11 689.6L12 692.2L13 694.3L14 696.5L15 702.0L16 705.9L17 710.3L18 714.9L19 719.8L20 725.4L21 730.0L22 733.7L23 737.4L24 741.2L25 745.5L26 748.6L27 750.8L28 753.3L29 755.4L30 757.4L31 760.8L32 767.5L33 774.6L34 779.9L35 784.2L36 789.8L37 795.6L38 803.5L39 812.9L40 821.1L41 831.5L42 843.5L43 856.5L44 869.9L45 884.4L46 897.7L47 908.8L48 917.6L49 926.4L50 934.9L51 942.7L52 950.8L53 959.5L54 968.2L55 977.2L56 984.5L57 991.6L58 998.8L59 1008.6L60 1018.0L61 1026.5L62 1035.2L63 1043.6L64 1051.2L65 1056.0L66 1060.7L67 1066.9L68 1072.6L69 1077.4L70 1081.1L71 1082.0M81 1062.8L82 1063.6L83 1065.4L84 1066.9L85 1067.7L86 1068.4L87 1069.4L88 1070.9L89 1073.1L90 1075.0L91 1075.7L92 1075.9L93 1077.0L94 1078.3L95 1079.4L96 1080.4L97 1082.2L98 1085.1L99 1088.1L100 1090.7L101 1093.1L102 1095.6L103 1098.8L104 1101.3L105 1103.5L106 1106.3L107 1109.5L108 1113.0L109 1115.4L110 1117.0L111 1117.6L112 1118.4L113 1119.7L114 1120.4L115 1120.4M125 1113.7L126 1113.8L127 1114.3M129 1113.0L130 1114.0M142 1087.7L143 1087.8L144 1087.9L145 1088.5L146 1088.8L147 1089.4L148 1090.6L149 1091.5L150 1092.2" stroke="#e93718" stroke-width="0.95"/><path vector-effect="non-scaling-stroke" d="M71 1082.0L72 1081.9L73 1081.4L74 1079.3L75 1076.1L76 1072.8L77 1068.7L78 1065.6L79 1064.3L80 1062.9L81 1062.8M115 1120.4L116 1120.3L117 1120.0L118 1119.6L119 1118.7L120 1117.8L121 1116.9L122 1115.8L123 1115.0L124 1114.2L125 1113.7M127 1114.3L128 1113.0L129 1113.0M130 1114.0L131 1112.9L132 1110.9L133 1108.9L134 1105.6L135 1102.7L136 1099.4L137 1096.6L138 1094.0L139 1091.9L140 1089.5L141 1087.9L142 1087.7M150 1092.2L151 1091.2L152 1089.5" stroke="#229f52" stroke-width="0.95"/><path vector-effect="non-scaling-stroke" d="M0 652.5L1 655.0L2 657.7L3 660.1L4 663.5L5 666.8L6 670.7L7 675.7L8 680.9L9 683.8L10 687.0L11 690.3L12 692.9L13 695.0L14 697.2L15 702.6L16 706.9L17 711.3L18 715.8L19 721.1L20 726.5L21 730.9L22 734.3L23 737.9L24 741.9L25 746.2L26 748.9L27 751.5L28 754.1L29 755.9L30 758.2L31 761.7L32 768.6L33 775.5L34 780.8L35 785.2L36 790.5L37 796.7L38 804.3L39 813.2L40 821.4L41 832.8L42 844.7L43 858.0L44 871.8L45 886.7L46 900.0L47 909.8L48 919.4L49 928.3L50 936.8L51 944.7L52 952.5L53 961.5L54 970.3L55 979.3L56 986.7L57 993.7L58 1001.1L59 1011.4L60 1021.0L61 1029.6L62 1038.5L63 1046.6L64 1053.1L65 1057.6L66 1062.9L67 1069.6L68 1074.7L69 1079.4L70 1082.3M71 1082.2L72 1082.2M80 1062.8L81 1062.9L82 1063.8L83 1065.7L84 1067.0L85 1067.5L86 1068.3L87 1069.1L88 1071.2L89 1073.4L90 1075.3M91 1075.3L92 1075.9L93 1077.4L94 1078.7L95 1079.6L96 1080.0L97 1082.3L98 1085.6L99 1088.5L100 1091.0L101 1093.5L102 1095.9L103 1099.2L104 1101.8L105 1104.0L106 1107.1L107 1110.3L108 1113.7L109 1116.3L110 1117.8L111 1117.9L112 1119.2L113 1120.4L114 1120.9M125 1113.9L126 1114.1L127 1114.6M129 1112.7L130 1113.5M141 1087.5L142 1087.5L143 1087.7L144 1087.8L145 1088.3L146 1088.7L147 1089.3L148 1090.5L149 1091.4L150 1092.2" stroke="#e93918" stroke-width="0.95"/><path vector-effect="non-scaling-stroke" d="M70 1082.3L71 1082.2M72 1082.2L73 1081.2L74 1078.7L75 1075.1L76 1071.7L77 1067.4L78 1064.7L79 1063.4L80 1062.8M90 1075.3L91 1075.3M114 1120.9L115 1120.7L116 1120.6L117 1120.2L118 1119.8L119 1118.7L120 1117.8L121 1116.9L122 1115.8L123 1115.1L124 1114.4L125 1113.9M127 1114.6L128 1112.9L129 1112.7M130 1113.5L131 1112.4L132 1110.4L133 1108.5L134 1105.1L135 1101.9L136 1098.8L137 1096.1L138 1093.4L139 1091.2L140 1088.7L141 1087.5M150 1092.2L151 1091.3L152 1089.6" stroke="#229f53" stroke-width="0.95"/><path vector-effect="non-scaling-stroke" d="M0 652.9L1 655.4L2 658.1L3 660.6L4 664.2L5 667.6L6 671.3L7 676.3L8 681.5L9 684.4L10 687.8L11 691.1L12 693.7L13 695.7L14 697.8L15 703.6L16 707.9L17 712.3L18 717.1L19 722.2L20 727.3L21 731.4L22 734.8L23 738.7L24 742.6L25 746.5L26 749.5L27 752.3L28 754.6L29 756.7L30 759.0L31 762.7L32 769.4L33 776.3L34 781.8L35 785.9L36 791.5L37 797.5L38 804.6L39 813.4L40 822.6L41 833.9L42 846.2L43 859.8L44 874.0L45 888.9L46 901.0L47 911.7L48 921.4L49 930.2L50 938.7L51 946.4L52 954.4L53 963.6L54 972.4L55 981.5L56 988.8L57 996.0L58 1004.0L59 1014.4L60 1024.2L61 1033.0L62 1041.5L63 1048.4L64 1054.8L65 1059.9L66 1065.7L67 1071.7L68 1076.9L69 1080.7L70 1082.5M80 1062.9L81 1063.0L82 1064.1L83 1065.8L84 1066.7L85 1067.3L86 1067.9L87 1069.4L88 1071.5L89 1073.7L90 1074.9L91 1075.2L92 1076.2L93 1077.7L94 1078.9L95 1079.2L96 1080.2L97 1082.8L98 1085.9L99 1088.8L100 1091.4L101 1093.8L102 1096.3L103 1099.8L104 1102.3L105 1104.8L106 1107.9L107 1111.1L108 1114.7L109 1117.2L110 1118.1L111 1118.7L112 1120.0L113 1121.0L114 1121.2M125 1114.2L126 1114.4L127 1114.4M129 1112.2L130 1113.0M141 1087.3L142 1087.4L143 1087.6L144 1087.7L145 1088.2L146 1088.6L147 1089.2L148 1090.5L149 1091.4L150 1092.3" stroke="#ea3a18" stroke-width="0.95"/><path vector-effect="non-scaling-stroke" d="M70 1082.5L71 1082.5L72 1082.0L73 1080.7L74 1077.7L75 1074.0L76 1070.4L77 1066.5L78 1063.8L79 1063.3L80 1062.9M114 1121.2L115 1121.0L116 1120.8L117 1120.4L118 1119.7L119 1118.8L120 1117.8L121 1117.0L122 1116.0L123 1115.3L124 1114.7L125 1114.2M127 1114.4L128 1112.5L129 1112.2M130 1113.0L131 1112.0L132 1110.0L133 1108.0L134 1104.2L135 1101.4L136 1098.4L137 1095.6L138 1092.7L139 1090.3L140 1088.3L141 1087.3M150 1092.3L151 1091.4L152 1089.6" stroke="#23a053" stroke-width="0.95"/><path vector-effect="non-scaling-stroke" d="M0 653.3L1 655.8L2 658.5L3 661.0L4 665.0L5 668.3L6 671.9L7 676.9L8 682.0L9 685.0L10 688.5L11 691.8L12 694.5L13 696.4L14 698.4L15 704.5L16 708.9L17 713.2L18 718.4L19 723.2L20 728.2L21 732.0L22 735.4L23 739.4L24 743.3L25 746.7L26 750.2L27 753.1L28 755.2L29 757.5L30 759.9L31 763.8L32 770.3L33 777.1L34 782.8L35 786.6L36 792.5L37 798.3L38 804.9L39 813.7L40 823.7L41 835.1L42 847.6L43 861.6L44 876.3L45 891.2L46 902.0L47 913.5L48 923.3L49 932.1L50 940.7L51 948.1L52 956.4L53 965.7L54 974.5L55 983.7L56 990.9L57 998.4L58 1006.8L59 1017.5L60 1027.4L61 1036.4L62 1044.5L63 1050.3L64 1056.5L65 1062.2L66 1068.5L67 1073.9L68 1079.0L69 1082.0L70 1082.7L71 1082.8M78 1062.8L79 1063.1M80 1063.0L81 1063.2L82 1064.4L83 1065.8L84 1066.4L85 1067.1L86 1067.6L87 1069.7L88 1071.8L89 1074.0L90 1074.5L91 1075.1L92 1076.6L93 1078.1L94 1079.1M95 1078.8L96 1080.3L97 1083.2L98 1086.2L99 1089.1L100 1091.8L101 1094.1L102 1096.7L103 1100.3L104 1102.8L105 1105.5L106 1108.7L107 1111.9L108 1115.7L109 1118.0L110 1118.4L111 1119.6L112 1120.7L113 1121.5M125 1114.5L126 1114.7M129 1111.6L130 1112.5M141 1087.2L142 1087.2L143 1087.5L144 1087.5L145 1088.1L146 1088.6L147 1089.1L148 1090.5L149 1091.4L150 1092.3" stroke="#ea3b18" stroke-width="0.95"/><path vector-effect="non-scaling-stroke" d="M71 1082.8L72 1081.9L73 1080.1L74 1076.7L75 1073.0L76 1069.0L77 1065.6L78 1062.8M79 1063.1L80 1063.0M94 1079.1L95 1078.8M113 1121.5L114 1121.5L115 1121.2L116 1121.0L117 1120.6L118 1119.7L119 1118.8L120 1117.8L121 1117.0L122 1116.1L123 1115.5L124 1114.9L125 1114.5M126 1114.7L127 1114.3L128 1112.1L129 1111.6M130 1112.5L131 1111.5L132 1109.7L133 1107.5L134 1103.4L135 1100.9L136 1097.9L137 1095.0L138 1092.1L139 1089.5L140 1087.9L141 1087.2M150 1092.3L151 1091.4L152 1089.6" stroke="#23a054" stroke-width="0.95"/><path vector-effect="non-scaling-stroke" d="M0 653.7L1 656.2L2 659.0L3 661.6L4 665.7L5 669.0L6 672.5L7 677.4L8 682.6L9 685.6L10 689.3L11 692.6L12 695.2L13 697.1L14 699.1L15 705.5L16 709.8L17 714.4L18 719.6L19 724.2L20 728.9L21 732.6L22 736.0L23 740.1L24 743.7L25 747.2L26 751.0L27 753.8L28 755.8L29 758.4L30 760.9L31 764.7L32 771.1L33 778.0L34 783.7L35 787.4L36 793.4L37 798.8L38 805.1L39 814.3L40 824.8L41 836.4L42 849.2L43 863.6L44 878.5L45 892.8L46 903.4L47 915.4L48 925.2L49 934.1L50 942.6L51 950.0L52 958.5L53 967.9L54 976.7L55 985.8L56 993.1L57 1001.0L58 1009.8L59 1020.7L60 1030.8L61 1039.7L62 1047.0L63 1052.1L64 1058.5L65 1064.8L66 1071.0L67 1076.1L68 1080.7L69 1082.7L70 1082.9M78 1062.3L79 1063.1M80 1063.1L81 1063.4L82 1064.6L83 1065.7L84 1066.2L85 1066.9L86 1067.5L87 1070.0L88 1072.1L89 1073.9L90 1074.2L91 1075.3L92 1077.0L93 1078.4L94 1079.0M95 1078.7L96 1080.6L97 1083.6L98 1086.5L99 1089.4L100 1092.2L101 1094.4L102 1097.2L103 1100.8L104 1103.4L105 1106.4L106 1109.5L107 1112.8L108 1116.6L109 1118.6L110 1119.0L111 1120.4L112 1121.4L113 1121.9M129 1111.1L130 1112.0M141 1087.0L142 1087.1L143 1087.4L144 1087.4L145 1088.1L146 1088.5L147 1089.1L148 1090.5L149 1091.5L150 1092.4" stroke="#ea3c19" stroke-width="0.95"/><path vector-effect="non-scaling-stroke" d="M70 1082.9L71 1082.8L72 1081.5L73 1079.3L74 1075.6L75 1071.7L76 1067.9L77 1064.7L78 1062.3M79 1063.1L80 1063.1M94 1079.0L95 1078.7M113 1121.9L114 1121.7L115 1121.5L116 1121.2L117 1120.7L118 1119.7L119 1118.9L120 1117.9L121 1117.1L122 1116.3L123 1115.7L124 1115.2L125 1114.8L126 1114.7L127 1114.1L128 1111.7L129 1111.1M130 1112.0L131 1111.1L132 1109.2L133 1106.8L134 1102.7L135 1100.4L136 1097.4L137 1094.3L138 1091.3L139 1088.8L140 1087.6L141 1087.0M150 1092.4L151 1091.5L152 1089.7" stroke="#23a155" stroke-width="0.95"/><path vector-effect="non-scaling-stroke" d="M0 654.1L1 656.6L2 659.5L3 662.4L4 666.5L5 669.6L6 673.1L7 678.0L8 683.1L9 686.4L10 690.0L11 693.4L12 695.9L13 697.7L14 700.1L15 706.5L16 710.8L17 715.7L18 720.6L19 725.0L20 729.5L21 733.1L22 736.7L23 740.7L24 744.0L25 747.9L26 751.8L27 754.3L28 756.6L29 759.3L30 761.9L31 765.6L32 771.9L33 779.0L34 784.3L35 788.4L36 794.2L37 799.0L38 805.2L39 815.4L40 825.9L41 837.7L42 851.0L43 865.8L44 880.7L45 893.7L46 905.2L47 917.3L48 927.1L49 936.0L50 944.3L51 952.0L52 960.6L53 970.0L54 978.9L55 988.0L56 995.5L57 1004.0L58 1012.9L59 1024.0L60 1034.3L61 1042.8L62 1048.9L63 1053.8L64 1060.8L65 1067.7L66 1073.3L67 1078.3L68 1082.0L69 1082.9L70 1083.2M78 1062.1L79 1063.2M80 1063.2L81 1063.8L82 1064.7L83 1065.4L84 1066.0L85 1066.5L86 1067.8L87 1070.3L88 1072.4L89 1073.5L90 1074.2L91 1075.6L92 1077.3L93 1078.6M94 1078.6L95 1078.8L96 1081.0L97 1083.9L98 1086.8L99 1089.8L100 1092.4L101 1094.8L102 1097.7L103 1101.2L104 1104.2L105 1107.2L106 1110.3L107 1113.8L108 1117.5L109 1118.9L110 1119.8L111 1121.2L112 1122.0L113 1122.2M129 1110.6L130 1111.5M141 1086.9L142 1087.0L143 1087.2L144 1087.3L145 1088.0L146 1088.4L147 1089.0L148 1090.4L149 1091.5L150 1092.5" stroke="#ea3d19" stroke-width="0.95"/><path vector-effect="non-scaling-stroke" d="M70 1083.2L71 1082.7L72 1080.9L73 1078.3L74 1074.5L75 1070.4L76 1067.0L77 1063.7L78 1062.1M79 1063.2L80 1063.2M93 1078.6L94 1078.6M113 1122.2L114 1122.0L115 1121.7L116 1121.4L117 1120.6L118 1119.8L119 1118.9L120 1117.9L121 1117.3L122 1116.5L123 1116.0L124 1115.5L125 1115.1L126 1114.6L127 1113.7L128 1111.1L129 1110.6M130 1111.5L131 1110.7L132 1108.7L133 1106.0L134 1102.2L135 1099.9L136 1096.8L137 1093.6L138 1090.4L139 1088.4L140 1087.4L141 1086.9M150 1092.5L151 1091.5L152 1089.9" stroke="#24a155" stroke-width="0.95"/><path vector-effect="non-scaling-stroke" d="M0 654.4L1 657.0L2 659.9L3 663.1L4 667.2L5 670.2L6 673.6L7 678.5L8 683.7L9 687.1L10 690.8L11 694.1L12 696.7L13 698.2L14 701.1L15 707.5L16 711.8L17 717.0L18 721.7L19 725.9L20 730.0L21 733.7L22 737.5L23 741.4L24 744.3L25 748.5L26 752.6L27 754.8L28 757.5L29 760.2L30 763.0L31 766.4L32 772.7L33 780.0L34 785.0L35 789.4L36 795.0L37 799.2L38 805.3L39 816.5L40 827.0L41 839.1L42 852.7L43 868.0L44 882.9L45 894.6L46 907.0L47 919.2L48 929.0L49 938.0L50 946.1L51 953.9L52 962.8L53 972.1L54 981.1L55 990.1L56 997.9L57 1006.9L58 1016.1L59 1027.3L60 1037.8L61 1045.9L62 1050.8L63 1055.6L64 1063.2L65 1070.6L66 1075.5L67 1080.5L68 1083.4M69 1083.1L70 1083.6M78 1062.0L79 1063.3L80 1063.4L81 1064.1L82 1064.7L83 1065.1L84 1065.8L85 1066.1L86 1068.1L87 1070.6L88 1072.7L89 1073.0L90 1074.1L91 1076.0L92 1077.7L93 1078.8M94 1078.2L95 1079.0L96 1081.4L97 1084.2L98 1087.1L99 1090.2L100 1092.7L101 1095.2L102 1098.2L103 1101.7L104 1105.0L105 1108.1L106 1111.1L107 1114.7L108 1118.4L109 1119.2L110 1120.7L111 1122.0L112 1122.5M129 1110.0L130 1111.0M141 1086.7L142 1086.9L143 1087.1L144 1087.2L145 1088.0L146 1088.3L147 1089.0L148 1090.4L149 1091.6L150 1092.6" stroke="#ea3e19" stroke-width="2.1"/><path vector-effect="non-scaling-stroke" d="M68 1083.4L69 1083.1M70 1083.6L71 1082.5L72 1080.3L73 1077.2L74 1073.4L75 1069.0L76 1066.1L77 1062.7L78 1062.0M93 1078.8L94 1078.2M112 1122.5L113 1122.5L114 1122.3L115 1121.9L116 1121.6L117 1120.6L118 1119.9L119 1118.9L120 1118.0L121 1117.4L122 1116.7L123 1116.2L124 1115.8L125 1115.4L126 1114.5L127 1113.3L128 1110.6L129 1110.0M130 1111.0L131 1110.3L132 1108.2L133 1105.1L134 1101.7L135 1099.5L136 1096.2L137 1092.9L138 1089.5L139 1088.0L140 1087.2L141 1086.7M150 1092.6L151 1091.6L152 1090.0" stroke="#24a256" stroke-width="2.10"/><path vector-effect="non-scaling-stroke" d="M0 655.5L1 658.1L2 661.8L3 664.9L4 668.7L5 671.5L6 674.8L7 679.8L8 685.6L9 689.0L10 692.8L11 696.0L12 698.2L13 700.7L14 703.5L15 709.9L16 715.1L17 719.6L18 723.8L19 727.2L20 731.3L21 735.4L22 739.1L23 742.0L24 745.9L25 750.6L26 753.9L27 756.9L28 759.8L29 762.9L30 765.1L31 768.3L32 775.2L33 781.7L34 787.5L35 791.3L36 795.4L37 799.2L38 807.8L39 819.1L40 830.2L41 843.3L42 858.0L43 873.4L44 885.0L45 899.1L46 911.7L47 924.0L48 933.9L49 942.4L50 951.1L51 959.4L52 968.1L53 977.7L54 986.5L55 996.3L56 1005.5L57 1014.9L58 1024.5L59 1036.3L60 1045.8L61 1050.9L62 1055.3L63 1061.6L64 1070.7L65 1076.4L66 1081.2L67 1084.0M68 1083.9L69 1084.0M78 1062.2L79 1063.7L80 1064.3M82 1063.9L83 1064.6L84 1064.8L85 1066.8L86 1068.8L87 1071.3L88 1071.5L89 1072.8L90 1075.0L91 1076.9L92 1078.2M93 1077.7L94 1078.5L95 1080.0L96 1082.2L97 1084.9L98 1088.0L99 1090.8L100 1093.7L101 1096.5L102 1099.4L103 1103.7L104 1107.1L105 1110.1L106 1113.7L107 1116.9L108 1119.1L109 1121.4L110 1122.8L111 1123.4M129 1108.7L130 1110.0M141 1086.4L142 1086.5L143 1086.8L144 1087.0L145 1087.6L146 1088.1L147 1088.9L148 1090.5L149 1091.8L150 1092.7" stroke="#8c2a1a" stroke-width="0.85"/><path vector-effect="non-scaling-stroke" d="M67 1084.0L68 1083.9M69 1084.0L70 1083.2L71 1081.0L72 1077.7L73 1074.4L74 1069.9L75 1066.6L76 1063.6L77 1062.3L78 1062.2M80 1064.3L81 1064.2L82 1063.9M92 1078.2L93 1077.7M111 1123.4L112 1123.3L113 1123.2L114 1122.9L115 1122.5L116 1121.6L117 1120.9L118 1120.0L119 1119.1L120 1118.4L121 1118.0L122 1117.4L123 1117.2L124 1116.6L125 1115.1L126 1113.5L127 1112.0L128 1109.2L129 1108.7M130 1110.0L131 1109.0L132 1106.0L133 1103.8L134 1100.5L135 1098.0L136 1094.5L137 1090.7L138 1088.4L139 1087.6L140 1086.9L141 1086.4M150 1092.7L151 1092.1L152 1090.3" stroke="#24a358" stroke-width="0.85"/><path vector-effect="non-scaling-stroke" d="M0 656.6L1 660.0L2 663.6L3 666.4L4 670.1L5 672.7L6 676.1L7 681.6L8 687.5L9 691.0L10 694.6L11 697.6L12 700.8L13 703.2L14 705.8L15 713.3L16 717.8L17 721.8L18 725.2L19 728.5L20 733.1L21 737.1L22 739.7L23 743.6L24 748.0L25 751.9L26 756.1L27 759.3L28 762.5L29 765.1L30 767.0L31 770.7L32 776.7L33 784.1L34 789.4L35 791.6L36 795.3L37 801.7L38 810.2L39 822.1L40 834.3L41 848.4L42 863.2L43 875.1L44 889.2L45 903.6L46 916.3L47 928.9L48 938.3L49 947.5L50 956.6L51 964.8L52 973.8L53 983.1L54 992.8L55 1004.0L56 1013.7L57 1023.6L58 1033.7L59 1044.6L60 1051.0L61 1055.5L62 1061.5L63 1069.3L64 1076.7L65 1082.4L66 1084.8M67 1084.5L68 1084.8M78 1062.5L79 1064.7M82 1063.4L83 1063.5L84 1065.5L85 1067.5L86 1069.5L87 1070.0L88 1071.2L89 1073.6L90 1075.9L91 1077.4M92 1077.1L93 1078.1L94 1079.6L95 1080.7L96 1082.8L97 1085.7L98 1088.6L99 1091.8L100 1094.9L101 1097.6L102 1101.3L103 1105.9L104 1109.2L105 1112.6L106 1115.9L107 1117.7L108 1121.5L109 1123.6L110 1124.4M129 1107.6L130 1108.7M141 1086.0L142 1086.2L143 1086.6L144 1086.7L145 1087.5L146 1088.0L147 1088.9L148 1090.7L149 1091.9L150 1093.3" stroke="#8c2a1a" stroke-width="0.85"/><path vector-effect="non-scaling-stroke" d="M66 1084.8L67 1084.5M68 1084.8L69 1083.6L70 1081.7L71 1078.3L72 1074.8L73 1070.8L74 1067.5L75 1064.1L76 1063.2L77 1062.6L78 1062.5M79 1064.7L80 1064.4L81 1063.4L82 1063.4M91 1077.4L92 1077.1M110 1124.4L111 1124.3L112 1124.1L113 1123.9L114 1123.5L115 1122.5L116 1121.9L117 1121.0L118 1120.3L119 1119.6L120 1119.1L121 1118.8L122 1118.4L123 1118.0L124 1116.4L125 1114.1L126 1112.2L127 1110.5L128 1107.8L129 1107.6M130 1108.7L131 1106.9L132 1104.8L133 1102.7L134 1099.1L135 1096.3L136 1092.2L137 1089.6L138 1088.0L139 1087.2L140 1086.6L141 1086.0M150 1093.3L151 1092.4L152 1090.7" stroke="#25a55a" stroke-width="0.85"/><path vector-effect="non-scaling-stroke" d="M0 658.5L1 661.8L2 665.1L3 667.7L4 671.2L5 673.9L6 677.8L7 683.4L8 689.5L9 692.9L10 696.2L11 700.2L12 703.3L13 705.7L14 709.2L15 716.0L16 719.9L17 723.1L18 726.4L19 730.2L20 734.7L21 737.6L22 741.2L23 745.7L24 749.2L25 754.1L26 758.5L27 762.1L28 764.8L29 767.0L30 769.4L31 772.1L32 779.0L33 786.0L34 789.6L35 791.4L36 797.7L37 803.9L38 813.0L39 826.0L40 839.3L41 853.5L42 864.7L43 879.2L44 893.6L45 908.2L46 921.2L47 933.3L48 943.4L49 953.1L50 962.1L51 970.5L52 979.3L53 989.5L54 1000.6L55 1012.5L56 1022.7L57 1033.2L58 1042.2L59 1049.9L60 1055.8L61 1062.0L62 1069.5L63 1075.5L64 1082.9L65 1086.2M66 1085.5L67 1085.5M77 1063.0L78 1063.5L79 1064.8M82 1062.2L83 1064.2L84 1066.1L85 1068.2M86 1068.1L87 1069.6L88 1072.0L89 1074.6L90 1076.4M91 1076.2L92 1077.4L93 1079.2L94 1080.3L95 1081.3L96 1083.6L97 1086.2L98 1089.5L99 1092.9L100 1096.1L101 1099.6L102 1103.5L103 1108.0L104 1111.8L105 1114.9L106 1116.6L107 1120.1L108 1123.7L109 1125.3L110 1125.3M129 1106.1L130 1106.4M141 1085.7L142 1085.9L143 1086.2L144 1086.5L145 1087.3L146 1088.0L147 1089.1L148 1090.8L149 1092.4L150 1093.7" stroke="#8c2b1b" stroke-width="0.85"/><path vector-effect="non-scaling-stroke" d="M65 1086.2L66 1085.5M67 1085.5L68 1084.4L69 1082.0L70 1078.9L71 1075.3L72 1071.1L73 1068.3L74 1064.9L75 1063.7L76 1063.5L77 1063.0M79 1064.8L80 1063.5L81 1062.8L82 1062.2M85 1068.2L86 1068.1M90 1076.4L91 1076.2M110 1125.3L111 1125.2L112 1124.9L113 1124.6L114 1123.6L115 1122.8L116 1122.1L117 1121.3L118 1120.8L119 1120.3L120 1120.0L121 1119.9L122 1119.3L123 1117.8L124 1115.4L125 1112.7L126 1110.7L127 1109.2L128 1106.6L129 1106.1M130 1106.4L131 1105.6L132 1103.6L133 1101.3L134 1097.3L135 1093.9L136 1091.1L137 1089.2L138 1087.6L139 1086.9L140 1086.1L141 1085.7M150 1093.7L151 1092.9L152 1091.2" stroke="#26a75c" stroke-width="0.85"/><path vector-effect="non-scaling-stroke" d="M0 660.3L1 663.3L2 666.5L3 668.9L4 672.4L5 675.7L6 679.6L7 685.4L8 691.4L9 694.4L10 698.9L11 702.8L12 705.9L13 709.1L14 711.9L15 718.2L16 721.2L17 724.3L18 728.1L19 731.8L20 735.2L21 739.1L22 743.3L23 746.9L24 751.3L25 756.5L26 761.5L27 764.5L28 766.9L29 769.6L30 770.8L31 774.3L32 780.8L33 786.1L34 789.3L35 793.7L36 799.8L37 806.5L38 816.7L39 830.9L40 844.2L41 854.7L42 868.5L43 883.3L44 897.9L45 912.9L46 925.5L47 938.4L48 949.1L49 958.6L50 968.0L51 976.1L52 985.7L53 997.6L54 1009.4L55 1021.8L56 1032.6L57 1042.0L58 1047.7L59 1054.8L60 1062.5L61 1070.3L62 1076.0L63 1081.9L64 1086.9L65 1086.9M76 1063.9L77 1064.0M78 1063.6L79 1063.9M81 1061.5L82 1062.8L83 1064.8L84 1066.8M85 1066.6L86 1067.6L87 1070.4L88 1072.9L89 1075.0L90 1075.1L91 1076.6L92 1078.5L93 1079.9L94 1080.8L95 1082.1L96 1084.1L97 1087.1L98 1090.6L99 1094.1L100 1098.0L101 1101.8L102 1105.6L103 1110.7L104 1114.2L105 1115.6L106 1119.0L107 1122.4L108 1125.4L109 1126.2M129 1103.6L130 1105.0M141 1085.4L142 1085.5L143 1086.0L144 1086.3L145 1087.3L146 1088.1L147 1089.1L148 1091.3L149 1092.8L150 1094.3" stroke="#8c2c1b" stroke-width="0.85"/><path vector-effect="non-scaling-stroke" d="M65 1086.9L66 1086.5L67 1085.1L68 1082.9L69 1079.1L70 1075.8L71 1071.5L72 1068.5L73 1065.7L74 1064.6L75 1064.0L76 1063.9M77 1064.0L78 1063.6M79 1063.9L80 1062.9L81 1061.5M84 1066.8L85 1066.6M109 1126.2L110 1126.2L111 1126.0L112 1125.6L113 1124.7L114 1124.0L115 1123.0L116 1122.4L117 1121.9L118 1121.6L119 1121.3L120 1121.1L121 1120.9L122 1119.2L123 1116.9L124 1114.0L125 1111.2L126 1109.2L127 1108.0L128 1105.0L129 1103.6M130 1105.0L131 1104.4L132 1102.2L133 1099.5L134 1094.9L135 1092.9L136 1090.8L137 1088.9L138 1087.3L139 1086.4L140 1085.8L141 1085.4M150 1094.3L151 1093.5L152 1090.9" stroke="#26a85e" stroke-width="0.85"/><path vector-effect="non-scaling-stroke" d="M0 661.8L1 664.6L2 667.6L3 670.0L4 674.2L5 677.4L6 681.4L7 687.2L8 693.0L9 697.2L10 701.6L11 705.5L12 709.5L13 711.9L14 714.0L15 719.5L16 722.4L17 726.0L18 729.7L19 732.1L20 736.7L21 741.2L22 744.4L23 749.0L24 753.8L25 759.5L26 763.9L27 766.6L28 769.5L29 771.0L30 773.2L31 775.9L32 780.7L33 785.6L34 791.6L35 795.7L36 802.4L37 810.2L38 821.4L39 835.7L40 845.1L41 858.2L42 872.4L43 887.4L44 902.4L45 917.0L46 930.4L47 944.1L48 954.7L49 964.6L50 973.7L51 982.7L52 994.0L53 1006.5L54 1018.9L55 1032.0L56 1041.7L57 1047.6L58 1052.7L59 1061.8L60 1071.2L61 1077.1L62 1082.7L63 1086.0L64 1087.6L65 1088.0M75 1064.5L76 1065.0M78 1062.6L79 1063.3M80 1061.6L81 1062.2L82 1063.4L83 1065.4M84 1065.1L85 1066.1L86 1068.3L87 1071.3L88 1073.3L89 1073.6L90 1075.4L91 1077.7L92 1079.3L93 1080.5L94 1081.7L95 1082.5L96 1084.9L97 1088.2L98 1091.7L99 1096.0L100 1100.3L101 1103.9L102 1108.3L103 1113.0L104 1114.9L105 1118.1L106 1121.4L107 1124.1L108 1126.5L109 1127.3M129 1102.1L130 1103.8M141 1084.9L142 1085.3L143 1085.8L144 1086.2L145 1087.4L146 1088.1L147 1089.6L148 1091.6L149 1093.4L150 1094.9" stroke="#8c2c1b" stroke-width="0.85"/><path vector-effect="non-scaling-stroke" d="M65 1088.0L66 1086.2L67 1083.5L68 1079.9L69 1075.9L70 1071.8L71 1068.8L72 1065.7L73 1065.3L74 1064.9L75 1064.5M76 1065.0L77 1064.1L78 1062.6M79 1063.3L80 1061.6M83 1065.4L84 1065.1M109 1127.3L110 1127.1L111 1126.8L112 1125.7L113 1125.2L114 1124.2L115 1123.5L116 1123.1L117 1122.8L118 1122.6L119 1122.5L120 1122.2L121 1120.8L122 1118.2L123 1115.5L124 1112.5L125 1109.7L126 1108.0L127 1106.4L128 1102.4L129 1102.1M130 1103.8L131 1102.9L132 1100.4L133 1097.2L134 1093.9L135 1092.6L136 1090.5L137 1088.6L138 1086.9L139 1086.1L140 1085.5L141 1084.9M150 1094.9L151 1093.3L152 1090.3" stroke="#27aa60" stroke-width="0.85"/><path vector-effect="non-scaling-stroke" d="M0 663.1L1 665.7L2 668.7L3 671.7L4 675.9L5 679.2L6 683.1L7 688.6L8 695.7L9 699.9L10 704.3L11 709.2L12 712.4L13 714.1L14 715.1L15 720.6L16 724.1L17 727.5L18 729.9L19 733.6L20 738.7L21 742.3L22 746.5L23 751.4L24 756.7L25 761.9L26 766.0L27 769.3L28 771.0L29 773.5L30 774.8L31 775.6L32 780.0L33 787.9L34 793.7L35 798.3L36 806.0L37 814.8L38 826.0L39 836.2L40 848.4L41 861.8L42 876.2L43 891.7L44 906.2L45 921.8L46 936.1L47 949.8L48 960.8L49 970.4L50 980.5L51 991.2L52 1003.2L53 1016.3L54 1029.4L55 1041.6L56 1047.6L57 1052.9L58 1059.8L59 1070.8L60 1078.3L61 1084.1L62 1086.9M63 1086.7L64 1088.8M72 1065.4L73 1065.7M74 1065.4L75 1065.6M78 1061.9L79 1061.9L80 1062.3L81 1062.7L82 1064.0M83 1063.6L84 1064.5L85 1066.8L86 1069.2L87 1071.6L88 1071.8L89 1073.8L90 1076.5L91 1078.4L92 1079.8L93 1081.3L94 1082.1L95 1083.3L96 1085.9L97 1089.2L98 1093.6L99 1098.3L100 1102.3L101 1106.6L102 1110.6L103 1113.7L104 1117.4L105 1120.5L106 1123.2L107 1125.1L108 1127.5L109 1128.2M117 1123.9L118 1124.0M129 1100.7L130 1102.2M141 1084.6L142 1085.0L143 1085.7L144 1086.3L145 1087.4L146 1088.6L147 1089.8L148 1092.2L149 1094.0L150 1094.8" stroke="#8c2d1c" stroke-width="0.85"/><path vector-effect="non-scaling-stroke" d="M62 1086.9L63 1086.7M64 1088.8L65 1087.7L66 1084.5L67 1080.5L68 1076.6L69 1071.8L70 1069.0L71 1066.0L72 1065.4M73 1065.7L74 1065.4M75 1065.6L76 1065.2L77 1063.1L78 1061.9M82 1064.0L83 1063.6M109 1128.2L110 1128.0L111 1127.0L112 1126.3L113 1125.5L114 1124.8L115 1124.2L116 1124.1L117 1123.9M118 1124.0L119 1123.8L120 1122.2L121 1119.9L122 1116.8L123 1113.9L124 1111.0L125 1108.5L126 1106.3L127 1103.7L128 1100.7L129 1100.7M130 1102.2L131 1101.1L132 1097.9L133 1096.2L134 1093.6L135 1092.4L136 1090.3L137 1088.2L138 1086.5L139 1085.8L140 1085.0L141 1084.6M150 1094.8L151 1092.7L152 1091.1" stroke="#28ac63" stroke-width="0.85"/><path vector-effect="non-scaling-stroke" d="M0 664.2L1 666.8L2 670.5L3 673.4L4 677.8L5 680.9L6 684.5L7 691.3L8 698.5L9 702.6L10 708.2L11 712.3L12 714.7L13 715.3L14 716.1L15 722.3L16 725.6L17 727.7L18 731.4L19 735.6L20 739.7L21 744.4L22 749.0L23 754.5L24 759.2L25 764.1L26 768.8L27 770.9L28 773.5L29 775.2M30 774.4L31 774.7L32 782.1L33 789.9L34 796.3L35 801.9L36 810.6L37 819.3L38 826.1L39 839.2L40 851.7L41 865.3L42 880.1L43 895.2L44 910.8L45 927.3L46 941.6L47 955.9L48 966.7L49 977.4L50 989.2L51 1000.6L52 1013.2L53 1027.2L54 1039.2L55 1047.6L56 1053.1L57 1060.3L58 1069.2L59 1078.2L60 1085.6L61 1088.6M62 1087.7L63 1088.0L64 1088.6M71 1065.6L72 1065.8L73 1066.3L74 1066.7M78 1060.4L79 1062.6L80 1062.8L81 1063.3M82 1062.1L83 1062.9L84 1065.2L85 1067.6L86 1069.4L87 1070.0L88 1071.9L89 1074.9L90 1077.2L91 1079.0L92 1080.7L93 1081.7L94 1082.9L95 1084.3L96 1086.9L97 1091.1L98 1095.9L99 1100.4L100 1105.2L101 1109.0L102 1111.3L103 1116.4L104 1119.9L105 1122.3L106 1124.2L107 1126.2L108 1128.6L109 1129.2M115 1125.3L116 1125.3L117 1125.4M129 1098.9L130 1100.3M141 1084.3L142 1084.9L143 1085.7L144 1086.2L145 1087.8L146 1088.8L147 1090.4L148 1092.8L149 1093.9L150 1094.2" stroke="#8d2e1c" stroke-width="0.85"/><path vector-effect="non-scaling-stroke" d="M29 775.2L30 774.4M61 1088.6L62 1087.7M64 1088.6L65 1086.1L66 1081.4L67 1077.0L68 1072.3L69 1068.9L70 1066.1L71 1065.6M74 1066.7L75 1065.8L76 1064.2L77 1062.4L78 1060.4M81 1063.3L82 1062.1M109 1129.2L110 1128.3L111 1127.6L112 1126.6L113 1126.1L114 1125.6L115 1125.3M117 1125.4L118 1125.3L119 1123.8L120 1121.3L121 1118.5L122 1115.3L123 1112.4L124 1109.7L125 1106.7L126 1103.5L127 1102.0L128 1099.2L129 1098.9M130 1100.3L131 1098.6L132 1097.0L133 1096.0L134 1093.5L135 1092.3L136 1089.9L137 1087.9L138 1086.2L139 1085.3L140 1084.7L141 1084.3M150 1094.2L151 1093.7L152 1089.2" stroke="#28ae65" stroke-width="0.85"/><path vector-effect="non-scaling-stroke" d="M0 665.3L1 668.6L2 672.2L3 675.2L4 679.5L5 682.2L6 687.1L7 694.0L8 701.3L9 706.6L10 711.3L11 714.7L12 716.0L13 716.4L14 717.7L15 723.8L16 725.7L17 729.1L18 733.3L19 736.5L20 741.8L21 746.8L22 752.0L23 756.9L24 761.3L25 766.9L26 770.5L27 773.5L28 775.3M30 773.4L31 776.7L32 783.9L33 792.4L34 799.9L35 806.5L36 815.2L37 819.1L38 828.8L39 842.3L40 854.9L41 869.0L42 883.3L43 899.5L44 916.0L45 932.7L46 947.6L47 961.8L48 973.8L49 986.3L50 999.0L51 1011.1L52 1024.5L53 1037.4L54 1045.5L55 1053.4L56 1060.9L57 1070.1L58 1076.8L59 1085.9L60 1090.4M70 1065.7L71 1066.1L72 1066.4L73 1067.7M77 1060.9L78 1061.1L79 1063.3L80 1063.5M82 1061.2L83 1063.6L84 1065.9L85 1067.8M86 1067.6L87 1070.0L88 1073.0L89 1075.6L90 1077.7L91 1079.8L92 1081.1L93 1082.5L94 1083.9L95 1085.2L96 1088.8L97 1093.3L98 1098.0L99 1103.2L100 1107.6L101 1109.6L102 1113.9L103 1118.9L104 1121.8L105 1123.4L106 1125.2L107 1127.2L108 1129.6M115 1126.6L116 1126.9M129 1096.8L130 1097.6M141 1084.2L142 1084.8L143 1085.6L144 1086.6L145 1088.0L146 1089.3L147 1090.9L148 1092.6L149 1093.3L150 1095.3" stroke="#8d2e1c" stroke-width="0.85"/><path vector-effect="non-scaling-stroke" d="M28 775.3L29 774.8L30 773.4M60 1090.4L61 1089.5L62 1089.1L63 1087.6L64 1086.9L65 1082.9L66 1077.8L67 1072.6L68 1069.3L69 1065.8L70 1065.7M73 1067.7L74 1066.9L75 1064.8L76 1063.5L77 1060.9M80 1063.5L81 1061.3L82 1061.2M85 1067.8L86 1067.6M108 1129.6L109 1129.5L110 1128.9L111 1128.0L112 1127.3L113 1127.0L114 1126.7L115 1126.6M116 1126.9L117 1126.9L118 1125.4L119 1122.9L120 1119.9L121 1117.0L122 1113.8L123 1111.2L124 1108.0L125 1103.8L126 1101.8L127 1100.5L128 1097.3L129 1096.8M130 1097.6L131 1097.6L132 1096.8L133 1095.9L134 1093.4L135 1092.0L136 1089.7L137 1087.7L138 1085.8L139 1085.0L140 1084.4L141 1084.2M150 1095.3L151 1091.9L152 1085.2" stroke="#29af67" stroke-width="0.85"/><path vector-effect="non-scaling-stroke" d="M0 667.0L1 670.3L2 674.0L3 676.9L4 680.8L5 684.9L6 689.8L7 696.8L8 705.4L9 709.8L10 713.7L11 716.0L12 717.1L13 718.0L14 719.0L15 723.8L16 727.1L17 731.0L18 734.2L19 738.6L20 744.3L21 749.9L22 754.5L23 759.0L24 764.2L25 768.6L26 773.2L27 775.4M29 773.7L30 775.4L31 778.3L32 786.3L33 796.1L34 804.7L35 811.1L36 814.8L37 821.6L38 831.6L39 845.2L40 858.2L41 871.8L42 887.2L43 904.4L44 921.2L45 938.6L46 953.4L47 969.0L48 983.0L49 996.5L50 1009.8L51 1022.7L52 1035.0L53 1043.8L54 1051.4L55 1061.6L56 1071.1L57 1078.2L58 1084.8L59 1090.9L60 1091.5M69 1065.4L70 1066.2L71 1066.7L72 1067.8L73 1068.0M77 1061.6L78 1061.7L79 1064.0M81 1060.4L82 1061.8L83 1064.3L84 1066.1M85 1065.8L86 1067.6L87 1071.1L88 1073.6L89 1076.1L90 1078.6L91 1080.2L92 1081.9L93 1083.6L94 1084.9L95 1087.1L96 1091.0L97 1095.4L98 1100.8L99 1105.7L100 1108.2L101 1112.3L102 1116.5L103 1120.8L104 1122.8L105 1124.4L106 1126.3L107 1128.2L108 1130.0L109 1130.3M114 1128.2L115 1128.3L116 1128.5M129 1093.8L130 1096.5L131 1097.5M141 1084.1L142 1084.7L143 1085.9L144 1086.7L145 1088.5L146 1089.8L147 1090.6L148 1091.9L149 1094.3" stroke="#8d2e1c" stroke-width="0.85"/><path vector-effect="non-scaling-stroke" d="M27 775.4L28 774.9L29 773.7M60 1091.5L61 1091.0L62 1088.8L63 1085.8L64 1083.6L65 1079.2L66 1073.2L67 1069.5L68 1066.1L69 1065.4M73 1068.0L74 1065.9L75 1064.1L76 1062.0L77 1061.6M79 1064.0L80 1061.3L81 1060.4M84 1066.1L85 1065.8M109 1130.3L110 1129.5L111 1128.8L112 1128.3L113 1128.2L114 1128.2M116 1128.5L117 1127.0L118 1124.6L119 1121.6L120 1118.4L121 1115.5L122 1112.5L123 1109.4L124 1105.0L125 1102.0L126 1100.2L127 1098.6L128 1094.9L129 1093.8M131 1097.5L132 1096.8L133 1096.0L134 1093.1L135 1091.8L136 1089.5L137 1087.2L138 1085.5L139 1084.7L140 1084.2L141 1084.1M149 1094.3L150 1093.5L151 1087.7L152 1083.5" stroke="#29b169" stroke-width="0.85"/><path vector-effect="non-scaling-stroke" d="M0 668.7L1 672.1L2 675.7L3 678.2L4 683.5L5 687.6L6 692.4L7 700.8L8 708.7L9 712.3L10 715.1L11 717.2L12 718.9L13 719.4M14 718.8L15 725.1L16 729.0L17 731.8L18 736.2L19 740.9L20 747.4L21 752.4L22 756.6L23 761.9L24 765.7L25 771.4L26 775.2M28 773.8L29 775.8L30 777.0L31 780.5L32 789.8L33 800.9L34 809.4L35 810.4L36 817.2L37 824.1L38 834.1L39 848.2L40 860.6L41 875.3L42 891.8L43 909.2L44 926.8L45 944.2L46 960.6L47 978.5L48 993.5L49 1007.7L50 1022.0L51 1033.7L52 1041.6L53 1050.0L54 1059.9L55 1072.4L56 1079.6L57 1086.6L58 1090.0L59 1092.0L60 1093.1M68 1065.7L69 1065.9L70 1066.9L71 1068.2M75 1062.6L76 1062.8M77 1062.2L78 1062.3M80 1060.4L81 1061.0L82 1062.5L83 1064.3M84 1063.9L85 1065.7L86 1068.5L87 1071.6L88 1074.0L89 1076.9L90 1078.9L91 1081.0L92 1083.0L93 1084.6L94 1086.9L95 1089.4L96 1093.0L97 1098.3L98 1103.3L99 1106.2L100 1110.9L101 1114.9L102 1118.3L103 1121.9L104 1123.9L105 1125.5L106 1127.3L107 1128.5L108 1130.8L109 1130.9M112 1129.7L113 1129.9L114 1130.1L115 1130.1M128 1091.7L129 1092.4L130 1096.4L131 1097.4M141 1083.9L142 1085.0L143 1086.1L144 1087.2L145 1089.0L146 1089.4L147 1089.8L148 1093.0" stroke="#8d2f1d" stroke-width="0.85"/><path vector-effect="non-scaling-stroke" d="M13 719.4L14 718.8M26 775.2L27 775.0L28 773.8M60 1093.1L61 1090.8L62 1087.0L63 1082.3L64 1079.8L65 1074.4L66 1070.0L67 1066.1L68 1065.7M71 1068.2L72 1068.2L73 1067.0L74 1065.2L75 1062.6M76 1062.8L77 1062.2M78 1062.3L79 1061.7L80 1060.4M83 1064.3L84 1063.9M109 1130.9L110 1130.3L111 1129.9L112 1129.7M115 1130.1L116 1128.8L117 1126.3L118 1123.2L119 1120.0L120 1116.9L121 1114.3L122 1110.8L123 1106.4L124 1103.2L125 1100.4L126 1098.1L127 1096.2L128 1091.7M131 1097.4L132 1096.8L133 1095.8L134 1093.0L135 1091.8L136 1089.1L137 1087.0L138 1085.2L139 1084.5L140 1084.2L141 1083.9M148 1093.0L149 1092.3L150 1089.2L151 1086.1L152 1083.5" stroke="#2ab36b" stroke-width="0.85"/><path vector-effect="non-scaling-stroke" d="M0 670.6L1 673.8L2 676.9L3 680.9L4 686.2L5 690.2L6 696.5L7 704.1L8 711.3L9 713.7L10 716.3L11 719.1L12 720.5M13 719.2L14 719.9L15 727.1L16 729.7L17 733.9L18 738.6L19 744.0L20 749.8L21 754.5L22 759.5L23 763.4L24 768.5L25 773.3L26 774.7M27 773.8L28 776.0L29 777.6L30 779.3L31 783.9L32 794.5L33 805.6L34 808.6L35 812.8L36 819.6L37 826.4L38 836.7L39 850.2L40 863.8L41 879.5L42 896.2L43 914.5L44 932.1L45 951.3L46 970.1L47 989.3L48 1005.2L49 1020.4L50 1033.5L51 1040.6L52 1048.0L53 1058.8L54 1071.2L55 1081.4L56 1088.6L57 1092.2M58 1091.2L59 1093.8M67 1065.7L68 1066.2L69 1066.6L70 1068.4L71 1068.6M75 1063.4L76 1063.5M78 1059.9L79 1060.8L80 1061.0L81 1061.6L82 1062.4M83 1062.0L84 1063.7L85 1066.6L86 1069.0L87 1071.9L88 1074.7L89 1077.2L90 1079.7L91 1082.1L92 1084.0L93 1086.7L94 1089.2L95 1091.5L96 1096.0L97 1100.8L98 1103.7L99 1108.9L100 1113.6L101 1116.8L102 1119.3L103 1123.0L104 1125.0L105 1126.5L106 1127.6L107 1129.3L108 1131.5L109 1131.9M112 1131.5L113 1132.0L114 1132.1M128 1090.2L129 1092.0L130 1096.3L131 1097.6M140 1084.0L141 1084.2L142 1085.1L143 1086.5L144 1087.6L145 1088.5M146 1088.5L147 1090.8" stroke="#8d301d" stroke-width="0.85"/><path vector-effect="non-scaling-stroke" d="M12 720.5L13 719.2M26 774.7L27 773.8M57 1092.2L58 1091.2M59 1093.8L60 1093.0L61 1089.0L62 1083.3L63 1078.2L64 1074.7L65 1071.1L66 1066.4L67 1065.7M71 1068.6L72 1067.1L73 1066.3L74 1063.7L75 1063.4M76 1063.5L77 1062.9L78 1059.9M82 1062.4L83 1062.0M109 1131.9L110 1131.6L111 1131.5L112 1131.5M114 1132.1L115 1130.5L116 1128.1L117 1124.9L118 1121.7L119 1118.5L120 1115.7L121 1112.5L122 1107.6L123 1104.5L124 1101.5L125 1098.2L126 1095.6L127 1092.8L128 1090.2M131 1097.6L132 1096.7L133 1095.8L134 1093.0L135 1091.5L136 1089.0L137 1086.7L138 1085.0L139 1084.5L140 1084.0M145 1088.5L146 1088.5M147 1090.8L148 1090.8L149 1087.8L150 1087.6L151 1086.3L152 1083.8" stroke="#2bb46d" stroke-width="0.85"/><path vector-effect="non-scaling-stroke" d="M0 672.3L1 675.0L2 679.7L3 683.6L4 689.0L5 694.4L6 699.6L7 706.5L8 712.7L9 714.9L10 718.2L11 720.7M12 720.3L13 720.4L14 721.7L15 727.8L16 731.8L17 736.2L18 741.8L19 746.4L20 751.9L21 757.4L22 761.0L23 766.2L24 770.4L25 772.7L26 773.5L27 776.2L28 777.9L29 780.0L30 782.8L31 788.6L32 799.2L33 804.6L34 811.0L35 815.1L36 821.8L37 828.7L38 838.1L39 853.0L40 867.5L41 883.5L42 901.0L43 919.5L44 938.8L45 960.8L46 981.0L47 1001.3L48 1018.5L49 1032.5L50 1040.8L51 1047.2L52 1057.2L53 1070.7L54 1080.6L55 1091.0L56 1094.6M58 1093.0L59 1093.7M66 1066.0L67 1066.2L68 1067.0L69 1068.2L70 1068.9M75 1064.3L76 1064.3M78 1058.8L79 1061.4L80 1061.7M82 1059.9L83 1061.6L84 1064.5L85 1066.9L86 1069.2L87 1072.6L88 1074.9L89 1077.9L90 1080.8L91 1083.1L92 1086.2L93 1089.2L94 1091.4L95 1094.4L96 1098.4L97 1101.0L98 1106.5L99 1111.7L100 1115.5L101 1117.7L102 1120.3L103 1124.0L104 1126.0L105 1126.8L106 1128.4L107 1129.9L108 1132.6L109 1133.4L110 1133.4L111 1133.5L112 1133.8L113 1134.1M128 1089.7L129 1091.7L130 1096.3L131 1097.5M139 1084.3L140 1084.3L141 1084.3L142 1085.5L143 1086.9L144 1087.1L145 1087.5L146 1089.5M148 1085.9L149 1086.0L150 1087.9" stroke="#8d301d" stroke-width="0.85"/><path vector-effect="non-scaling-stroke" d="M11 720.7L12 720.3M56 1094.6L57 1093.5L58 1093.0M59 1093.7L60 1091.2L61 1085.2L62 1079.0L63 1072.8L64 1071.3L65 1067.4L66 1066.0M70 1068.9L71 1067.5L72 1066.4L73 1064.7L74 1064.6L75 1064.3M76 1064.3L77 1060.4L78 1058.8M80 1061.7L81 1061.5L82 1059.9M113 1134.1L114 1132.6L115 1129.8L116 1126.7L117 1123.4L118 1120.2L119 1117.3L120 1113.9L121 1109.3L122 1105.7L123 1102.8L124 1099.3L125 1095.5L126 1092.0L127 1091.3L128 1089.7M131 1097.5L132 1096.8L133 1096.0L134 1092.8L135 1091.5L136 1088.9L137 1086.7L138 1085.0L139 1084.3M146 1089.5L147 1088.3L148 1085.9M150 1087.9L151 1086.7L152 1086.3" stroke="#2bb670" stroke-width="0.85"/><path vector-effect="non-scaling-stroke" d="M0 673.5L1 677.8L2 682.6L3 686.4L4 693.3L5 697.6L6 702.0L7 707.7L8 713.9L9 716.8L10 719.9L11 720.5L12 721.6L13 722.3M14 722.1L15 729.8L16 734.2L17 739.4L18 744.2L19 748.5L20 754.9L21 758.9L22 763.8L23 768.1L24 769.7L25 771.3L26 776.0L27 778.2L28 780.5L29 783.8L30 787.7L31 793.1L32 797.7L33 806.9L34 813.3L35 817.1L36 823.9L37 829.7L38 840.3L39 856.3L40 871.0L41 887.8L42 905.5L43 925.9L44 948.2L45 971.8L46 993.3L47 1015.2L48 1031.1L49 1040.2L50 1047.8L51 1057.0L52 1069.7L53 1080.7L54 1090.7L55 1097.5M66 1066.6L67 1067.0L68 1068.7M72 1064.7L73 1065.8M77 1059.2L78 1059.4L79 1062.2M81 1058.7L82 1059.4L83 1062.4L84 1064.8L85 1067.0L86 1069.7L87 1072.6L88 1075.5L89 1078.9L90 1081.8L91 1085.4L92 1088.8L93 1091.5L94 1094.6L95 1097.0L96 1098.6L97 1103.8L98 1109.2L99 1113.6L100 1116.4L101 1118.7L102 1121.3L103 1125.1L104 1126.3L105 1127.6L106 1129.0L107 1131.0L108 1134.1L109 1135.3L110 1135.6L111 1136.0L112 1136.2M126 1090.4L127 1090.8M128 1089.2L129 1091.5L130 1096.2L131 1097.6M140 1084.4L141 1084.7L142 1085.9L143 1086.3M144 1085.9L145 1088.5M147 1083.0L148 1083.9L149 1086.2L150 1088.4L151 1089.5" stroke="#ee5725" stroke-width="1.9"/><path vector-effect="non-scaling-stroke" d="M13 722.3L14 722.1M55 1097.5L56 1096.2L57 1095.6L58 1092.9L59 1091.9L60 1087.3L61 1080.8L62 1073.4L63 1069.0L64 1067.3L65 1067.0L66 1066.6M68 1068.7L69 1068.7L70 1067.7L71 1066.8L72 1064.7M73 1065.8L74 1065.6L75 1065.2L76 1061.7L77 1059.2M79 1062.2L80 1061.6L81 1058.7M112 1136.2L113 1134.8L114 1132.0L115 1128.5L116 1125.2L117 1121.9L118 1119.1L119 1115.5L120 1110.5L121 1107.3L122 1104.0L123 1100.5L124 1096.5L125 1091.8L126 1090.4M127 1090.8L128 1089.2M131 1097.6L132 1097.1L133 1096.0L134 1092.9L135 1091.5L136 1088.9L137 1086.7L138 1084.8L139 1084.7L140 1084.4M143 1086.3L144 1085.9M145 1088.5L146 1086.8L147 1083.0M151 1089.5L152 1087.4" stroke="#2cb872" stroke-width="1.90"/><path vector-effect="non-scaling-stroke" d="M0 674.9L1 679.3L2 684.0L3 688.6L4 695.0L5 698.8L6 702.5L7 708.2L8 714.9L9 717.7L10 719.8L11 721.3L12 722.7M13 722.6L14 723.0L15 731.0L16 735.8L17 740.6L18 745.2L19 749.9L20 755.6L21 760.3L22 764.7L23 767.7L24 768.8L25 772.5L26 777.0L27 779.6L28 782.5L29 786.4L30 790.1L31 792.2L32 798.7L33 808.0L34 814.3L35 818.1L36 824.3L37 830.6L38 841.7L39 857.8L40 872.9L41 889.8L42 908.4L43 930.4L44 953.6L45 978.1L46 1000.4L47 1021.8L48 1035.1L49 1043.9L50 1053.1L51 1063.6L52 1075.0L53 1086.0L54 1094.2L55 1098.4M63 1066.9L64 1067.1L65 1067.3M66 1067.0L67 1068.0L68 1069.0M72 1065.3L73 1066.3M77 1059.6L78 1059.7L79 1062.1M81 1058.4L82 1059.7L83 1062.5L84 1064.8L85 1067.2L86 1069.6L87 1072.9L88 1076.0L89 1079.4L90 1082.9L91 1086.7L92 1090.0L93 1093.2L94 1095.9L95 1097.0L96 1100.0L97 1105.2L98 1110.2L99 1114.0L100 1116.9L101 1119.2L102 1121.8L103 1125.2L104 1126.7L105 1127.9L106 1129.5L107 1131.8L108 1135.2L109 1136.6L110 1137.0L111 1137.4M126 1090.1L127 1090.6M128 1089.0L129 1091.3L130 1096.2L131 1097.8M140 1084.6L141 1084.9L142 1085.6L143 1085.7L144 1086.4L145 1087.1M147 1081.9L148 1083.9L149 1086.4L150 1090.0L151 1090.2" stroke="#ee5826" stroke-width="0.8"/><path vector-effect="non-scaling-stroke" d="M12 722.7L13 722.6M55 1098.4L56 1097.3L57 1095.6L58 1091.8L59 1089.8L60 1085.1L61 1077.9L62 1071.4L63 1066.9M65 1067.3L66 1067.0M68 1069.0L69 1068.1L70 1067.4L71 1065.9L72 1065.3M73 1066.3L74 1066.1L75 1063.8L76 1061.2L77 1059.6M79 1062.1L80 1060.1L81 1058.4M111 1137.4L112 1136.6L113 1134.5L114 1131.4L115 1127.7L116 1124.5L117 1121.3L118 1118.1L119 1113.8L120 1109.5L121 1106.5L122 1102.8L123 1099.1L124 1094.5L125 1090.9L126 1090.1M127 1090.6L128 1089.0M131 1097.8L132 1097.1L133 1096.1L134 1092.9L135 1091.6L136 1089.0L137 1086.7L138 1085.0L139 1084.7L140 1084.6M145 1087.1L146 1084.0L147 1081.9M151 1090.2L152 1088.7" stroke="#2db974" stroke-width="1.28"/><path vector-effect="non-scaling-stroke" d="M0 676.4L1 680.7L2 685.5L3 690.8L4 696.7L5 700.0L6 702.9L7 708.7L8 715.9L9 718.5L10 719.7L11 722.0L12 723.7M13 722.8L14 723.9L15 732.2L16 737.4L17 741.9L18 746.2L19 751.4L20 756.3L21 761.8L22 765.6L23 767.2L24 767.9L25 773.8L26 778.1L27 780.9L28 784.5L29 789.0L30 792.5M31 791.2L32 799.7L33 809.1L34 815.3L35 819.1L36 824.8L37 831.5L38 843.1L39 859.3L40 874.9L41 891.7L42 911.4L43 935.0L44 959.1L45 984.3L46 1007.5L47 1028.4L48 1039.2L49 1047.6L50 1058.3L51 1070.3L52 1080.2L53 1091.4L54 1097.6L55 1099.3M63 1064.7L64 1066.9L65 1067.7M66 1067.5L67 1068.9L68 1069.2M71 1065.0L72 1065.9L73 1066.9M77 1059.9L78 1060.0L79 1062.1M81 1058.1L82 1060.0L83 1062.5L84 1064.7L85 1067.4L86 1069.6L87 1073.2L88 1076.5L89 1079.9L90 1084.1L91 1088.1L92 1091.2L93 1094.8L94 1097.3M95 1097.0L96 1101.4L97 1106.6L98 1111.1L99 1114.4L100 1117.4L101 1119.6L102 1122.3L103 1125.3L104 1127.1L105 1128.2L106 1130.0L107 1132.6L108 1136.3L109 1137.8L110 1138.4L111 1138.8M126 1089.8L127 1090.4M128 1088.8L129 1091.0L130 1096.3L131 1097.9M139 1084.8L140 1084.8L141 1085.0L142 1085.2M143 1085.0L144 1086.9M147 1080.7L148 1084.0L149 1086.7L150 1091.5" stroke="#ee5a27" stroke-width="0.8"/><path vector-effect="non-scaling-stroke" d="M12 723.7L13 722.8M30 792.5L31 791.2M55 1099.3L56 1098.5L57 1095.6L58 1090.8L59 1087.8L60 1082.8L61 1074.9L62 1069.4L63 1064.7M65 1067.7L66 1067.5M68 1069.2L69 1067.5L70 1067.0L71 1065.0M73 1066.9L74 1066.6L75 1062.5L76 1060.6L77 1059.9M79 1062.1L80 1058.6L81 1058.1M94 1097.3L95 1097.0M111 1138.8L112 1137.0L113 1134.3L114 1130.7L115 1127.0L116 1123.8L117 1120.8L118 1117.2L119 1112.1L120 1108.6L121 1105.6L122 1101.6L123 1097.6L124 1092.6L125 1090.0L126 1089.8M127 1090.4L128 1088.8M131 1097.9L132 1097.1L133 1096.2L134 1092.9L135 1091.7L136 1089.1L137 1086.7L138 1085.3L139 1084.8M142 1085.2L143 1085.0M144 1086.9L145 1085.6L146 1081.1L147 1080.7M150 1091.5L151 1090.9L152 1090.1" stroke="#2dba76" stroke-width="1.28"/><path vector-effect="non-scaling-stroke" d="M0 677.9L1 682.2L2 687.8L3 692.5L4 697.9L5 700.4L6 703.3L7 709.6L8 716.8L9 718.4L10 720.5L11 723.1L12 724.0M13 723.8L14 725.0L15 733.9L16 738.7L17 742.8L18 747.7L19 752.0L20 757.7L21 762.7L22 765.0L23 766.2L24 769.1L25 774.8L26 779.5L27 783.1L28 787.4L29 791.6M30 791.4L31 792.1L32 800.6L33 810.0L34 816.3L35 819.4L36 825.6L37 832.7L38 844.2L39 861.0L40 876.5L41 894.4L42 915.8L43 940.4L44 965.4L45 991.6L46 1014.3L47 1032.6L48 1043.1L49 1053.1L50 1065.4L51 1075.9L52 1085.9L53 1095.1L54 1098.6L55 1100.7M63 1064.4L64 1067.3L65 1068.2L66 1068.5L67 1069.2M71 1065.7L72 1066.5L73 1067.5M78 1059.9L79 1060.5M80 1058.3L81 1058.4L82 1060.0L83 1062.4L84 1064.9L85 1067.3L86 1069.7L87 1073.6L88 1076.9L89 1081.0L90 1085.5L91 1089.3L92 1093.0L93 1096.3L94 1097.3L95 1098.5L96 1102.8L97 1107.5L98 1111.5L99 1114.9L100 1117.8L101 1120.1L102 1122.3L103 1125.7L104 1127.4L105 1128.7L106 1130.8L107 1133.6L108 1137.6L109 1139.4L110 1139.9M126 1089.5L127 1090.2M128 1088.4L129 1090.9L130 1096.4L131 1098.0M142 1084.5L143 1085.5M146 1079.8L147 1080.7L148 1084.1L149 1088.3L150 1092.3L151 1092.4" stroke="#ef5b28" stroke-width="0.8"/><path vector-effect="non-scaling-stroke" d="M12 724.0L13 723.8M29 791.6L30 791.4M55 1100.7L56 1098.6L57 1094.6L58 1088.6L59 1085.4L60 1079.8L61 1072.8L62 1067.1L63 1064.4M67 1069.2L68 1068.6L69 1067.1L70 1066.0L71 1065.7M73 1067.5L74 1065.2L75 1061.9L76 1061.0L77 1060.3L78 1059.9M79 1060.5L80 1058.3M110 1139.9L111 1139.3L112 1136.8L113 1133.7L114 1130.0L115 1126.3L116 1123.2L117 1119.9L118 1115.5L119 1111.1L120 1107.7L121 1104.4L122 1100.1L123 1095.6L124 1091.6L125 1089.6L126 1089.5M127 1090.2L128 1088.4M131 1098.0L132 1097.2L133 1096.4L134 1093.1L135 1091.9L136 1089.2L137 1087.0L138 1085.3L139 1085.0L140 1085.0L141 1084.6L142 1084.5M143 1085.5L144 1085.3L145 1082.5L146 1079.8M151 1092.4L152 1091.4" stroke="#2ebb78" stroke-width="1.28"/><path vector-effect="non-scaling-stroke" d="M0 679.4L1 683.7L2 690.1L3 694.2L4 699.1L5 700.9L6 703.7L7 710.5L8 717.7L9 718.2L10 721.2L11 724.2L12 724.3L13 724.8L14 726.1L15 735.6L16 739.9L17 743.8L18 749.2L19 752.7L20 759.2L21 763.6L22 764.4L23 765.2L24 770.4L25 775.9L26 781.0L27 785.3L28 790.2L29 794.2M30 790.4L31 792.9L32 801.6L33 810.9L34 817.3L35 819.6L36 826.3L37 833.9L38 845.4L39 862.6L40 878.2L41 897.1L42 920.2L43 945.7L44 971.6L45 998.9L46 1021.1L47 1036.9L48 1047.0L49 1058.7L50 1072.5L51 1081.5L52 1091.6L53 1098.8L54 1099.6L55 1102.0M63 1064.1L64 1067.7L65 1068.7L66 1069.5M70 1065.1L71 1066.3L72 1067.1L73 1068.1M75 1061.3L76 1061.4M80 1058.0L81 1058.7L82 1060.1L83 1062.3L84 1065.0L85 1067.1L86 1069.9L87 1074.1L88 1077.3L89 1082.2L90 1086.9L91 1090.6L92 1094.8L93 1097.8M94 1097.3L95 1099.9L96 1104.2L97 1108.4L98 1111.8L99 1115.3L100 1118.3L101 1120.6L102 1122.3L103 1126.1L104 1127.7L105 1129.2L106 1131.6L107 1134.7L108 1139.0L109 1141.0L110 1141.5M126 1089.2L127 1090.0M128 1088.1L129 1090.8L130 1096.5L131 1098.0M142 1083.8L143 1086.0M146 1078.5L147 1080.6L148 1084.3L149 1089.9L150 1093.1L151 1094.0" stroke="#ef5d29" stroke-width="0.8"/><path vector-effect="non-scaling-stroke" d="M29 794.2L30 790.4M55 1102.0L56 1098.7L57 1093.6L58 1086.4L59 1083.0L60 1076.7L61 1070.8L62 1064.8L63 1064.1M66 1069.5L67 1069.4L68 1068.0L69 1066.6L70 1065.1M73 1068.1L74 1063.8L75 1061.3M76 1061.4L77 1060.6L78 1059.8L79 1059.0L80 1058.0M93 1097.8L94 1097.3M110 1141.5L111 1139.8L112 1136.6L113 1133.1L114 1129.3L115 1125.6L116 1122.7L117 1119.0L118 1113.7L119 1110.1L120 1106.8L121 1103.2L122 1098.6L123 1093.5L124 1090.7L125 1089.3L126 1089.2M127 1090.0L128 1088.1M131 1098.0L132 1097.4L133 1096.5L134 1093.3L135 1092.1L136 1089.2L137 1087.3L138 1085.4L139 1085.2L140 1085.2L141 1084.2L142 1083.8M143 1086.0L144 1083.7L145 1079.4L146 1078.5M151 1094.0L152 1092.8" stroke="#2fbc7b" stroke-width="1.28"/><path vector-effect="non-scaling-stroke" d="M0 680.9L1 686.1L2 691.9L3 695.5L4 699.6L5 701.2L6 704.5L7 711.2L8 717.5L9 718.9L10 722.4L11 724.6L12 725.4L13 726.0L14 727.7L15 736.8L16 740.9L17 745.3L18 749.8L19 754.1L20 760.1L21 762.9L22 763.3L23 766.4L24 771.4L25 777.4L26 783.3L27 788.3L28 793.0L29 793.2M30 791.3L31 793.7L32 802.3L33 811.9L34 817.6L35 820.3L36 827.4L37 834.8L38 846.7L39 864.0L40 880.6L41 901.3L42 925.4L43 952.0L44 978.9L45 1005.8L46 1025.4L47 1041.0L48 1052.9L49 1066.3L50 1078.6L51 1087.7L52 1095.6L53 1099.9L54 1101.0L55 1102.3M63 1064.4L64 1068.2L65 1069.9M69 1065.6L70 1065.8L71 1066.9L72 1067.7M75 1061.7L76 1061.8M78 1058.1L79 1058.6M80 1058.3L81 1058.7L82 1059.8L83 1062.4L84 1064.8L85 1067.3L86 1070.3L87 1074.4L88 1078.5L89 1083.6L90 1088.2L91 1092.5L92 1096.3L93 1097.8L94 1098.9L95 1101.4L96 1105.0L97 1108.7L98 1112.2L99 1115.7L100 1118.7L101 1120.5L102 1122.6L103 1126.4L104 1128.3L105 1130.1L106 1132.8L107 1136.1L108 1140.7L109 1142.7M125 1089.0L126 1089.0L127 1089.7M128 1087.9L129 1090.7L130 1096.5L131 1098.2M141 1083.4L142 1084.3L143 1084.3M145 1078.0L146 1078.4L147 1080.7L148 1085.9L149 1090.6L150 1094.8L151 1095.6" stroke="#ef5f29" stroke-width="2.0"/><path vector-effect="non-scaling-stroke" d="M29 793.2L30 791.3M55 1102.3L56 1097.8L57 1091.4L58 1083.8L59 1079.7L60 1074.5L61 1068.4L62 1064.5L63 1064.4M65 1069.9L66 1069.8L67 1068.8L68 1067.5L69 1065.6M72 1067.7L73 1066.6L74 1063.3L75 1061.7M76 1061.8L77 1060.5L78 1058.1M79 1058.6L80 1058.3M109 1142.7L110 1142.1L111 1139.7L112 1136.1L113 1132.4L114 1128.6L115 1125.1L116 1121.8L117 1117.1L118 1112.7L119 1109.2L120 1105.5L121 1101.7L122 1096.5L123 1092.6L124 1090.4L125 1089.0M127 1089.7L128 1087.9M131 1098.2L132 1097.6L133 1096.8L134 1093.5L135 1092.3L136 1089.6L137 1087.4L138 1085.7L139 1085.5L140 1084.8L141 1083.4M143 1084.3L144 1080.3L145 1078.0M151 1095.6L152 1094.2" stroke="#30bd7d" stroke-width="2.00"/><path vector-effect="non-scaling-stroke" d="M0 682.5L1 688.5L2 693.7L3 696.7L4 700.0L5 701.5L6 705.2L7 712.0L8 717.3L9 719.7L10 723.6L11 724.9L12 726.5L13 727.2L14 729.2L15 738.0L16 741.8L17 746.9L18 750.3L19 755.5L20 761.0L21 762.2M22 762.1L23 767.6L24 772.4L25 778.9L26 785.6L27 791.4L28 795.9M29 792.1L30 792.2L31 794.5L32 803.0L33 812.8L34 817.8L35 821.0L36 828.5L37 835.7L38 848.0L39 865.3L40 883.0L41 905.5L42 930.6L43 958.2L44 986.3L45 1012.8L46 1029.7L47 1045.1L48 1058.9L49 1073.9L50 1084.7L51 1093.8L52 1099.6L53 1101.0L54 1102.5L55 1102.5M62 1064.2L63 1064.7L64 1068.8L65 1071.0M69 1064.6L70 1066.5L71 1067.6L72 1068.4M75 1062.2L76 1062.3M78 1056.3L79 1058.3L80 1058.7L81 1058.7L82 1059.6L83 1062.5L84 1064.5L85 1067.4L86 1070.6L87 1074.8L88 1079.6L89 1085.1L90 1089.5L91 1094.4L92 1097.9M93 1097.9L94 1100.5L95 1102.8L96 1105.9L97 1109.0L98 1112.6L99 1116.2L100 1119.2L101 1120.5L102 1123.0L103 1126.7L104 1128.8L105 1130.9L106 1133.9L107 1137.5L108 1142.5L109 1144.4M125 1088.7L126 1088.8L127 1089.4M128 1087.6L129 1090.6L130 1096.5L131 1098.4M141 1082.6L142 1084.7M145 1076.6L146 1078.2L147 1080.7L148 1087.6L149 1091.4L150 1096.5L151 1097.2" stroke="#f0612a" stroke-width="2.0"/><path vector-effect="non-scaling-stroke" d="M21 762.2L22 762.1M28 795.9L29 792.1M55 1102.5L56 1096.8L57 1089.1L58 1081.2L59 1076.4L60 1072.3L61 1066.0L62 1064.2M65 1071.0L66 1070.1L67 1068.1L68 1067.1L69 1064.6M72 1068.4L73 1065.2L74 1062.7L75 1062.2M76 1062.3L77 1060.5L78 1056.3M92 1097.9L93 1097.9M109 1144.4L110 1142.8L111 1139.6L112 1135.6L113 1131.7L114 1127.9L115 1124.5L116 1120.9L117 1115.3L118 1111.7L119 1108.3L120 1104.3L121 1100.1L122 1094.3L123 1091.6L124 1090.0L125 1088.7M127 1089.4L128 1087.6M131 1098.4L132 1097.8L133 1097.2L134 1093.8L135 1092.4L136 1090.0L137 1087.6L138 1085.9L139 1085.7L140 1084.3L141 1082.6M142 1084.7L143 1082.5L144 1076.9L145 1076.6M151 1097.2L152 1095.5" stroke="#31be7f" stroke-width="2.00"/><path vector-effect="non-scaling-stroke" d="M0 685.0L1 690.4L2 695.1L3 697.1L4 700.3L5 702.3L6 705.9L7 711.5L8 718.0L9 720.9L10 723.9L11 726.1L12 727.9L13 728.9L14 730.3L15 739.0L16 743.4L17 747.4L18 751.8L19 756.3L20 760.1L21 760.8L22 763.3L23 768.5L24 773.8L25 781.3L26 788.9L27 794.5L28 794.8M30 792.9L31 795.0L32 803.7L33 812.9L34 818.5L35 821.9L36 829.3L37 836.7L38 848.8L39 867.4L40 887.0L41 910.6L42 936.8L43 965.6L44 993.3L45 1017.1L46 1033.8L47 1051.4L48 1067.1L49 1080.6L50 1091.4L51 1098.2L52 1100.8L53 1102.6L54 1102.8M62 1064.5L63 1065.2L64 1070.0L65 1071.4M69 1065.3L70 1067.1L71 1068.3M78 1055.8L79 1058.7M81 1058.4L82 1059.6L83 1062.1L84 1064.6L85 1067.6L86 1070.9L87 1075.9L88 1081.1L89 1086.4L90 1091.5L91 1096.1L92 1097.9L93 1099.6L94 1102.0L95 1103.7L96 1106.2L97 1109.3L98 1113.0L99 1116.6L100 1119.1L101 1120.7L102 1123.1L103 1127.3L104 1129.7L105 1132.1L106 1135.4L107 1139.3L108 1144.4L109 1145.3M126 1088.4L127 1089.2M128 1087.4L129 1090.4L130 1096.6L131 1098.7M144 1075.3L145 1076.3L146 1078.2L147 1082.3L148 1088.3L149 1093.2L150 1098.4L151 1098.8" stroke="#f0632b" stroke-width="2.0"/><path vector-effect="non-scaling-stroke" d="M28 794.8L29 793.1L30 792.9M54 1102.8L55 1101.6L56 1094.5L57 1086.4L58 1077.6L59 1074.1L60 1069.8L61 1065.7L62 1064.5M65 1071.4L66 1069.4L67 1067.6L68 1066.0L69 1065.3M71 1068.3L72 1066.8L73 1064.6L74 1063.2L75 1062.7L76 1062.2L77 1058.6L78 1055.8M79 1058.7L80 1058.6L81 1058.4M109 1145.3L110 1142.8L111 1139.1L112 1134.9L113 1131.1L114 1127.5L115 1123.6L116 1119.0L117 1114.3L118 1110.8L119 1107.0L120 1102.7L121 1097.8L122 1093.3L123 1091.3L124 1089.7L125 1088.4L126 1088.4M127 1089.2L128 1087.4M131 1098.7L132 1098.2L133 1097.6L134 1094.0L135 1093.0L136 1090.3L137 1087.9L138 1086.2L139 1085.3L140 1083.5L141 1083.1L142 1082.8L143 1078.8L144 1075.3M151 1098.8L152 1096.3" stroke="#32bf82" stroke-width="2.00"/><path vector-effect="non-scaling-stroke" d="M0 687.6L1 692.3L2 696.4L3 697.5L4 700.7L5 703.0L6 706.5L7 711.1L8 718.8L9 722.1L10 724.2L11 727.3L12 729.3L13 730.7L14 731.4L15 740.0L16 745.0L17 748.0L18 753.2L19 757.1L20 759.2L21 759.5L22 764.5L23 769.5L24 775.3L25 783.7L26 792.2L27 797.6M28 793.7L29 794.2M30 793.7L31 795.5L32 804.4L33 812.9L34 819.1L35 822.9L36 830.1L37 837.8L38 849.7L39 869.5L40 890.9L41 915.7L42 942.9L43 973.0L44 1000.3L45 1021.4L46 1038.0L47 1057.7L48 1075.3L49 1087.2L50 1098.2L51 1102.5M52 1102.0L53 1104.2M62 1064.8L63 1065.7L64 1071.2L65 1071.8M68 1065.0L69 1066.0L70 1067.8L71 1069.0M78 1055.4L79 1059.1M81 1058.1L82 1059.6L83 1061.8L84 1064.6L85 1067.9L86 1071.1L87 1077.1L88 1082.5L89 1087.8L90 1093.5L91 1097.7L92 1098.0L93 1101.3L94 1103.6L95 1104.6L96 1106.4L97 1109.6L98 1113.3L99 1117.0L100 1119.0L101 1121.0L102 1123.3L103 1127.8L104 1130.6L105 1133.3L106 1136.8L107 1141.2L108 1146.3M126 1088.0L127 1088.9M128 1087.2L129 1090.1L130 1096.8L131 1099.0M140 1082.6L141 1083.6M144 1073.6L145 1076.0L146 1078.2L147 1084.0L148 1089.1L149 1095.0L150 1100.2L151 1100.5" stroke="#f0642c" stroke-width="2.0"/><path vector-effect="non-scaling-stroke" d="M27 797.6L28 793.7M29 794.2L30 793.7M51 1102.5L52 1102.0M53 1104.2L54 1103.1L55 1100.8L56 1092.2L57 1083.7L58 1074.0L59 1071.7L60 1067.3L61 1065.4L62 1064.8M65 1071.8L66 1068.8L67 1067.2L68 1065.0M71 1069.0L72 1065.3L73 1064.0L74 1063.7L75 1063.2L76 1062.2L77 1056.7L78 1055.4M79 1059.1L80 1058.6L81 1058.1M108 1146.3L109 1146.1L110 1142.8L111 1138.7L112 1134.2L113 1130.5L114 1127.0L115 1122.7L116 1117.1L117 1113.2L118 1109.9L119 1105.7L120 1101.1L121 1095.6L122 1092.3L123 1091.0L124 1089.4L125 1088.2L126 1088.0M127 1088.9L128 1087.2M131 1099.0L132 1098.6L133 1098.0L134 1094.3L135 1093.5L136 1090.6L137 1088.3L138 1086.5L139 1084.8L140 1082.6M141 1083.6L142 1080.9L143 1075.1L144 1073.6M151 1100.5L152 1097.0" stroke="#33c084" stroke-width="2.00"/><path vector-effect="non-scaling-stroke" d="M0 689.6L1 693.7L2 696.8L3 697.7L4 701.4L5 703.6L6 705.8L7 711.7L8 720.1L9 722.4L10 725.5L11 728.9L12 731.2L13 731.9L14 732.2L15 741.6L16 745.5L17 749.4L18 754.0L19 756.0L20 757.6L21 760.7L22 765.4L23 771.0L24 777.8L25 787.2L26 795.6L27 796.5M28 794.9L29 795.1M30 794.2L31 795.9L32 804.2L33 813.4L34 820.1L35 823.5L36 830.9L37 838.3L38 851.3L39 873.2L40 895.8L41 921.7L42 950.2L43 980.0L44 1004.4L45 1025.5L46 1044.5L47 1066.6L48 1082.6L49 1094.6L50 1103.1L51 1104.0M52 1103.8L53 1104.6M62 1065.3L63 1066.9L64 1071.7M68 1065.8L69 1066.8L70 1068.6M72 1064.7L73 1064.7M78 1055.7L79 1059.0M81 1058.0L82 1059.1L83 1061.7L84 1064.8L85 1068.1L86 1072.2L87 1078.5L88 1083.9L89 1089.9L90 1095.3L91 1097.8L92 1099.9L93 1103.0L94 1104.6L95 1104.8L96 1106.6L97 1109.9L98 1113.6L99 1116.8L100 1119.2L101 1121.1L102 1123.8L103 1128.7L104 1131.9L105 1134.8L106 1138.8L107 1143.2L108 1147.3M125 1087.7L126 1087.7L127 1088.8M128 1086.8L129 1090.1L130 1097.0L131 1099.4M144 1073.2L145 1076.0L146 1079.8L147 1084.6L148 1090.9L149 1097.0L150 1102.1" stroke="#f1662d" stroke-width="2.0"/><path vector-effect="non-scaling-stroke" d="M27 796.5L28 794.9M29 795.1L30 794.2M51 1104.0L52 1103.8M53 1104.6L54 1102.2L55 1098.4L56 1089.4L57 1079.9L58 1071.3L59 1069.0L60 1067.0L61 1065.8L62 1065.3M64 1071.7L65 1071.1L66 1068.3L67 1066.0L68 1065.8M70 1068.6L71 1067.4L72 1064.7M73 1064.7L74 1064.4L75 1063.2L76 1060.2L77 1056.2L78 1055.7M79 1059.0L80 1058.3L81 1058.0M108 1147.3L109 1146.2L110 1142.4L111 1138.1L112 1133.6L113 1130.1L114 1126.1L115 1120.7L116 1116.0L117 1112.3L118 1108.5L119 1104.0L120 1098.6L121 1094.5L122 1092.0L123 1090.7L124 1089.2L125 1087.7M127 1088.8L128 1086.8M131 1099.4L132 1099.1L133 1098.5L134 1095.0L135 1094.0L136 1091.1L137 1088.7L138 1086.0L139 1083.9L140 1083.1L141 1081.4L142 1076.8L143 1073.3L144 1073.2M150 1102.1L151 1101.5L152 1097.8" stroke="#33c286" stroke-width="2.00"/><path vector-effect="non-scaling-stroke" d="M0 691.6L1 695.0L2 697.2L3 698.0L4 702.2L5 704.2L6 705.0L7 712.3L8 721.3L9 722.7L10 726.8L11 730.4L12 733.2M14 733.0L15 743.3L16 746.0L17 750.9L18 754.8L19 754.9L20 756.0L21 761.8L22 766.3L23 772.5L24 780.3L25 790.7L26 799.0M27 795.4L28 796.0L29 796.0M30 794.8L31 796.3L32 803.9L33 814.0L34 821.1L35 824.1L36 831.8L37 838.8L38 853.0L39 877.0L40 900.7L41 927.7L42 957.6L43 987.0L44 1008.6L45 1029.7L46 1051.0L47 1075.4L48 1089.8L49 1102.0L50 1108.0M51 1105.4L52 1105.6M59 1066.2L60 1066.8M62 1065.9L63 1068.1L64 1072.1M67 1064.9L68 1066.5L69 1067.5L70 1069.4M72 1064.0L73 1065.3M77 1055.8L78 1056.0L79 1059.0M80 1058.0L81 1058.0L82 1058.6L83 1061.6L84 1065.0L85 1068.3L86 1073.3L87 1080.0L88 1085.3L89 1091.9L90 1097.0L91 1097.8L92 1101.7L93 1104.7L94 1105.6M95 1105.0L96 1106.9L97 1110.1L98 1114.0L99 1116.6L100 1119.4L101 1121.3L102 1124.3L103 1129.7L104 1133.1L105 1136.4L106 1140.7L107 1145.2L108 1148.2M125 1087.3L126 1087.4L127 1088.6M128 1086.4L129 1090.0L130 1097.3L131 1099.9M139 1083.0L140 1083.6M143 1071.4L144 1072.8L145 1075.9L146 1081.5L147 1085.3L148 1092.8L149 1098.9L150 1104.0" stroke="#f1682e" stroke-width="2.0"/><path vector-effect="non-scaling-stroke" d="M12 733.2L13 733.2L14 733.0M26 799.0L27 795.4M29 796.0L30 794.8M50 1108.0L51 1105.4M52 1105.6L53 1105.0L54 1101.2L55 1096.1L56 1086.6L57 1076.1L58 1068.7L59 1066.2M60 1066.8L61 1066.2L62 1065.9M64 1072.1L65 1070.4L66 1067.8L67 1064.9M70 1069.4L71 1065.7L72 1064.0M73 1065.3L74 1065.0L75 1063.2L76 1058.3L77 1055.8M79 1059.0L80 1058.0M94 1105.6L95 1105.0M108 1148.2L109 1146.3L110 1142.0L111 1137.5L112 1133.1L113 1129.7L114 1125.2L115 1118.8L116 1115.0L117 1111.4L118 1107.2L119 1102.3L120 1096.2L121 1093.5L122 1091.6L123 1090.4L124 1088.9L125 1087.3M127 1088.6L128 1086.4M131 1099.9L132 1099.7L133 1098.9L134 1095.6L135 1094.4L136 1091.6L137 1089.1L138 1085.6L139 1083.0M140 1083.6L141 1079.3L142 1072.7L143 1071.4M150 1104.0L151 1102.5L152 1098.6" stroke="#34c388" stroke-width="2.00"/><path vector-effect="non-scaling-stroke" d="M0 693.1L1 695.4L2 697.4L3 698.7L4 702.8L5 703.3L6 705.4L7 713.3L8 721.6L9 724.1L10 728.4L11 732.6L12 734.7M13 734.1L14 734.5L15 743.7L16 747.5L17 751.6L18 753.5M19 753.0L20 757.2L21 762.7L22 767.8L23 775.1L24 783.9L25 794.3L26 797.9M27 796.7L28 797.2M30 795.2L31 795.7L32 804.0L33 814.8L34 821.6L35 824.8L36 832.1L37 840.1L38 856.3L39 881.7L40 906.6L41 935.0L42 964.6L43 990.9L44 1012.5L45 1036.4L46 1060.4L47 1083.3L48 1098.0L49 1107.6L50 1109.8M58 1065.5L59 1065.9L60 1067.2M61 1066.8L62 1067.2L63 1068.4L64 1071.4M67 1065.7L68 1067.4L69 1068.3M72 1064.7L73 1066.1M78 1055.8L79 1058.7M81 1057.3L82 1058.3L83 1061.6L84 1065.0L85 1069.3L86 1074.7L87 1081.3L88 1087.4L89 1093.8L90 1097.1L91 1099.8L92 1103.6L93 1105.9M95 1105.2L96 1107.0L97 1110.3L98 1113.6L99 1116.7L100 1119.5L101 1121.7L102 1125.1L103 1131.0L104 1134.8L105 1138.5L106 1142.9L107 1146.2L108 1148.5M125 1086.9L126 1087.2L127 1088.3M128 1086.2L129 1089.9L130 1097.7L131 1100.5M142 1070.6L143 1070.9L144 1072.6L145 1077.5L146 1082.1L147 1087.1L148 1094.8L149 1100.9L150 1105.3" stroke="#f26a2f" stroke-width="0.8"/><path vector-effect="non-scaling-stroke" d="M12 734.7L13 734.1M18 753.5L19 753.0M26 797.9L27 796.7M28 797.2L29 796.7L30 795.2M50 1109.8L51 1107.5L52 1106.1L53 1104.1L54 1098.7L55 1093.2L56 1082.6L57 1073.3L58 1065.5M60 1067.2L61 1066.8M64 1071.4L65 1070.0L66 1066.6L67 1065.7M69 1068.3L70 1067.7L71 1065.1L72 1064.7M73 1066.1L74 1065.1L75 1061.1L76 1057.8L77 1056.1L78 1055.8M79 1058.7L80 1057.9L81 1057.3M93 1105.9L94 1105.9L95 1105.2M108 1148.5L109 1146.1L110 1141.5L111 1137.0L112 1132.8L113 1128.8L114 1123.2L115 1117.7L116 1114.1L117 1110.0L118 1105.4L119 1099.7L120 1095.1L121 1093.2L122 1091.4L123 1090.2L124 1088.5L125 1086.9M127 1088.3L128 1086.2M131 1100.5L132 1100.2L133 1099.8L134 1096.2L135 1095.2L136 1092.2L137 1088.7L138 1084.6L139 1083.5L140 1081.3L141 1074.8L142 1070.6M150 1105.3L151 1103.6L152 1099.3" stroke="#35c48b" stroke-width="1.28"/><path vector-effect="non-scaling-stroke" d="M0 694.5L1 695.8L2 697.7L3 699.4L4 703.4M5 702.4L6 705.8L7 714.4L8 721.9L9 725.4L10 730.1L11 734.8L12 736.2M13 735.1L14 735.9L15 744.2L16 749.0L17 752.4M19 751.1L20 758.3L21 763.6L22 769.2L23 777.6L24 787.6L25 798.0M26 796.8L27 798.1L28 798.3M31 795.0L32 804.2L33 815.6L34 822.2L35 825.5L36 832.4L37 841.4L38 859.6L39 886.4L40 912.4L41 942.4L42 971.6L43 994.8L44 1016.5L45 1043.2L46 1069.8L47 1091.2L48 1106.2L49 1113.1M58 1062.4L59 1065.5L60 1067.7M61 1067.4L62 1068.5L63 1068.7L64 1070.6M66 1065.4L67 1066.6L68 1068.2L69 1069.2M71 1064.4L72 1065.4L73 1066.8M78 1055.6L79 1058.4M81 1056.7L82 1058.1L83 1061.7L84 1065.1L85 1070.4L86 1076.2L87 1082.7L88 1089.6L89 1095.7L90 1097.1L91 1101.9L92 1105.5L93 1107.0M95 1105.4L96 1107.2L97 1110.5L98 1113.2L99 1116.8L100 1119.6L101 1122.1L102 1125.9L103 1132.3L104 1136.5L105 1140.6L106 1145.1L107 1147.2L108 1148.7M125 1086.6L126 1086.9L127 1087.9M128 1085.9L129 1089.9L130 1098.1L131 1101.2M132 1100.8L133 1100.8M138 1083.6L139 1084.1M142 1068.5L143 1070.4L144 1072.3L145 1079.2L146 1082.7L147 1089.0L148 1096.8L149 1102.9L150 1106.6" stroke="#f26c30" stroke-width="0.8"/><path vector-effect="non-scaling-stroke" d="M4 703.4L5 702.4M12 736.2L13 735.1M17 752.4L18 752.2L19 751.1M25 798.0L26 796.8M28 798.3L29 797.4L30 795.6L31 795.0M49 1113.1L50 1111.6L51 1109.7L52 1106.6L53 1103.2L54 1096.2L55 1090.3L56 1078.6L57 1070.5L58 1062.4M60 1067.7L61 1067.4M64 1070.6L65 1069.6L66 1065.4M69 1069.2L70 1065.9L71 1064.4M73 1066.8L74 1065.1L75 1059.0L76 1057.4L77 1056.4L78 1055.6M79 1058.4L80 1057.8L81 1056.7M93 1107.0L94 1106.1L95 1105.4M108 1148.7L109 1145.9L110 1141.0L111 1136.5L112 1132.4L113 1128.0L114 1121.1L115 1116.7L116 1113.2L117 1108.6L118 1103.7L119 1097.2L120 1094.0L121 1092.9L122 1091.1L123 1089.9L124 1088.0L125 1086.6M127 1087.9L128 1085.9M131 1101.2L132 1100.8M133 1100.8L134 1096.8L135 1095.9L136 1092.8L137 1088.4L138 1083.6M139 1084.1L140 1078.9L141 1070.2L142 1068.5M150 1106.6L151 1104.8L152 1100.1" stroke="#36c58d" stroke-width="1.28"/><path vector-effect="non-scaling-stroke" d="M0 694.9L1 696.0L2 698.5L3 699.9L4 702.4L5 702.7L6 706.6L7 714.4L8 723.4L9 727.1L10 732.5L11 736.5L12 737.4M14 736.1L15 745.8L16 749.7L17 750.8M18 749.9L19 752.1L20 759.1L21 765.1L22 771.9L23 781.5L24 791.4L25 796.7L26 798.3L27 799.4M31 794.7L32 804.6L33 816.0L34 822.9L35 825.5L36 833.5L37 844.4L38 863.9L39 892.1L40 919.8L41 949.3L42 975.1L43 998.5L44 1023.2L45 1053.1L46 1078.2L47 1100.3L48 1112.5L49 1115.3M58 1061.8L59 1066.0L60 1068.5L61 1069.0M63 1067.8L64 1070.2M66 1066.3L67 1067.5L68 1069.1M70 1065.2L71 1065.2L72 1066.3L73 1067.0M78 1055.1L79 1058.3M81 1056.3L82 1058.0L83 1061.6L84 1066.1L85 1071.8L86 1077.5L87 1085.0L88 1091.5L89 1095.6L90 1099.3L91 1104.0L92 1106.8L93 1107.4M95 1105.5L96 1107.2L97 1110.0L98 1113.2L99 1116.8L100 1120.0L101 1122.9L102 1127.2L103 1134.2L104 1138.8L105 1143.0L106 1146.2L107 1147.4L108 1148.6M125 1086.2L126 1086.5L127 1087.7M128 1085.6L129 1090.0L130 1098.7L131 1101.8L132 1101.9M142 1067.7L143 1070.0L144 1074.0L145 1079.8L146 1084.6L147 1091.0L148 1098.9L149 1104.2L150 1108.0" stroke="#f26e32" stroke-width="0.8"/><path vector-effect="non-scaling-stroke" d="M12 737.4L13 736.7L14 736.1M17 750.8L18 749.9M27 799.4L28 799.1L29 798.0L30 794.9L31 794.7M49 1115.3L50 1114.3L51 1110.4L52 1105.6L53 1100.5L54 1093.0L55 1086.0L56 1075.6L57 1067.1L58 1061.8M61 1069.0L62 1068.9L63 1067.8M64 1070.2L65 1068.3L66 1066.3M68 1069.1L69 1067.2L70 1065.2M73 1067.0L74 1062.9L75 1058.6L76 1057.8L77 1056.2L78 1055.1M79 1058.3L80 1057.1L81 1056.3M93 1107.4L94 1106.4L95 1105.5M108 1148.6L109 1145.5L110 1140.7L111 1136.3L112 1131.7L113 1125.9L114 1120.1L115 1115.7L116 1111.7L117 1106.8L118 1100.9L119 1096.0L120 1093.7L121 1092.6L122 1090.8L123 1089.5L124 1087.7L125 1086.2M127 1087.7L128 1085.6M132 1101.9L133 1101.7L134 1097.7L135 1096.8L136 1092.5L137 1087.4L138 1084.3L139 1081.6L140 1074.0L141 1067.8L142 1067.7M150 1108.0L151 1105.9L152 1100.1" stroke="#37c68f" stroke-width="1.28"/><path vector-effect="non-scaling-stroke" d="M0 695.3L1 696.2L2 699.2L3 700.4L4 701.4L5 702.9L6 707.5L7 714.4L8 724.8L9 728.8L10 734.9L11 738.2L12 738.6M14 736.2L15 747.3L16 750.5M18 747.7L19 753.0L20 759.9L21 766.6L22 774.6L23 785.4L24 795.3L25 795.4L26 799.9L27 800.7M30 794.1L31 794.4L32 805.0L33 816.3L34 823.5L35 825.5L36 834.6L37 847.5L38 868.2L39 897.9L40 927.1L41 956.2L42 978.6L43 1002.2L44 1030.0L45 1063.0L46 1086.6L47 1109.4L48 1118.8M58 1061.2L59 1066.5L60 1069.3L61 1070.5M63 1066.8L64 1069.7M65 1067.0L66 1067.3L67 1068.4L68 1070.1M70 1064.4L71 1066.0L72 1067.1L73 1067.2M75 1058.1L76 1058.3M78 1054.6L79 1058.2M81 1056.0L82 1057.9L83 1061.5L84 1067.1L85 1073.2L86 1078.8L87 1087.2L88 1093.4L89 1095.6L90 1101.4L91 1106.0L92 1108.1M95 1105.6L96 1107.3L97 1109.4L98 1113.2L99 1116.7L100 1120.3L101 1123.7L102 1128.5L103 1136.0L104 1141.2L105 1145.4L106 1147.3L107 1147.6L108 1148.4M125 1085.9L126 1086.0L127 1087.5M128 1085.3L129 1090.0L130 1099.4L131 1102.5L132 1103.0M141 1065.3L142 1067.0L143 1069.6L144 1075.7L145 1080.3L146 1086.5L147 1093.0L148 1101.0L149 1105.6L150 1109.4" stroke="#f27134" stroke-width="0.8"/><path vector-effect="non-scaling-stroke" d="M12 738.6L13 738.4L14 736.2M16 750.5L17 749.3L18 747.7M27 800.7L28 800.0L29 798.6L30 794.1M48 1118.8L49 1117.6L50 1116.9L51 1111.1L52 1104.7L53 1097.8L54 1089.8L55 1081.8L56 1072.7L57 1063.8L58 1061.2M61 1070.5L62 1069.3L63 1066.8M64 1069.7L65 1067.0M68 1070.1L69 1065.3L70 1064.4M73 1067.2L74 1060.8L75 1058.1M76 1058.3L77 1056.1L78 1054.6M79 1058.2L80 1056.4L81 1056.0M92 1108.1L93 1107.7L94 1106.6L95 1105.6M108 1148.4L109 1145.1L110 1140.3L111 1136.1L112 1130.9L113 1123.7L114 1119.0L115 1114.8L116 1110.3L117 1104.9L118 1098.1L119 1094.8L120 1093.4L121 1092.4L122 1090.6L123 1089.0L124 1087.3L125 1085.9M127 1087.5L128 1085.3M132 1103.0L133 1102.6L134 1098.7L135 1097.6L136 1092.3L137 1086.5L138 1085.0L139 1079.0L140 1069.0L141 1065.3M150 1109.4L151 1106.9L152 1100.1" stroke="#38c792" stroke-width="1.28"/><path vector-effect="non-scaling-stroke" d="M0 695.5L1 697.0L2 699.8M3 699.1L4 701.6L5 703.7L6 707.1L7 715.6L8 726.7L9 731.4L10 736.8L11 739.6L12 740.6M14 737.5L15 748.1L16 748.6M17 746.6L18 748.6L19 753.6L20 761.3L21 769.4L22 778.7L23 789.5L24 793.7L25 797.0L26 801.5L27 801.8M30 793.8L31 794.4L32 804.8L33 816.7L34 823.4L35 826.3L36 837.6L37 851.6L38 873.6L39 905.2L40 933.9L41 959.2L42 981.8L43 1008.9L44 1040.3L45 1072.0L46 1096.4L47 1116.6L48 1121.6M58 1061.5L59 1067.3L60 1071.1M63 1066.1L64 1068.3M65 1068.2L66 1068.3L67 1069.5M69 1064.4L70 1065.3L71 1066.9L72 1067.3M78 1054.3L79 1057.4M81 1055.7L82 1057.6L83 1062.4L84 1068.5L85 1074.5L86 1081.1L87 1089.2L88 1093.3L89 1097.9L90 1103.8L91 1107.5L92 1108.6M95 1105.6L96 1106.5L97 1109.2L98 1113.0L99 1117.0L100 1121.1L101 1125.0L102 1130.3L103 1138.5L104 1143.9L105 1146.6L106 1147.5M107 1147.4L108 1148.2M125 1085.3L126 1085.6L127 1087.3M128 1085.2L129 1090.3L130 1100.0L131 1103.9L132 1104.2M141 1064.3L142 1066.4L143 1071.3L144 1076.1L145 1082.3L146 1088.6L147 1095.1L148 1102.4L149 1107.1L150 1110.9" stroke="#f37436" stroke-width="0.8"/><path vector-effect="non-scaling-stroke" d="M2 699.8L3 699.1M12 740.6L13 738.8L14 737.5M16 748.6L17 746.6M27 801.8L28 800.8L29 797.9L30 793.8M48 1121.6L49 1120.9L50 1118.1L51 1110.3L52 1101.8L53 1094.3L54 1085.1L55 1078.7L56 1069.0L57 1063.2L58 1061.5M60 1071.1L61 1071.0L62 1068.2L63 1066.1M64 1068.3L65 1068.2M67 1069.5L68 1068.0L69 1064.4M72 1067.3L73 1064.8L74 1060.3L75 1058.7L76 1058.2L77 1055.5L78 1054.3M79 1057.4L80 1055.9L81 1055.7M92 1108.6L93 1108.1L94 1106.8L95 1105.6M106 1147.5L107 1147.4M108 1148.2L109 1145.0L110 1140.4L111 1135.5L112 1128.7L113 1122.7L114 1118.2L115 1113.3L116 1108.3L117 1101.8L118 1096.8L119 1094.5L120 1093.1L121 1092.2L122 1090.2L123 1088.7L124 1087.0L125 1085.3M127 1087.3L128 1085.2M132 1104.2L133 1104.0L134 1099.8L135 1097.6L136 1091.5L137 1087.4L138 1082.2L139 1073.5L140 1066.2L141 1064.3M150 1110.9L151 1107.3L152 1099.8" stroke="#38c894" stroke-width="1.28"/><path vector-effect="non-scaling-stroke" d="M0 695.7L1 697.8L2 700.3M3 697.9L4 701.8L5 704.6L6 706.7L7 716.7L8 728.5L9 734.1L10 738.7L11 741.1L12 742.7M14 738.8L15 748.8M17 743.9L18 749.5L19 754.2L20 762.8L21 772.2L22 782.9L23 793.7M24 792.1L25 798.7L26 803.0M30 793.4L31 794.3L32 804.6L33 817.1L34 823.3L35 827.1L36 840.6L37 855.7L38 878.9L39 912.5L40 940.8L41 962.3L42 984.9L43 1015.6L44 1050.5L45 1080.9L46 1106.3L47 1123.8L48 1124.4M58 1061.8L59 1068.1L60 1072.9M63 1065.3L64 1066.9L65 1069.4L66 1069.4L67 1070.6M69 1063.6L70 1066.2L71 1067.9M78 1054.0L79 1056.7M80 1055.5L81 1055.5L82 1057.2L83 1063.3L84 1069.8L85 1075.8L86 1083.4L87 1091.2L88 1093.1L89 1100.3L90 1106.1L91 1109.0L92 1109.0M95 1105.5L96 1105.7L97 1109.0L98 1112.7L99 1117.3L100 1121.9L101 1126.4L102 1132.1L103 1141.1L104 1146.6L105 1147.9M107 1147.2L108 1147.9M125 1084.7L126 1085.3L127 1087.0M128 1085.1L129 1090.5L130 1100.6L131 1105.2L132 1105.3L133 1105.3M141 1063.3L142 1065.8L143 1073.0L144 1076.5L145 1084.3L146 1090.7L147 1097.2L148 1103.8L149 1108.7L150 1112.4" stroke="#f37638" stroke-width="0.8"/><path vector-effect="non-scaling-stroke" d="M2 700.3L3 697.9M12 742.7L13 739.1L14 738.8M15 748.8L16 746.8L17 743.9M23 793.7L24 792.1M26 803.0L27 802.9L28 801.6L29 797.3L30 793.4M48 1124.4L49 1124.1L50 1119.4L51 1109.5L52 1098.9L53 1090.9L54 1080.3L55 1075.6L56 1065.4L57 1062.6L58 1061.8M60 1072.9L61 1071.5L62 1067.2L63 1065.3M67 1070.6L68 1065.9L69 1063.6M71 1067.9L72 1067.5L73 1062.5L74 1059.9L75 1059.2L76 1058.1L77 1055.0L78 1054.0M79 1056.7L80 1055.5M92 1109.0L93 1108.5L94 1107.0L95 1105.5M105 1147.9L106 1147.8L107 1147.2M108 1147.9L109 1144.8L110 1140.4L111 1134.8L112 1126.5L113 1121.7L114 1117.3L115 1111.8L116 1106.3L117 1098.8L118 1095.6L119 1094.3L120 1092.9L121 1092.0L122 1089.7L123 1088.4L124 1086.7L125 1084.7M127 1087.0L128 1085.1M133 1105.3L134 1100.9L135 1097.7L136 1090.7L137 1088.3L138 1079.4L139 1068.0L140 1063.4L141 1063.3M150 1112.4L151 1107.7L152 1099.6" stroke="#39c996" stroke-width="1.28"/><path vector-effect="non-scaling-stroke" d="M0 696.6L1 698.3L2 698.9M3 697.9L4 702.7L5 703.9L6 707.5L7 718.4L8 731.5L9 736.1L10 740.3L11 743.6M14 739.1L15 746.6M16 743.6L17 744.7L18 749.9L19 755.5L20 765.7L21 776.7L22 787.4L23 791.8L24 793.7L25 800.4L26 804.4M30 793.2L31 793.4L32 804.3L33 816.6L34 824.1L35 830.1L36 844.8L37 861.0L38 886.0L39 919.3L40 943.2L41 964.8L42 991.4L43 1026.3L44 1059.9L45 1091.7L46 1114.2L47 1127.2L48 1128.5M58 1062.4L59 1070.0L60 1073.6M63 1063.5L64 1068.2L65 1070.6L66 1070.6M69 1064.5L70 1067.3L71 1068.2M78 1052.9L79 1056.2M81 1055.0L82 1058.0L83 1064.6L84 1071.1L85 1078.2L86 1085.4L87 1090.9L88 1095.6L89 1102.8L90 1107.7L91 1109.6M95 1104.5L96 1105.2L97 1108.4L98 1112.7L99 1118.0L100 1123.3L101 1128.3L102 1134.8L103 1144.1L104 1148.0L105 1148.2M107 1146.8L108 1147.9M125 1084.3L126 1084.9L127 1087.0M128 1085.0L129 1090.7L130 1102.1L131 1106.6L132 1107.0M140 1062.1L141 1062.4L142 1067.4L143 1073.3L144 1078.5L145 1086.5L146 1093.0L147 1098.6L148 1105.4L149 1110.3L150 1113.1" stroke="#f3793a" stroke-width="2.0"/><path vector-effect="non-scaling-stroke" d="M2 698.9L3 697.9M11 743.6L12 743.3L13 740.7L14 739.1M15 746.6L16 743.6M26 804.4L27 804.0L28 801.0L29 797.1L30 793.2M48 1128.5L49 1126.0L50 1119.0L51 1106.6L52 1095.1L53 1085.6L54 1076.8L55 1071.7L56 1064.9L57 1063.0L58 1062.4M60 1073.6L61 1070.5L62 1066.4L63 1063.5M66 1070.6L67 1068.2L68 1064.9L69 1064.5M71 1068.2L72 1064.9L73 1062.1L74 1060.6L75 1059.2L76 1057.6L77 1054.7L78 1052.9M79 1056.2L80 1055.2L81 1055.0M91 1109.6L92 1109.5L93 1108.8L94 1107.1L95 1104.5M105 1148.2L106 1147.5L107 1146.8M108 1147.9L109 1145.1L110 1139.9L111 1132.6L112 1125.5L113 1120.9L114 1115.7L115 1109.6L116 1103.0L117 1097.5L118 1095.3L119 1094.0L120 1092.7L121 1091.6L122 1089.4L123 1088.1L124 1086.1L125 1084.3M127 1087.0L128 1085.0M132 1107.0L133 1107.0L134 1101.1L135 1097.1L136 1092.0L137 1085.4L138 1073.2L139 1064.8L140 1062.1M150 1113.1L151 1107.9L152 1099.6" stroke="#3aca98" stroke-width="2.00"/><path vector-effect="non-scaling-stroke" d="M0 697.4L1 698.8M2 697.4L3 697.9L4 703.5M5 703.3L6 708.4L7 720.0L8 734.4L9 738.2L10 742.0L11 746.0M14 739.4L15 744.4M16 740.5L17 745.5L18 750.4L19 756.8L20 768.6L21 781.2L22 791.9M23 789.9L24 795.4L25 802.1L26 805.7M31 792.5L32 804.0L33 816.1L34 824.9L35 833.0L36 849.0L37 866.2L38 893.0L39 926.1L40 945.7L41 967.4L42 997.9L43 1036.9L44 1069.2L45 1102.4L46 1122.0L47 1130.7L48 1132.7M58 1063.0L59 1072.0L60 1074.4M63 1061.6L64 1069.5L65 1071.9L66 1071.9M68 1064.0L69 1065.5L70 1068.4L71 1068.5M78 1051.7L79 1055.8M81 1054.5L82 1058.7L83 1066.0L84 1072.3L85 1080.5L86 1087.4L87 1090.6L88 1098.1L89 1105.3L90 1109.4L91 1110.2M95 1103.5L96 1104.7L97 1107.8L98 1112.8L99 1118.7L100 1124.7L101 1130.2L102 1137.4L103 1147.1L104 1149.5M107 1146.5L108 1147.9M125 1083.8L126 1084.5L127 1086.9M128 1085.0L129 1090.9L130 1103.5L131 1108.0L132 1108.7M140 1060.9L141 1061.5L142 1069.1L143 1073.6L144 1080.6L145 1088.8L146 1095.2L147 1100.0L148 1107.0L149 1111.9L150 1113.9" stroke="#f47c3d" stroke-width="2.0"/><path vector-effect="non-scaling-stroke" d="M1 698.8L2 697.4M4 703.5L5 703.3M11 746.0L12 743.9L13 742.3L14 739.4M15 744.4L16 740.5M22 791.9L23 789.9M26 805.7L27 805.1L28 800.5L29 796.8L30 793.1L31 792.5M48 1132.7L49 1127.8L50 1118.6L51 1103.6L52 1091.3L53 1080.4L54 1073.2L55 1067.9L56 1064.4L57 1063.4L58 1063.0M60 1074.4L61 1069.5L62 1065.6L63 1061.6M66 1071.9L67 1065.8L68 1064.0M71 1068.5L72 1062.3L73 1061.8L74 1061.3L75 1059.1L76 1057.1L77 1054.3L78 1051.7M79 1055.8L80 1055.0L81 1054.5M91 1110.2L92 1110.1L93 1109.1L94 1107.1L95 1103.5M104 1149.5L105 1148.5L106 1147.3L107 1146.5M108 1147.9L109 1145.4L110 1139.4L111 1130.4L112 1124.6L113 1120.1L114 1114.2L115 1107.5L116 1099.7L117 1096.1L118 1095.0L119 1093.8L120 1092.6L121 1091.2L122 1089.0L123 1087.8L124 1085.4L125 1083.8M127 1086.9L128 1085.0M132 1108.7L133 1108.6L134 1101.4L135 1096.5L136 1093.2L137 1082.5L138 1067.0L139 1061.5L140 1060.9M150 1113.9L151 1108.2L152 1099.6" stroke="#3bcb9a" stroke-width="2.00"/><path vector-effect="non-scaling-stroke" d="M1 697.1L2 697.5L3 698.6L4 702.7L5 704.0L6 709.6L7 722.7L8 736.8L9 740.1L10 744.9L11 747.0M14 736.2L15 740.7L16 741.1L17 745.7L18 751.6L19 759.7L20 773.5L21 786.2L22 789.6L23 791.6L24 797.1L25 803.6L26 807.2M31 791.3L32 802.5L33 816.5L34 828.1L35 837.3L36 854.6L37 873.4L38 899.4L39 927.8L40 947.4L41 973.5L42 1008.8L43 1046.6L44 1080.6L45 1111.1L46 1125.9L47 1135.9M57 1064.3L58 1064.9L59 1072.8L60 1073.4M63 1062.7L64 1071.0L65 1073.6M67 1064.8L68 1065.1L69 1066.6L70 1068.7M72 1061.9L73 1062.7M78 1050.8L79 1055.5M80 1054.3L81 1055.1L82 1059.9L83 1067.1L84 1074.8L85 1082.7L86 1086.8L87 1093.2L88 1100.8L89 1107.2L90 1110.1L91 1110.8M95 1102.8L96 1103.8L97 1107.5L98 1113.3L99 1120.0L100 1126.7L101 1133.0L102 1140.6L103 1148.9L104 1150.0M107 1146.4L108 1148.5M125 1083.3L126 1084.3L127 1087.0M128 1084.8L129 1091.8L130 1104.9L131 1110.2L132 1110.8M140 1059.6L141 1063.1L142 1069.2L143 1075.7L144 1082.8L145 1091.2L146 1096.6L147 1101.5L148 1108.7L149 1112.7L150 1114.6" stroke="#f47e3f" stroke-width="2.0"/><path vector-effect="non-scaling-stroke" d="M0 698.0L1 697.1M11 747.0L12 746.2L13 742.9L14 736.2M26 807.2L27 804.7L28 800.5L29 796.9L30 792.0L31 791.3M47 1135.9L48 1135.4L49 1128.0L50 1115.9L51 1099.6L52 1085.3L53 1076.3L54 1068.6L55 1067.4L56 1065.0L57 1064.3M60 1073.4L61 1068.7L62 1063.5L63 1062.7M65 1073.6L66 1069.3L67 1064.8M70 1068.7L71 1065.5L72 1061.9M73 1062.7L74 1061.4L75 1058.6L76 1056.9L77 1053.1L78 1050.8M79 1055.5L80 1054.3M91 1110.8L92 1110.5L93 1109.4L94 1106.1L95 1102.8M104 1150.0L105 1148.3L106 1146.9L107 1146.4M108 1148.5L109 1145.3L110 1137.2L111 1129.6L112 1123.8L113 1118.5L114 1111.9L115 1103.8L116 1098.2L117 1095.8L118 1094.8L119 1093.7L120 1092.1L121 1090.9L122 1088.8L123 1087.2L124 1085.0L125 1083.3M127 1087.0L128 1084.8M132 1110.8L133 1109.4L134 1100.9L135 1098.4L136 1090.3L137 1075.6L138 1063.3L139 1060.0L140 1059.6M150 1114.6L151 1108.8L152 1098.5" stroke="#3bcc9c" stroke-width="2.00"/><path vector-effect="non-scaling-stroke" d="M1 695.3L2 697.5L3 699.3L4 701.9L5 704.7L6 710.8L7 725.4L8 739.2L9 741.9L10 747.8L11 747.9L12 748.4M14 733.1L15 736.9L16 741.8L17 745.9L18 752.7L19 762.6L20 778.4L21 791.3M22 787.3L23 793.4L24 798.8L25 805.0L26 808.7M31 790.1L32 801.0L33 816.9L34 831.3L35 841.5L36 860.1L37 880.6L38 905.8L39 929.6L40 949.2L41 979.7L42 1019.7L43 1056.3L44 1092.0L45 1119.8L46 1129.7L47 1141.0M54 1064.0L55 1067.0M57 1065.1L58 1066.8L59 1073.5M62 1061.4L63 1063.8L64 1072.5L65 1075.3M67 1063.8L68 1066.2L69 1067.8L70 1069.1M72 1061.5L73 1063.7M78 1050.0L79 1055.2M80 1053.7L81 1055.8L82 1061.1L83 1068.3L84 1077.3L85 1084.8L86 1086.1L87 1095.9L88 1103.5L89 1109.0L90 1110.8L91 1111.5M95 1102.1L96 1102.8L97 1107.2L98 1113.8L99 1121.3L100 1128.8L101 1135.9L102 1143.8L103 1150.6M107 1146.2L108 1149.0M125 1082.7L126 1084.0L127 1087.1M128 1084.6L129 1092.7L130 1106.4L131 1112.3L132 1112.9M140 1058.4L141 1064.7L142 1069.2L143 1077.8L144 1085.1L145 1093.6L146 1098.0L147 1103.1L148 1110.4L149 1113.6L150 1115.3" stroke="#f48242" stroke-width="2.0"/><path vector-effect="non-scaling-stroke" d="M0 698.6L1 695.3M12 748.4L13 743.5L14 733.1M21 791.3L22 787.3M26 808.7L27 804.3L28 800.4L29 796.9L30 790.9L31 790.1M47 1141.0L48 1138.0L49 1128.1L50 1113.1L51 1095.6L52 1079.3L53 1072.2L54 1064.0M55 1067.0L56 1065.6L57 1065.1M59 1073.5L60 1072.5L61 1068.0L62 1061.4M65 1075.3L66 1066.7L67 1063.8M70 1069.1L71 1062.6L72 1061.5M73 1063.7L74 1061.6L75 1058.1L76 1056.7L77 1051.8L78 1050.0M79 1055.2L80 1053.7M91 1111.5L92 1111.0L93 1109.6L94 1105.0L95 1102.1M103 1150.6L104 1150.4L105 1148.1L106 1146.5L107 1146.2M108 1149.0L109 1145.1L110 1135.0L111 1128.7L112 1123.1L113 1116.9L114 1109.6L115 1100.1L116 1096.7L117 1095.6L118 1094.6L119 1093.6L120 1091.6L121 1090.6L122 1088.5L123 1086.5L124 1084.5L125 1082.7M127 1087.1L128 1084.6M132 1112.9L133 1110.3L134 1100.5L135 1100.2L136 1087.3L137 1068.7L138 1059.5L139 1058.4L140 1058.4M150 1115.3L151 1109.3L152 1097.4" stroke="#3ccd9e" stroke-width="2.00"/><path vector-effect="non-scaling-stroke" d="M1 695.2L2 698.2M3 698.0L4 702.6L5 705.8L6 713.3L7 727.5L8 741.4L9 745.3L10 749.0L11 750.9M14 727.7L15 737.4L16 741.7L17 747.0L18 755.8L19 767.8L20 784.0L21 788.6L22 789.1L23 795.2L24 800.2L25 806.7L26 808.5M31 787.2L32 800.2L33 819.9L34 836.1L35 847.4L36 867.9L37 887.0L38 906.1L39 930.3L40 954.8L41 990.9L42 1029.6L43 1068.5L44 1101.3L45 1124.1L46 1135.7L47 1144.9M54 1063.2L55 1067.9M56 1066.7L57 1067.4M58 1067.2L59 1072.3M62 1062.7L63 1065.1L64 1074.5M67 1065.0L68 1067.7L69 1068.2M71 1062.2L72 1062.5L73 1064.0M78 1049.1L79 1054.4M80 1054.4L81 1057.0L82 1062.1L83 1070.8L84 1079.5L85 1083.8L86 1088.8L87 1098.9L88 1105.5L89 1109.8L90 1111.6L91 1112.2M95 1100.8L96 1102.1L97 1107.3L98 1114.9L99 1123.4L100 1132.0L101 1139.5L102 1145.5L103 1151.2M106 1146.4L107 1146.8L108 1149.1M125 1082.3L126 1083.9L127 1087.0M128 1085.1L129 1093.5L130 1108.8L131 1115.1M139 1056.8L140 1060.0L141 1064.4L142 1071.3L143 1080.2L144 1087.6L145 1095.1L146 1099.7L147 1104.8L148 1111.3L149 1114.4L150 1116.6" stroke="#f48546" stroke-width="2.0"/><path vector-effect="non-scaling-stroke" d="M0 696.5L1 695.2M2 698.2L3 698.0M11 750.9L12 749.6L13 740.2L14 727.7M26 808.5L27 804.6L28 800.8L29 796.0L30 789.4L31 787.2M47 1144.9L48 1139.1L49 1125.7L50 1109.2L51 1089.0L52 1074.4L53 1066.8L54 1063.2M55 1067.9L56 1066.7M57 1067.4L58 1067.2M59 1072.3L60 1071.8L61 1065.7L62 1062.7M64 1074.5L65 1072.5L66 1065.6L67 1065.0M69 1068.2L70 1065.8L71 1062.2M73 1064.0L74 1061.2L75 1058.0L76 1055.4L77 1050.8L78 1049.1M79 1054.4L80 1054.4M91 1112.2L92 1111.4L93 1108.6L94 1104.4L95 1100.8M103 1151.2L104 1150.3L105 1147.6L106 1146.4M108 1149.1L109 1143.0L110 1134.4L111 1128.2L112 1121.5L113 1114.5L114 1105.4L115 1098.4L116 1096.4L117 1095.4L118 1094.6L119 1093.1L120 1091.4L121 1090.5L122 1087.8L123 1086.1L124 1083.9L125 1082.3M127 1087.0L128 1085.1M131 1115.1L132 1114.3L133 1110.5L134 1103.1L135 1097.4L136 1079.7L137 1064.5L138 1057.6L139 1056.8M150 1116.6L151 1108.9L152 1096.7" stroke="#3dce9f" stroke-width="2.00"/><path vector-effect="non-scaling-stroke" d="M0 694.4L1 695.0L2 699.0M3 696.8L4 703.3L5 707.0L6 715.7L7 729.5L8 743.7L9 748.7L10 750.3L11 753.8M14 722.4L15 737.8L16 741.7L17 748.0L18 758.9L19 773.0L20 789.7M21 785.8L22 790.9L23 797.0L24 801.7L25 808.4L26 808.4M31 784.3L32 799.4L33 823.0L34 841.0L35 853.2L36 875.8L37 893.4L38 906.5L39 930.9L40 960.5L41 1002.1L42 1039.4L43 1080.7L44 1110.6L45 1128.4L46 1141.6L47 1148.7M53 1061.3L54 1062.3L55 1068.8M56 1067.8L57 1069.8M58 1067.7L59 1071.1L60 1071.2M61 1063.5L62 1063.9L63 1066.4L64 1076.4M66 1064.5L67 1066.3L68 1069.2M71 1061.7L72 1063.6L73 1064.3M78 1048.3L79 1053.7L80 1055.1L81 1058.1L82 1063.0L83 1073.3L84 1081.6L85 1082.8L86 1091.5L87 1101.9L88 1107.5L89 1110.5L90 1112.4L91 1112.8M95 1099.5L96 1101.3L97 1107.4L98 1116.1L99 1125.6L100 1135.2L101 1143.1L102 1147.2L103 1151.9M106 1146.2L107 1147.3L108 1149.2M125 1081.9L126 1083.8L127 1087.0M128 1085.7L129 1094.4L130 1111.2L131 1117.9M139 1055.1L140 1061.6L141 1064.1L142 1073.4L143 1082.6L144 1090.1L145 1096.6L146 1101.3L147 1106.4L148 1112.2L149 1115.2L150 1117.9" stroke="#f5884b" stroke-width="0.8"/><path vector-effect="non-scaling-stroke" d="M2 699.0L3 696.8M11 753.8L12 750.8L13 736.8L14 722.4M20 789.7L21 785.8M26 808.4L27 804.9L28 801.2L29 795.1L30 787.8L31 784.3M47 1148.7L48 1140.2L49 1123.3L50 1105.4L51 1082.4L52 1069.6L53 1061.3M55 1068.8L56 1067.8M57 1069.8L58 1067.7M60 1071.2L61 1063.5M64 1076.4L65 1069.7L66 1064.5M68 1069.2L69 1068.6L70 1062.4L71 1061.7M73 1064.3L74 1060.8L75 1057.8L76 1054.2L77 1049.8L78 1048.3M91 1112.8L92 1111.9L93 1107.5L94 1103.7L95 1099.5M103 1151.9L104 1150.2L105 1147.2L106 1146.2M108 1149.2L109 1140.8L110 1133.8L111 1127.7L112 1119.9L113 1112.0L114 1101.3L115 1096.7L116 1096.1L117 1095.1L118 1094.5L119 1092.6L120 1091.1L121 1090.3L122 1087.1L123 1085.6L124 1083.3L125 1081.9M127 1087.0L128 1085.7M131 1117.9L132 1115.6L133 1110.8L134 1105.6L135 1094.5L136 1072.1L137 1060.3L138 1055.6L139 1055.1M150 1117.9L151 1108.5L152 1096.0" stroke="#3dcfa1" stroke-width="1.28"/><path vector-effect="non-scaling-stroke" d="M0 694.1L1 695.7L2 697.4M3 697.1L4 704.5L5 709.5L6 717.2L7 731.2L8 747.9L9 750.3L10 754.0L11 755.7M14 721.5L15 737.4L16 742.5L17 751.2L18 764.8L19 779.3L20 786.3L21 787.9L22 792.8L23 798.6L24 803.4L25 808.2L26 809.1M31 781.6L32 801.4L33 827.9L34 847.9L35 861.9L36 883.0L37 892.5L38 905.0L39 935.9L40 972.0L41 1012.2L42 1052.5L43 1090.8L44 1114.9L45 1135.4L46 1146.3L47 1151.0M53 1060.0L54 1062.9L55 1070.5L56 1070.9M58 1065.7L59 1070.2M61 1065.2L62 1065.5L63 1068.1L64 1073.2M66 1066.0L67 1068.0L68 1069.7M70 1061.8L71 1063.0L72 1064.0L73 1064.2M78 1046.7L79 1054.6L80 1056.4L81 1058.9L82 1065.5L83 1075.6L84 1080.2L85 1085.8L86 1094.7L87 1104.1L88 1108.3L89 1111.5L90 1113.3L91 1113.5M95 1098.2L96 1100.8L97 1108.2L98 1118.1L99 1129.1L100 1139.5L101 1145.1L102 1147.7L103 1151.9M106 1146.9L107 1147.2M125 1081.5L126 1083.4L127 1087.9M128 1086.0L129 1096.0L130 1114.4L131 1120.0M138 1053.3L139 1056.7L140 1061.0L141 1066.1L142 1075.9L143 1085.4L144 1091.5L145 1098.4L146 1103.1L147 1107.1L148 1113.0L149 1116.7L150 1118.2" stroke="#f58c4f" stroke-width="0.8"/><path vector-effect="non-scaling-stroke" d="M2 697.4L3 697.1M11 755.7L12 747.5L13 730.8L14 721.5M26 809.1L27 805.8L28 800.5L29 793.6L30 784.1L31 781.6M47 1151.0L48 1138.5L49 1119.7L50 1098.4L51 1076.8L52 1062.8L53 1060.0M56 1070.9L57 1070.7L58 1065.7M59 1070.2L60 1068.8L61 1065.2M64 1073.2L65 1068.7L66 1066.0M68 1069.7L69 1064.6L70 1061.8M73 1064.2L74 1060.9L75 1056.4L76 1053.2L77 1048.8L78 1046.7M91 1113.5L92 1110.9L93 1107.0L94 1102.2L95 1098.2M103 1151.9L104 1150.0L105 1147.2L106 1146.9M107 1147.2L108 1147.1L109 1140.7L110 1133.7L111 1126.3L112 1117.3L113 1107.3L114 1099.4L115 1096.4L116 1096.0L117 1095.1L118 1094.0L119 1092.4L120 1090.9L121 1089.6L122 1086.6L123 1085.0L124 1082.9L125 1081.5M127 1087.9L128 1086.0M131 1120.0L132 1116.4L133 1114.8L134 1102.7L135 1086.0L136 1067.3L137 1058.0L138 1053.3M150 1118.2L151 1108.7L152 1094.2" stroke="#3ecfa3" stroke-width="1.28"/><path vector-effect="non-scaling-stroke" d="M0 693.8L1 696.3M2 695.9L3 697.4L4 705.8L5 712.0L6 718.7L7 733.0L8 752.2M9 751.9L10 757.8M14 720.6L15 736.9L16 743.2L17 754.4L18 770.6L19 785.5M20 782.8L21 789.9L22 794.8L23 800.1L24 805.0L25 807.9L26 809.9M31 779.0L32 803.3L33 832.9L34 854.8L35 870.6L36 890.2L37 891.7L38 903.5L39 940.9L40 983.6L41 1022.3L42 1065.5L43 1100.8L44 1119.1L45 1142.4L46 1150.9L47 1153.4M52 1056.0L53 1058.8L54 1063.6L55 1072.2L56 1074.0M58 1063.7L59 1069.4M60 1066.4L61 1067.0L62 1067.0L63 1069.9L64 1070.0M65 1067.6L66 1067.6L67 1069.8L68 1070.3M69 1060.5L70 1061.3L71 1064.3L72 1064.4M78 1045.2L79 1055.4L80 1057.7L81 1059.7L82 1068.0L83 1077.8L84 1078.7L85 1088.7L86 1097.9L87 1106.4L88 1109.1L89 1112.5L90 1114.2L91 1114.2M95 1096.9L96 1100.4L97 1108.9L98 1120.1L99 1132.7L100 1143.7L101 1147.1L102 1148.1L103 1151.9M105 1147.1L106 1147.5M125 1081.1L126 1082.9L127 1088.8M128 1086.3L129 1097.7L130 1117.6L131 1122.1M132 1117.3L133 1118.9M138 1051.1L139 1058.4L140 1060.3L141 1068.1L142 1078.3L143 1088.1L144 1093.0L145 1100.3L146 1105.0L147 1107.7L148 1113.8L149 1118.2L150 1118.5" stroke="#f58f53" stroke-width="0.8"/><path vector-effect="non-scaling-stroke" d="M1 696.3L2 695.9M8 752.2L9 751.9M10 757.8L11 757.7L12 744.2L13 724.7L14 720.6M19 785.5L20 782.8M26 809.9L27 806.7L28 799.8L29 792.2L30 780.4L31 779.0M47 1153.4L48 1136.8L49 1116.0L50 1091.4L51 1071.3L52 1056.0M56 1074.0L57 1071.5L58 1063.7M59 1069.4L60 1066.4M64 1070.0L65 1067.6M68 1070.3L69 1060.5M72 1064.4L73 1064.0L74 1061.0L75 1055.0L76 1052.2L77 1047.7L78 1045.2M91 1114.2L92 1109.9L93 1106.4L94 1100.8L95 1096.9M103 1151.9L104 1149.7L105 1147.1M106 1147.5L107 1147.1L108 1144.9L109 1140.6L110 1133.6L111 1124.8L112 1114.6L113 1102.6L114 1097.5L115 1096.0L116 1095.8L117 1095.1L118 1093.6L119 1092.2L120 1090.8L121 1089.0L122 1086.2L123 1084.4L124 1082.4L125 1081.1M127 1088.8L128 1086.3M131 1122.1L132 1117.3M133 1118.9L134 1099.7L135 1077.6L136 1062.6L137 1055.7L138 1051.1M150 1118.5L151 1108.9L152 1092.4" stroke="#3fd0a5" stroke-width="1.28"/><path vector-effect="non-scaling-stroke" d="M1 694.1L2 696.2L3 698.2L4 708.8L5 713.4L6 719.5L7 736.9L8 754.6L9 756.7L10 760.7M14 717.9L15 737.3L16 746.6L17 761.2L18 778.1L19 780.7L20 785.0L21 792.2L22 796.5L23 802.0L24 804.3L25 808.8L26 811.6M30 776.6L31 778.9L32 807.0L33 840.5L34 865.9L35 879.0L36 888.7M37 888.0L38 906.3L39 952.9L40 993.8L41 1036.4L42 1076.1L43 1104.9L44 1126.7L45 1148.3L46 1154.1M52 1053.7L53 1059.1L54 1065.0L55 1076.6M58 1061.6L59 1066.2L60 1069.0L61 1069.3L62 1069.3M63 1065.1L64 1068.7L65 1070.0L66 1070.0L67 1070.6M69 1059.5L70 1062.8L71 1064.9M72 1064.2L73 1064.5M78 1045.2L79 1057.1L80 1058.7L81 1062.5L82 1070.2L83 1075.5L84 1081.8L85 1092.3L86 1100.2L87 1107.2L88 1110.1L89 1113.6L90 1115.2M95 1095.8L96 1100.4L97 1110.5L98 1123.8L99 1137.7L100 1146.3L101 1147.6L102 1147.7L103 1151.8M107 1144.2L108 1145.3M115 1095.8L116 1095.8M125 1080.3L126 1083.6L127 1089.5M128 1087.3L129 1100.0L130 1120.2L131 1123.9M138 1052.6L139 1057.1L140 1062.3L141 1070.5L142 1081.2L143 1089.7L144 1094.9L145 1102.5L146 1105.6L147 1108.2L148 1115.5L149 1118.7L150 1120.1" stroke="#f69358" stroke-width="0.8"/><path vector-effect="non-scaling-stroke" d="M0 694.5L1 694.1M10 760.7L11 754.5L12 737.5L13 723.9L14 717.9M26 811.6L27 806.5L28 798.6L29 788.1L30 776.6M36 888.7L37 888.0M46 1154.1L47 1152.9L48 1133.9L49 1108.7L50 1085.7L51 1063.0L52 1053.7M55 1076.6L56 1075.6L57 1069.5L58 1061.6M62 1069.3L63 1065.1M67 1070.6L68 1065.5L69 1059.5M71 1064.9L72 1064.2M73 1064.5L74 1059.6L75 1053.9L76 1051.2L77 1045.7L78 1045.2M90 1115.2L91 1113.3L92 1109.4L93 1105.0L94 1099.4L95 1095.8M103 1151.8L104 1149.9L105 1148.0L106 1147.4L107 1144.2M108 1145.3L109 1141.3L110 1132.6L111 1122.1L112 1109.0L113 1100.3L114 1097.2L115 1095.8M116 1095.8L117 1094.6L118 1093.4L119 1092.1L120 1090.0L121 1088.6L122 1085.5L123 1084.0L124 1082.0L125 1080.3M127 1089.5L128 1087.3M131 1123.9L132 1123.2L133 1116.9L134 1089.8L135 1072.4L136 1060.0L137 1052.9L138 1052.6M150 1120.1L151 1108.3L152 1087.1" stroke="#3fd1a6" stroke-width="1.28"/><path vector-effect="non-scaling-stroke" d="M1 691.8L2 696.5L3 699.0L4 711.8L5 714.8L6 720.2L7 740.9L8 757.0L9 761.6L10 763.7M14 715.1L15 737.7L16 750.0L17 768.0L18 785.6M19 775.9L20 787.2L21 794.5L22 798.1L23 803.9M24 803.6L25 809.7L26 813.3M30 772.8L31 778.8L32 810.7L33 848.2L34 877.0L35 887.3L36 887.3M37 884.3L38 909.0L39 964.8L40 1004.1L41 1050.5L42 1086.7L43 1109.0L44 1134.3L45 1154.3L46 1157.3M52 1051.5L53 1059.5L54 1066.5L55 1081.0M58 1059.6L59 1062.9L60 1071.5L61 1071.6L62 1071.6M63 1060.3L64 1067.5L65 1072.3L66 1072.3M69 1058.6L70 1064.4L71 1065.5M72 1064.0L73 1065.0M77 1043.7L78 1045.2L79 1058.8L80 1059.7L81 1065.2L82 1072.3L83 1073.2L84 1085.0L85 1095.9L86 1102.5L87 1108.0L88 1111.1L89 1114.7L90 1116.3M95 1094.7L96 1100.5L97 1112.2L98 1127.6L99 1142.7L100 1148.9M102 1147.2L103 1151.6M107 1141.3L108 1145.7M115 1095.5L116 1095.9M125 1079.4L126 1084.2L127 1090.3M128 1088.4L129 1102.3L130 1122.8L131 1125.8L132 1129.1M137 1050.0L138 1054.1L139 1055.9L140 1064.4L141 1072.9L142 1084.1L143 1091.2L144 1096.8L145 1104.6L146 1106.2L147 1108.7L148 1117.3L149 1119.1L150 1121.6" stroke="#f6965c" stroke-width="2.2"/><path vector-effect="non-scaling-stroke" d="M0 695.2L1 691.8M10 763.7L11 751.2L12 730.9L13 723.0L14 715.1M18 785.6L19 775.9M23 803.9L24 803.6M26 813.3L27 806.3L28 797.4L29 784.0L30 772.8M36 887.3L37 884.3M46 1157.3L47 1152.5L48 1131.1L49 1101.3L50 1079.9L51 1054.8L52 1051.5M55 1081.0L56 1077.2L57 1067.4L58 1059.6M62 1071.6L63 1060.3M66 1072.3L67 1071.4L68 1060.6L69 1058.6M71 1065.5L72 1064.0M73 1065.0L74 1058.2L75 1052.8L76 1050.2L77 1043.7M90 1116.3L91 1112.3L92 1109.0L93 1103.5L94 1098.0L95 1094.7M100 1148.9L101 1148.2L102 1147.2M103 1151.6L104 1150.1L105 1148.8L106 1147.3L107 1141.3M108 1145.7L109 1142.0L110 1131.5L111 1119.4L112 1103.4L113 1098.1L114 1096.8L115 1095.5M116 1095.9L117 1094.1L118 1093.2L119 1092.0L120 1089.2L121 1088.2L122 1084.8L123 1083.6L124 1081.6L125 1079.4M127 1090.3L128 1088.4M132 1129.1L133 1114.9L134 1080.0L135 1067.2L136 1057.4L137 1050.0M150 1121.6L151 1107.7L152 1081.9" stroke="#40d2a8" stroke-width="2.20"/></g><line x1="1981.3" y1="1021.5" x2="2022.5" y2="856" stroke="#0f8a16" stroke-width="5.6" stroke-linecap="round"/><polygon points="2026.4,840.6 2013.6,854.6 2030.2,859.3" fill="#0f8a16"/><polygon points="1961.7,1 1980.5,1 1971,9.6" fill="#c2c2c2"/><rect x="0" y="0" width="2471" height="1.1" fill="#3a3a3a"/><rect x="1.2" y="0" width="1.2" height="1209.5" fill="#666"/><rect x="1.2" y="1206.1" width="2469.5" height="1.2" fill="#666"/><rect x="2469.3" y="0" width="1.4" height="1207.3" fill="#7a7a7a"/><rect x="2559" y="0" width="1" height="1231" fill="#efefef"/><rect x="2470" y="39.3" width="3.6" height="1.2" fill="#666"/><text x="2474.4" y="45.8" font-family="Liberation Sans, sans-serif" font-size="16.5" letter-spacing="0.42" fill="#000">0.87590</text><rect x="2470" y="112.2" width="3.6" height="1.2" fill="#666"/><text x="2474.4" y="118.7" font-family="Liberation Sans, sans-serif" font-size="16.5" letter-spacing="0.42" fill="#000">0.87460</text><rect x="2470" y="185.2" width="3.6" height="1.2" fill="#666"/><text x="2474.4" y="191.7" font-family="Liberation Sans, sans-serif" font-size="16.5" letter-spacing="0.42" fill="#000">0.87330</text><rect x="2470" y="258.1" width="3.6" height="1.2" fill="#666"/><text x="2474.4" y="264.6" font-family="Liberation Sans, sans-serif" font-size="16.5" letter-spacing="0.42" fill="#000">0.87200</text><rect x="2470" y="331.0" width="3.6" height="1.2" fill="#666"/><text x="2474.4" y="337.5" font-family="Liberation Sans, sans-serif" font-size="16.5" letter-spacing="0.42" fill="#000">0.87070</text><rect x="2470" y="403.9" width="3.6" height="1.2" fill="#666"/><text x="2474.4" y="410.4" font-family="Liberation Sans, sans-serif" font-size="16.5" letter-spacing="0.42" fill="#000">0.86940</text><rect x="2470" y="476.9" width="3.6" height="1.2" fill="#666"/><text x="2474.4" y="483.4" font-family="Liberation Sans, sans-serif" font-size="16.5" letter-spacing="0.42" fill="#000">0.86810</text><rect x="2470" y="549.8" width="3.6" height="1.2" fill="#666"/><text x="2474.4" y="556.3" font-family="Liberation Sans, sans-serif" font-size="16.5" letter-spacing="0.42" fill="#000">0.86680</text><rect x="2470" y="622.7" width="3.6" height="1.2" fill="#666"/><text x="2474.4" y="629.2" font-family="Liberation Sans, sans-serif" font-size="16.5" letter-spacing="0.42" fill="#000">0.86550</text><rect x="2470" y="695.7" width="3.6" height="1.2" fill="#666"/><text x="2474.4" y="702.2" font-family="Liberation Sans, sans-serif" font-size="16.5" letter-spacing="0.42" fill="#000">0.86420</text><rect x="2470" y="768.6" width="3.6" height="1.2" fill="#666"/><text x="2474.4" y="775.1" font-family="Liberation Sans, sans-serif" font-size="16.5" letter-spacing="0.42" fill="#000">0.86290</text><rect x="2470" y="841.5" width="3.6" height="1.2" fill="#666"/><text x="2474.4" y="848.0" font-family="Liberation Sans, sans-serif" font-size="16.5" letter-spacing="0.42" fill="#000">0.86160</text><rect x="2470" y="914.5" width="3.6" height="1.2" fill="#666"/><text x="2474.4" y="921.0" font-family="Liberation Sans, sans-serif" font-size="16.5" letter-spacing="0.42" fill="#000">0.86030</text><rect x="2470" y="987.4" width="3.6" height="1.2" fill="#666"/><text x="2474.4" y="993.9" font-family="Liberation Sans, sans-serif" font-size="16.5" letter-spacing="0.42" fill="#000">0.85900</text><rect x="2470" y="1060.3" width="3.6" height="1.2" fill="#666"/><text x="2474.4" y="1066.8" font-family="Liberation Sans, sans-serif" font-size="16.5" letter-spacing="0.42" fill="#000">0.85770</text><rect x="2470" y="1133.3" width="3.6" height="1.2" fill="#666"/><text x="2474.4" y="1139.8" font-family="Liberation Sans, sans-serif" font-size="16.5" letter-spacing="0.42" fill="#000">0.85640</text><rect x="2472.2" y="1010.2" width="72.8" height="20" fill="#b5b5b5"/><text x="2476.6" y="1027" font-family="Liberation Sans, sans-serif" font-size="16.5" letter-spacing="0.42" fill="#fff">0.85842</text><rect x="2472.2" y="1020.6" width="72.8" height="20.1" fill="#b5b5b5"/><text x="2476.6" y="1037.4" font-family="Liberation Sans, sans-serif" font-size="16.5" letter-spacing="0.42" fill="#fff">0.85823</text><text x="1.4" y="1226.6" font-family="Liberation Sans, sans-serif" font-size="16.6" letter-spacing="0.15" fill="#000">20 Nov 2023</text><rect x="143.7" y="1206.5" width="1.2" height="3.3" fill="#666"/><text x="143.7" y="1226.6" font-family="Liberation Sans, sans-serif" font-size="16.6" letter-spacing="0.15" fill="#000">21 Nov 14:00</text><rect x="286.0" y="1206.5" width="1.2" height="3.3" fill="#666"/><text x="286.0" y="1226.6" font-family="Liberation Sans, sans-serif" font-size="16.6" letter-spacing="0.15" fill="#000">22 Nov 14:00</text><rect x="428.4" y="1206.5" width="1.2" height="3.3" fill="#666"/><text x="428.4" y="1226.6" font-family="Liberation Sans, sans-serif" font-size="16.6" letter-spacing="0.15" fill="#000">23 Nov 14:00</text><rect x="570.7" y="1206.5" width="1.2" height="3.3" fill="#666"/><text x="570.7" y="1226.6" font-family="Liberation Sans, sans-serif" font-size="16.6" letter-spacing="0.15" fill="#000">24 Nov 14:00</text><rect x="713.1" y="1206.5" width="1.2" height="3.3" fill="#666"/><text x="713.1" y="1226.6" font-family="Liberation Sans, sans-serif" font-size="16.6" letter-spacing="0.15" fill="#000">27 Nov 14:00</text><rect x="855.4" y="1206.5" width="1.2" height="3.3" fill="#666"/><text x="855.4" y="1226.6" font-family="Liberation Sans, sans-serif" font-size="16.6" letter-spacing="0.15" fill="#000">28 Nov 14:00</text><rect x="997.8" y="1206.5" width="1.2" height="3.3" fill="#666"/><text x="997.8" y="1226.6" font-family="Liberation Sans, sans-serif" font-size="16.6" letter-spacing="0.15" fill="#000">29 Nov 14:00</text><rect x="1140.2" y="1206.5" width="1.2" height="3.3" fill="#666"/><text x="1140.2" y="1226.6" font-family="Liberation Sans, sans-serif" font-size="16.6" letter-spacing="0.15" fill="#000">30 Nov 14:00</text><rect x="1282.5" y="1206.5" width="1.2" height="3.3" fill="#666"/><text x="1282.5" y="1226.6" font-family="Liberation Sans, sans-serif" font-size="16.6" letter-spacing="0.15" fill="#000">1 Dec 14:00</text><rect x="1424.8" y="1206.5" width="1.2" height="3.3" fill="#666"/><text x="1424.8" y="1226.6" font-family="Liberation Sans, sans-serif" font-size="16.6" letter-spacing="0.15" fill="#000">4 Dec 14:00</text><rect x="1567.2" y="1206.5" width="1.2" height="3.3" fill="#666"/><text x="1567.2" y="1226.6" font-family="Liberation Sans, sans-serif" font-size="16.6" letter-spacing="0.15" fill="#000">5 Dec 14:00</text><rect x="1709.5" y="1206.5" width="1.2" height="3.3" fill="#666"/><text x="1709.5" y="1226.6" font-family="Liberation Sans, sans-serif" font-size="16.6" letter-spacing="0.15" fill="#000">6 Dec 14:00</text><rect x="1851.9" y="1206.5" width="1.2" height="3.3" fill="#666"/><text x="1851.9" y="1226.6" font-family="Liberation Sans, sans-serif" font-size="16.6" letter-spacing="0.15" fill="#000">7 Dec 14:00</text><rect x="25" y="1184.5" width="21.3" height="14" fill="#7a7a7a"/><rect x="25" y="1184.5" width="20.2" height="12.9" fill="#b4b4b4"/><rect x="25.9" y="1185.4" width="19.3" height="12" fill="#ececec"/><text x="35.6" y="1194.4" text-anchor="middle" font-family="Liberation Sans, sans-serif" font-size="8.6" fill="#222">---</text><rect x="50.8" y="1184.5" width="21.3" height="14" fill="#7a7a7a"/><rect x="50.8" y="1184.5" width="20.2" height="12.9" fill="#b4b4b4"/><rect x="51.699999999999996" y="1185.4" width="19.3" height="12" fill="#ececec"/><text x="61.4" y="1194.4" text-anchor="middle" font-family="Liberation Sans, sans-serif" font-size="8.6" fill="#222">--</text><rect x="77" y="1184.5" width="21.3" height="14" fill="#7a7a7a"/><rect x="77" y="1184.5" width="20.2" height="12.9" fill="#b4b4b4"/><rect x="77.9" y="1185.4" width="19.3" height="12" fill="#ececec"/><text x="87.6" y="1194.4" text-anchor="middle" font-family="Liberation Sans, sans-serif" font-size="8.6" fill="#222">-</text><rect x="102.7" y="1184.5" width="21.3" height="14" fill="#7a7a7a"/><rect x="102.7" y="1184.5" width="20.2" height="12.9" fill="#b4b4b4"/><rect x="103.60000000000001" y="1185.4" width="19.3" height="12" fill="#ececec"/><text x="113.3" y="1194.4" text-anchor="middle" font-family="Liberation Sans, sans-serif" font-size="8.6" fill="#222">+</text><rect x="128.5" y="1184.5" width="21.3" height="14" fill="#7a7a7a"/><rect x="128.5" y="1184.5" width="20.2" height="12.9" fill="#b4b4b4"/><rect x="129.4" y="1185.4" width="19.3" height="12" fill="#ececec"/><text x="139.1" y="1194.4" text-anchor="middle" font-family="Liberation Sans, sans-serif" font-size="8.6" fill="#222">++</text><rect x="154.3" y="1184.5" width="21.3" height="14" fill="#7a7a7a"/><rect x="154.3" y="1184.5" width="20.2" height="12.9" fill="#b4b4b4"/><rect x="155.20000000000002" y="1185.4" width="19.3" height="12" fill="#ececec"/><text x="164.9" y="1194.4" text-anchor="middle" font-family="Liberation Sans, sans-serif" font-size="8.6" fill="#222">+++</text><g>
<rect x="12.3" y="9.8" width="13.5" height="18.3" rx="1.8" fill="#fdeee9" stroke="#e0605a" stroke-width="1.6"/>
<rect x="25" y="9.8" width="13" height="18.3" rx="1.8" fill="#dceefc" stroke="#3b7cb8" stroke-width="1.6"/>
<rect x="24.2" y="10.6" width="1.8" height="16.7" fill="#fdeee9"/><rect x="25.4" y="10.6" width="1.4" height="16.7" fill="#dceefc"/>
<path d="M15 14.2h7.5M15 19h7.5M15 23.8h7.5" stroke="#dd5a48" stroke-width="2.2"/>
<path d="M26.5 14.2h8.5M26.5 19h8.5M26.5 23.8h8.5" stroke="#2b74b4" stroke-width="2.2"/>
<rect x="61" y="10.2" width="8" height="4" rx="1" fill="#fff" stroke="#a9adb3" stroke-width="1.3"/>
<path d="M51.3 11.2q0-1.2 1.2-1.2h3q1.2 0 1.2 1.2v6.2h3.8q1.2 0 1.2 1.2v8.4q0 1.2-1.2 1.2h-8q-1.2 0-1.2-1.2z" fill="#fdd9cc" stroke="#e0605a" stroke-width="1.6"/>
<path d="M77.2 11.2q0-1.2-1.2-1.2h-3q-1.2 0-1.2 1.2v6.2h-3.8q-1.2 0-1.2 1.2v8.4q0 1.2 1.2 1.2h8q1.2 0 1.2-1.2z" fill="#bcdff8" stroke="#3583c4" stroke-width="1.6"/>
</g><text x="86.6" y="25.6" font-family="Liberation Sans, sans-serif" font-size="16.5" textLength="106.9" lengthAdjust="spacing" fill="#000">EURGBPmicro,</text><text x="199.7" y="25.6" font-family="Liberation Sans, sans-serif" font-size="16.5" textLength="27.2" lengthAdjust="spacing" fill="#000">H1:</text><text x="237.8" y="25.6" font-family="Liberation Sans, sans-serif" font-size="16.5" textLength="33.2" lengthAdjust="spacing" fill="#000">Euro</text><text x="277.5" y="25.6" font-family="Liberation Sans, sans-serif" font-size="16.5" textLength="14.1" lengthAdjust="spacing" fill="#000">vs</text><text x="298.1" y="25.6" font-family="Liberation Sans, sans-serif" font-size="16.5" textLength="39.4" lengthAdjust="spacing" fill="#000">Great</text><text x="345.0" y="25.6" font-family="Liberation Sans, sans-serif" font-size="16.5" textLength="45.9" lengthAdjust="spacing" fill="#000">Britain</text><text x="397.5" y="25.6" font-family="Liberation Sans, sans-serif" font-size="16.5" textLength="45.9" lengthAdjust="spacing" fill="#000">Pound</text></svg>
<div id="ui"><div id="panel" style="position:absolute;left:88px;top:112.5px;width:742px;height:260px;background:#fff"></div><svg style="position:absolute;left:88px;top:110px" width="120" height="30" viewBox="88 110 120 30">
<text x="91.4" y="129.3" font-family="Liberation Sans, sans-serif" font-weight="bold" font-size="21" textLength="52.5" lengthAdjust="spacingAndGlyphs" fill="#1d8a3c" stroke="#1d8a3c" stroke-width="0.75">TRADE</text>
<text x="144" y="129.3" font-family="Liberation Sans, sans-serif" font-weight="bold" font-size="21" textLength="48.5" lengthAdjust="spacingAndGlyphs" fill="#111" stroke="#111" stroke-width="0.75">PEDIA</text>
<polygon points="192.6,114.2 199.3,114.2 199.3,129.2 196.4,129.2" fill="#de1f26"/>
<text x="145.6" y="136.3" font-family="Liberation Sans, sans-serif" font-weight="bold" font-style="italic" font-size="6.6" textLength="53.5" lengthAdjust="spacingAndGlyphs" fill="#222" stroke="#222" stroke-width="0.25">BY AVRAMIS DESPOTIS</text>
</svg><div style="left:400.0px;top:120.5px;width:120.0px;height:11.0px;color:#4a4a4a;font-size:9.6px;line-height:11px;white-space:nowrap;text-align:center;">Avramis Ribbon</div><svg style="position:absolute;left:817px;top:118px" width="9" height="9" viewBox="0 0 9 9"><path d="M1.3 1.5L7.3 7.3M7.3 1.5L1.3 7.3" stroke="#a9a9a9" stroke-width="1.7"/></svg><div style="left:808.0px;top:147.0px;width:10.8px;height:21.0px;box-sizing:border-box;border:2.3px solid #0f7a12;background:#fff;"></div><div style="left:106.0px;top:144.2px;width:8.8px;height:8.8px;border-radius:50%;background:radial-gradient(circle at 48% 45%,#f6f6f6 0,#e9e9e9 45%,#c4c4c4 70%,#9c9c9c 100%)"></div><div style="left:121.4px;top:143.3px;width:40.0px;height:11.0px;color:#4a4a4a;font-size:9.6px;line-height:11px;white-space:nowrap;">M1</div><div style="left:217.1px;top:144.2px;width:8.8px;height:8.8px;border-radius:50%;background:radial-gradient(circle at 48% 45%,#f6f6f6 0,#e9e9e9 45%,#c4c4c4 70%,#9c9c9c 100%)"></div><div style="left:232.5px;top:143.3px;width:40.0px;height:11.0px;color:#4a4a4a;font-size:9.6px;line-height:11px;white-space:nowrap;">M5</div><div style="left:328.2px;top:144.2px;width:8.8px;height:8.8px;border-radius:50%;background:radial-gradient(circle at 48% 45%,#f6f6f6 0,#e9e9e9 45%,#c4c4c4 70%,#9c9c9c 100%)"></div><div style="left:343.6px;top:143.3px;width:40.0px;height:11.0px;color:#4a4a4a;font-size:9.6px;line-height:11px;white-space:nowrap;">M10</div><div style="left:439.3px;top:144.2px;width:8.8px;height:8.8px;border-radius:50%;background:radial-gradient(circle at 48% 45%,#f6f6f6 0,#e9e9e9 45%,#c4c4c4 70%,#9c9c9c 100%)"></div><div style="left:454.7px;top:143.3px;width:40.0px;height:11.0px;color:#4a4a4a;font-size:9.6px;line-height:11px;white-space:nowrap;">M15</div><div style="left:550.4px;top:144.2px;width:8.8px;height:8.8px;border-radius:50%;background:radial-gradient(circle at 50% 48%,#143a5a 0,#1f4f7c 24%,#5a8db8 40%,#c4d6e6 58%,#e6ecf1 74%,#a9b2bb 100%)"></div><div style="left:565.8px;top:143.3px;width:40.0px;height:11.0px;color:#4a4a4a;font-size:9.6px;line-height:11px;white-space:nowrap;">M30</div><div style="left:661.5px;top:144.2px;width:8.8px;height:8.8px;border-radius:50%;background:radial-gradient(circle at 50% 48%,#143a5a 0,#1f4f7c 24%,#5a8db8 40%,#c4d6e6 58%,#e6ecf1 74%,#a9b2bb 100%)"></div><div style="left:676.9px;top:143.3px;width:40.0px;height:11.0px;color:#4a4a4a;font-size:9.6px;line-height:11px;white-space:nowrap;">H1</div><div style="left:106.0px;top:158.9px;width:8.8px;height:8.8px;border-radius:50%;background:radial-gradient(circle at 48% 45%,#f6f6f6 0,#e9e9e9 45%,#c4c4c4 70%,#9c9c9c 100%)"></div><div style="left:121.4px;top:158.0px;width:40.0px;height:11.0px;color:#4a4a4a;font-size:9.6px;line-height:11px;white-space:nowrap;">H2</div><div style="left:217.1px;top:158.9px;width:8.8px;height:8.8px;border-radius:50%;background:radial-gradient(circle at 50% 48%,#143a5a 0,#1f4f7c 24%,#5a8db8 40%,#c4d6e6 58%,#e6ecf1 74%,#a9b2bb 100%)"></div><div style="left:232.5px;top:158.0px;width:40.0px;height:11.0px;color:#4a4a4a;font-size:9.6px;line-height:11px;white-space:nowrap;">H4</div><div style="left:328.2px;top:158.9px;width:8.8px;height:8.8px;border-radius:50%;background:radial-gradient(circle at 48% 45%,#f6f6f6 0,#e9e9e9 45%,#c4c4c4 70%,#9c9c9c 100%)"></div><div style="left:343.6px;top:158.0px;width:40.0px;height:11.0px;color:#4a4a4a;font-size:9.6px;line-height:11px;white-space:nowrap;">H8</div><div style="left:439.3px;top:158.9px;width:8.8px;height:8.8px;border-radius:50%;background:radial-gradient(circle at 50% 48%,#143a5a 0,#1f4f7c 24%,#5a8db8 40%,#c4d6e6 58%,#e6ecf1 74%,#a9b2bb 100%)"></div><div style="left:454.7px;top:158.0px;width:40.0px;height:11.0px;color:#4a4a4a;font-size:9.6px;line-height:11px;white-space:nowrap;">D1</div><div style="left:550.4px;top:158.9px;width:8.8px;height:8.8px;border-radius:50%;background:radial-gradient(circle at 50% 48%,#143a5a 0,#1f4f7c 24%,#5a8db8 40%,#c4d6e6 58%,#e6ecf1 74%,#a9b2bb 100%)"></div><div style="left:565.8px;top:158.0px;width:40.0px;height:11.0px;color:#4a4a4a;font-size:9.6px;line-height:11px;white-space:nowrap;">W1</div><div style="left:661.5px;top:158.9px;width:8.8px;height:8.8px;border-radius:50%;background:radial-gradient(circle at 50% 48%,#143a5a 0,#1f4f7c 24%,#5a8db8 40%,#c4d6e6 58%,#e6ecf1 74%,#a9b2bb 100%)"></div><div style="left:676.9px;top:158.0px;width:40.0px;height:11.0px;color:#4a4a4a;font-size:9.6px;line-height:11px;white-space:nowrap;">MN</div><div style="left:96.2px;top:171.3px;width:352.7px;height:14.4px;background:#d9dfe9;border-bottom:1px solid #c3cad6;box-sizing:border-box;text-align:center;color:#4a4a4a;font-size:9.6px;line-height:11px;white-space:nowrap;line-height:13.4px;">Page -</div><div style="left:471.1px;top:171.3px;width:353.5px;height:14.4px;background:#d9dfe9;border-bottom:1px solid #c3cad6;box-sizing:border-box;text-align:center;color:#4a4a4a;font-size:9.6px;line-height:11px;white-space:nowrap;line-height:13.4px;">Page +</div><div style="left:449.6px;top:170.6px;width:20.8px;height:15.6px;box-sizing:border-box;border:1px solid #e3e3e3;border-radius:8px;background:#fff;text-align:center;color:#4a4a4a;font-size:9.6px;line-height:11px;white-space:nowrap;line-height:13.6px;">1/1</div><div style="left:111.6px;top:191.0px;width:109.6px;height:15.8px;box-sizing:border-box;border:1px solid #dcdcdc;border-radius:8px;background:#fff;text-align:center;color:#4a4a4a;font-size:9.6px;line-height:11px;white-space:nowrap;line-height:14px;">Symbol</div><div style="left:205.2px;top:194.0px;width:80.0px;height:11.0px;color:#4a4a4a;font-size:9.6px;line-height:11px;white-space:nowrap;text-align:center;">TF</div><div style="left:257.4px;top:194.0px;width:80.0px;height:11.0px;color:#4a4a4a;font-size:9.6px;line-height:11px;white-space:nowrap;text-align:center;">Entry</div><div style="left:316.9px;top:194.0px;width:80.0px;height:11.0px;color:#4a4a4a;font-size:9.6px;line-height:11px;white-space:nowrap;text-align:center;">Stop</div><div style="left:376.2px;top:194.0px;width:80.0px;height:11.0px;color:#4a4a4a;font-size:9.6px;line-height:11px;white-space:nowrap;text-align:center;">Target 1</div><div style="left:435.7px;top:194.0px;width:80.0px;height:11.0px;color:#4a4a4a;font-size:9.6px;line-height:11px;white-space:nowrap;text-align:center;">Target 2</div><div style="left:495.2px;top:194.0px;width:80.0px;height:11.0px;color:#4a4a4a;font-size:9.6px;line-height:11px;white-space:nowrap;text-align:center;">Target 3</div><div style="left:554.3px;top:194.0px;width:80.0px;height:11.0px;color:#4a4a4a;font-size:9.6px;line-height:11px;white-space:nowrap;text-align:center;">Status</div><div style="left:685.0px;top:194.0px;width:80.0px;height:11.0px;color:#4a4a4a;font-size:9.6px;line-height:11px;white-space:nowrap;text-align:center;">Strategy</div><div style="left:96.0px;top:208.5px;width:14.8px;height:21.9px;background:#dde2ec;border-bottom:1px solid #c2c9d6;box-sizing:border-box;"></div><svg style="position:absolute;left:99.2px;top:215.5px" width="9" height="8" viewBox="0 0 9 8"><path d="M0.6 2.2V7.2H8.4V2.2H4.2L3.4 0.8H0.6Z" fill="#fff" stroke="#3c3c3c" stroke-width="1"/><path d="M0.6 2.3H8.4" stroke="#3c3c3c" stroke-width="0.9"/></svg><div style="left:112.5px;top:210.5px;width:109.0px;height:18.4px;border-radius:9.2px;background:#dde1ea;text-align:center;color:#4a4a4a;font-size:9.6px;line-height:18.6px;">EURGBPmicro</div><div style="left:223.6px;top:210.5px;width:42.6px;height:18.4px;box-sizing:border-box;border:1px solid #e2e2e2;border-radius:9.2px;background:#fff;text-align:center;color:#4a4a4a;font-size:9.6px;line-height:16.6px;">M30</div><div style="left:268.0px;top:210.5px;width:57.7px;height:18.4px;box-sizing:border-box;border:1.3px solid #5a5a5a;border-radius:9.2px;background:#fff;text-align:center;color:#b5b5b5;font-size:9.6px;line-height:15.8px;">---</div><div style="left:327.4px;top:210.5px;width:57.6px;height:18.4px;box-sizing:border-box;border:1.3px solid #5a5a5a;border-radius:9.2px;background:#fff;text-align:center;color:#b5b5b5;font-size:9.6px;line-height:15.8px;">---</div><div style="left:386.8px;top:210.5px;width:57.7px;height:18.4px;box-sizing:border-box;border:1.3px solid #5a5a5a;border-radius:9.2px;background:#fff;text-align:center;color:#b5b5b5;font-size:9.6px;line-height:15.8px;">---</div><div style="left:446.2px;top:210.5px;width:57.7px;height:18.4px;box-sizing:border-box;border:1.3px solid #5a5a5a;border-radius:9.2px;background:#fff;text-align:center;color:#b5b5b5;font-size:9.6px;line-height:15.8px;">---</div><div style="left:505.4px;top:210.5px;width:57.6px;height:18.4px;box-sizing:border-box;border:1.3px solid #5a5a5a;border-radius:9.2px;background:#fff;text-align:center;color:#b5b5b5;font-size:9.6px;line-height:15.8px;">---</div><div style="left:564.8px;top:210.5px;width:57.6px;height:18.4px;box-sizing:border-box;border:1.3px solid #5a5a5a;border-radius:9.2px;background:#fff;text-align:center;color:#b5b5b5;font-size:9.6px;line-height:15.8px;">---</div><div style="left:624.2px;top:210.5px;width:200.2px;height:18.4px;box-sizing:border-box;border:1.3px solid #5a5a5a;border-radius:9.2px;background:#fff;text-align:center;color:#b5b5b5;font-size:9.6px;line-height:15.8px;"></div><div style="left:96.0px;top:230.8px;width:14.8px;height:21.9px;background:#dde2ec;border-bottom:1px solid #c2c9d6;box-sizing:border-box;"></div><svg style="position:absolute;left:99.2px;top:237.8px" width="9" height="8" viewBox="0 0 9 8"><path d="M0.6 2.2V7.2H8.4V2.2H4.2L3.4 0.8H0.6Z" fill="#fff" stroke="#3c3c3c" stroke-width="1"/><path d="M0.6 2.3H8.4" stroke="#3c3c3c" stroke-width="0.9"/></svg><div style="left:112.5px;top:232.8px;width:109.0px;height:18.4px;border-radius:9.2px;background:#dde1ea;text-align:center;color:#4a4a4a;font-size:9.6px;line-height:18.6px;">EURGBPmicro</div><div style="left:223.6px;top:232.8px;width:42.6px;height:18.4px;box-sizing:border-box;border:1px solid #e2e2e2;border-radius:9.2px;background:#fff;text-align:center;color:#4a4a4a;font-size:9.6px;line-height:16.6px;">H1</div><div style="left:268.0px;top:232.8px;width:57.7px;height:18.4px;box-sizing:border-box;border:1.3px solid #5a5a5a;border-radius:9.2px;background:#fff;text-align:center;color:#b5b5b5;font-size:9.6px;line-height:15.8px;">---</div><div style="left:327.4px;top:232.8px;width:57.6px;height:18.4px;box-sizing:border-box;border:1.3px solid #5a5a5a;border-radius:9.2px;background:#fff;text-align:center;color:#b5b5b5;font-size:9.6px;line-height:15.8px;">---</div><div style="left:386.8px;top:232.8px;width:57.7px;height:18.4px;box-sizing:border-box;border:1.3px solid #5a5a5a;border-radius:9.2px;background:#fff;text-align:center;color:#b5b5b5;font-size:9.6px;line-height:15.8px;">---</div><div style="left:446.2px;top:232.8px;width:57.7px;height:18.4px;box-sizing:border-box;border:1.3px solid #5a5a5a;border-radius:9.2px;background:#fff;text-align:center;color:#b5b5b5;font-size:9.6px;line-height:15.8px;">---</div><div style="left:505.4px;top:232.8px;width:57.6px;height:18.4px;box-sizing:border-box;border:1.3px solid #5a5a5a;border-radius:9.2px;background:#fff;text-align:center;color:#b5b5b5;font-size:9.6px;line-height:15.8px;">---</div><div style="left:564.8px;top:232.8px;width:57.6px;height:18.4px;box-sizing:border-box;border:1.3px solid #5a5a5a;border-radius:9.2px;background:#fff;text-align:center;color:#b5b5b5;font-size:9.6px;line-height:15.8px;">---</div><div style="left:624.2px;top:232.8px;width:200.2px;height:18.4px;box-sizing:border-box;border:1.3px solid #5a5a5a;border-radius:9.2px;background:#fff;text-align:center;color:#b5b5b5;font-size:9.6px;line-height:15.8px;"></div><div style="left:96.0px;top:253.0px;width:14.8px;height:21.9px;background:#dde2ec;border-bottom:1px solid #c2c9d6;box-sizing:border-box;"></div><svg style="position:absolute;left:99.2px;top:260.0px" width="9" height="8" viewBox="0 0 9 8"><path d="M0.6 2.2V7.2H8.4V2.2H4.2L3.4 0.8H0.6Z" fill="#fff" stroke="#3c3c3c" stroke-width="1"/><path d="M0.6 2.3H8.4" stroke="#3c3c3c" stroke-width="0.9"/></svg><div style="left:112.5px;top:255.0px;width:109.0px;height:18.4px;border-radius:9.2px;background:#dde1ea;text-align:center;color:#4a4a4a;font-size:9.6px;line-height:18.6px;">EURGBPmicro</div><div style="left:223.6px;top:255.0px;width:42.6px;height:18.4px;box-sizing:border-box;border:1px solid #e2e2e2;border-radius:9.2px;background:#fff;text-align:center;color:#4a4a4a;font-size:9.6px;line-height:16.6px;">H4</div><div style="left:268.0px;top:255.0px;width:57.7px;height:18.4px;box-sizing:border-box;border:1.3px solid #5a5a5a;border-radius:9.2px;background:#fff;text-align:center;color:#b5b5b5;font-size:9.6px;line-height:15.8px;">---</div><div style="left:327.4px;top:255.0px;width:57.6px;height:18.4px;box-sizing:border-box;border:1.3px solid #5a5a5a;border-radius:9.2px;background:#fff;text-align:center;color:#b5b5b5;font-size:9.6px;line-height:15.8px;">---</div><div style="left:386.8px;top:255.0px;width:57.7px;height:18.4px;box-sizing:border-box;border:1.3px solid #5a5a5a;border-radius:9.2px;background:#fff;text-align:center;color:#b5b5b5;font-size:9.6px;line-height:15.8px;">---</div><div style="left:446.2px;top:255.0px;width:57.7px;height:18.4px;box-sizing:border-box;border:1.3px solid #5a5a5a;border-radius:9.2px;background:#fff;text-align:center;color:#b5b5b5;font-size:9.6px;line-height:15.8px;">---</div><div style="left:505.4px;top:255.0px;width:57.6px;height:18.4px;box-sizing:border-box;border:1.3px solid #5a5a5a;border-radius:9.2px;background:#fff;text-align:center;color:#b5b5b5;font-size:9.6px;line-height:15.8px;">---</div><div style="left:564.8px;top:255.0px;width:57.6px;height:18.4px;box-sizing:border-box;border:1.3px solid #5a5a5a;border-radius:9.2px;background:#fff;text-align:center;color:#b5b5b5;font-size:9.6px;line-height:15.8px;">---</div><div style="left:624.2px;top:255.0px;width:200.2px;height:18.4px;box-sizing:border-box;border:1.3px solid #5a5a5a;border-radius:9.2px;background:#fff;text-align:center;color:#b5b5b5;font-size:9.6px;line-height:15.8px;"></div><div style="left:96.0px;top:275.3px;width:14.8px;height:21.9px;background:#dde2ec;border-bottom:1px solid #c2c9d6;box-sizing:border-box;"></div><svg style="position:absolute;left:99.2px;top:282.3px" width="9" height="8" viewBox="0 0 9 8"><path d="M0.6 2.2V7.2H8.4V2.2H4.2L3.4 0.8H0.6Z" fill="#fff" stroke="#3c3c3c" stroke-width="1"/><path d="M0.6 2.3H8.4" stroke="#3c3c3c" stroke-width="0.9"/></svg><div style="left:112.5px;top:277.3px;width:109.0px;height:18.4px;border-radius:9.2px;background:#dde1ea;text-align:center;color:#4a4a4a;font-size:9.6px;line-height:18.6px;">EURGBPmicro</div><div style="left:223.6px;top:277.3px;width:42.6px;height:18.4px;box-sizing:border-box;border:1px solid #e2e2e2;border-radius:9.2px;background:#fff;text-align:center;color:#4a4a4a;font-size:9.6px;line-height:16.6px;">D1</div><div style="left:268.0px;top:277.3px;width:57.7px;height:18.4px;border-radius:9.2px;background:#e0232e;text-align:center;color:#fbe4e4;font-size:9.6px;line-height:18.6px;">0.85635</div><div style="left:327.4px;top:277.3px;width:57.6px;height:18.4px;border-radius:9.2px;background:#e0232e;text-align:center;color:#fbe4e4;font-size:9.6px;line-height:18.6px;">0.86913</div><div style="left:386.8px;top:277.3px;width:57.7px;height:18.4px;border-radius:9.2px;background:#e0232e;text-align:center;color:#fbe4e4;font-size:9.6px;line-height:18.6px;">0.84357</div><div style="left:446.2px;top:277.3px;width:57.7px;height:18.4px;border-radius:9.2px;background:#e0232e;text-align:center;color:#fbe4e4;font-size:9.6px;line-height:18.6px;">0.83079</div><div style="left:505.4px;top:277.3px;width:57.6px;height:18.4px;border-radius:9.2px;background:#e0232e;text-align:center;color:#fbe4e4;font-size:9.6px;line-height:18.6px;">0.81800</div><div style="left:564.8px;top:277.3px;width:57.6px;height:18.4px;border-radius:9.2px;background:#e0232e;text-align:center;color:#fbe4e4;font-size:9.6px;line-height:18.6px;">active</div><div style="left:624.2px;top:277.3px;width:200.2px;height:18.4px;border-radius:9.2px;background:#e0232e;text-align:center;color:#fbe4e4;font-size:9.6px;line-height:18.6px;letter-spacing:0.15px;">СЛАБЫЙ МЕДВЕЖИЙ РАЗВОРОТ</div><div style="left:96.0px;top:297.6px;width:14.8px;height:21.9px;background:#dde2ec;border-bottom:1px solid #c2c9d6;box-sizing:border-box;"></div><svg style="position:absolute;left:99.2px;top:304.6px" width="9" height="8" viewBox="0 0 9 8"><path d="M0.6 2.2V7.2H8.4V2.2H4.2L3.4 0.8H0.6Z" fill="#fff" stroke="#3c3c3c" stroke-width="1"/><path d="M0.6 2.3H8.4" stroke="#3c3c3c" stroke-width="0.9"/></svg><div style="left:112.5px;top:299.6px;width:109.0px;height:18.4px;border-radius:9.2px;background:#dde1ea;text-align:center;color:#4a4a4a;font-size:9.6px;line-height:18.6px;">EURGBPmicro</div><div style="left:223.6px;top:299.6px;width:42.6px;height:18.4px;box-sizing:border-box;border:1px solid #e2e2e2;border-radius:9.2px;background:#fff;text-align:center;color:#4a4a4a;font-size:9.6px;line-height:16.6px;">W1</div><div style="left:268.0px;top:299.6px;width:57.7px;height:18.4px;box-sizing:border-box;border:1.7px solid #0c0c0c;border-radius:9.2px;background:#fff;text-align:center;color:#333;font-size:9.6px;line-height:15.4px;">---</div><div style="left:327.4px;top:299.6px;width:57.6px;height:18.4px;box-sizing:border-box;border:1.7px solid #0c0c0c;border-radius:9.2px;background:#fff;text-align:center;color:#333;font-size:9.6px;line-height:15.4px;">---</div><div style="left:386.8px;top:299.6px;width:57.7px;height:18.4px;box-sizing:border-box;border:1.7px solid #0c0c0c;border-radius:9.2px;background:#fff;text-align:center;color:#333;font-size:9.6px;line-height:15.4px;">---</div><div style="left:446.2px;top:299.6px;width:57.7px;height:18.4px;box-sizing:border-box;border:1.7px solid #0c0c0c;border-radius:9.2px;background:#fff;text-align:center;color:#333;font-size:9.6px;line-height:15.4px;">---</div><div style="left:505.4px;top:299.6px;width:57.6px;height:18.4px;box-sizing:border-box;border:1.7px solid #0c0c0c;border-radius:9.2px;background:#fff;text-align:center;color:#333;font-size:9.6px;line-height:15.4px;">---</div><div style="left:564.8px;top:299.6px;width:57.6px;height:18.4px;box-sizing:border-box;border:1.7px solid #0c0c0c;border-radius:9.2px;background:#fff;text-align:center;color:#333;font-size:9.6px;line-height:15.4px;">---</div><div style="left:624.2px;top:299.6px;width:200.2px;height:18.4px;border-radius:9.2px;background:#000;text-align:center;color:#eee;font-size:9.6px;line-height:18.6px;">УЗЕЛ</div><div style="left:96.0px;top:319.8px;width:14.8px;height:21.9px;background:#dde2ec;border-bottom:1px solid #c2c9d6;box-sizing:border-box;"></div><svg style="position:absolute;left:99.2px;top:326.8px" width="9" height="8" viewBox="0 0 9 8"><path d="M0.6 2.2V7.2H8.4V2.2H4.2L3.4 0.8H0.6Z" fill="#fff" stroke="#3c3c3c" stroke-width="1"/><path d="M0.6 2.3H8.4" stroke="#3c3c3c" stroke-width="0.9"/></svg><div style="left:112.5px;top:321.8px;width:109.0px;height:18.4px;border-radius:9.2px;background:#dde1ea;text-align:center;color:#4a4a4a;font-size:9.6px;line-height:18.6px;">EURGBPmicro</div><div style="left:223.6px;top:321.8px;width:42.6px;height:18.4px;box-sizing:border-box;border:1px solid #e2e2e2;border-radius:9.2px;background:#fff;text-align:center;color:#4a4a4a;font-size:9.6px;line-height:16.6px;">MN</div><div style="left:268.0px;top:321.8px;width:57.7px;height:18.4px;box-sizing:border-box;border:1.7px solid #0c0c0c;border-radius:9.2px;background:#fff;text-align:center;color:#333;font-size:9.6px;line-height:15.4px;">---</div><div style="left:327.4px;top:321.8px;width:57.6px;height:18.4px;box-sizing:border-box;border:1.7px solid #0c0c0c;border-radius:9.2px;background:#fff;text-align:center;color:#333;font-size:9.6px;line-height:15.4px;">---</div><div style="left:386.8px;top:321.8px;width:57.7px;height:18.4px;box-sizing:border-box;border:1.7px solid #0c0c0c;border-radius:9.2px;background:#fff;text-align:center;color:#333;font-size:9.6px;line-height:15.4px;">---</div><div style="left:446.2px;top:321.8px;width:57.7px;height:18.4px;box-sizing:border-box;border:1.7px solid #0c0c0c;border-radius:9.2px;background:#fff;text-align:center;color:#333;font-size:9.6px;line-height:15.4px;">---</div><div style="left:505.4px;top:321.8px;width:57.6px;height:18.4px;box-sizing:border-box;border:1.7px solid #0c0c0c;border-radius:9.2px;background:#fff;text-align:center;color:#333;font-size:9.6px;line-height:15.4px;">---</div><div style="left:564.8px;top:321.8px;width:57.6px;height:18.4px;box-sizing:border-box;border:1.7px solid #0c0c0c;border-radius:9.2px;background:#fff;text-align:center;color:#333;font-size:9.6px;line-height:15.4px;">---</div><div style="left:624.2px;top:321.8px;width:200.2px;height:18.4px;border-radius:9.2px;background:#000;text-align:center;color:#eee;font-size:9.6px;line-height:18.6px;">УЗЕЛ</div><div style="left:96.0px;top:342.1px;width:14.8px;height:21.9px;background:#dde2ec;border-bottom:1px solid #c2c9d6;box-sizing:border-box;"></div><div style="left:112.5px;top:344.1px;width:109.0px;height:18.4px;box-sizing:border-box;border:1px solid #e4e4e4;border-radius:9.2px;background:#fff;"></div><div style="left:223.6px;top:344.1px;width:42.6px;height:18.4px;box-sizing:border-box;border:1px solid #e4e4e4;border-radius:9.2px;background:#fff;"></div><div style="left:268.0px;top:344.1px;width:57.7px;height:18.4px;box-sizing:border-box;border:1px solid #e9e9e9;border-radius:9.2px;background:#f1f1f1;"></div><div style="left:327.4px;top:344.1px;width:57.6px;height:18.4px;box-sizing:border-box;border:1px solid #e9e9e9;border-radius:9.2px;background:#f1f1f1;"></div><div style="left:386.8px;top:344.1px;width:57.7px;height:18.4px;box-sizing:border-box;border:1px solid #e9e9e9;border-radius:9.2px;background:#f1f1f1;"></div><div style="left:446.2px;top:344.1px;width:57.7px;height:18.4px;box-sizing:border-box;border:1px solid #e9e9e9;border-radius:9.2px;background:#f1f1f1;"></div><div style="left:505.4px;top:344.1px;width:57.6px;height:18.4px;box-sizing:border-box;border:1px solid #e9e9e9;border-radius:9.2px;background:#f1f1f1;"></div><div style="left:564.8px;top:344.1px;width:57.6px;height:18.4px;box-sizing:border-box;border:1px solid #e9e9e9;border-radius:9.2px;background:#f1f1f1;"></div><div style="left:624.2px;top:344.1px;width:200.2px;height:18.4px;box-sizing:border-box;border:1px solid #e9e9e9;border-radius:9.2px;background:#f1f1f1;"></div></div>
</body></html>
